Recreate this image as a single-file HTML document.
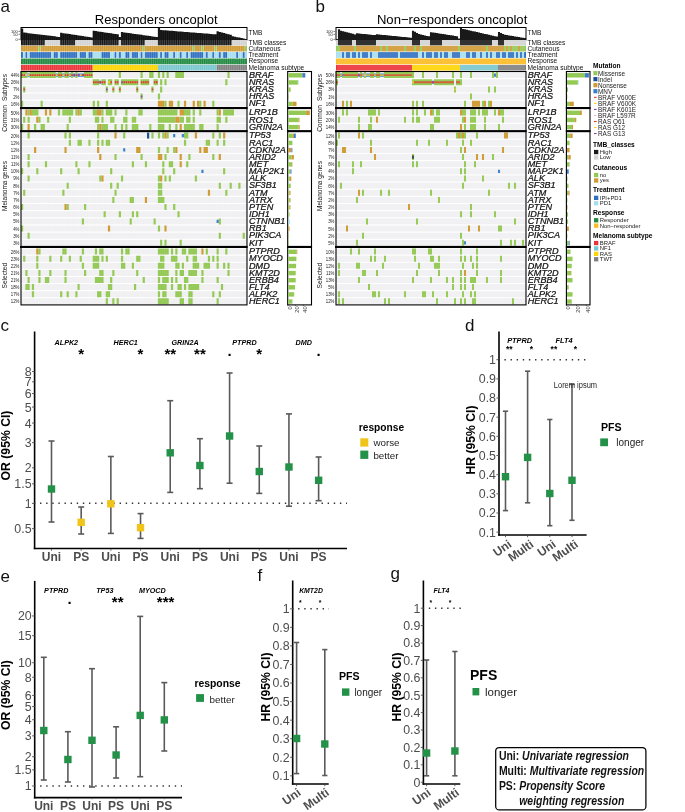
<!DOCTYPE html>
<html><head><meta charset="utf-8"><style>
html,body{margin:0;padding:0;background:#fff;width:685px;height:812px;overflow:hidden}
svg{display:block;will-change:transform}
text{font-family:"Liberation Sans",sans-serif}
</style></head><body>
<svg width="685" height="812" viewBox="0 0 685 812">
<rect width="685" height="812" fill="#fff"/>
<rect x="21.00" y="27.5" width="225.99" height="12.4" fill="none" stroke="#000" stroke-width="1"/>
<path d="M20.95 28.60H23.22V39.9H20.95ZM23.12 32.60H25.40V39.9H23.12ZM25.30 32.87H27.57V39.9H25.30ZM27.47 33.14H29.74V39.9H27.47ZM29.64 33.41H31.92V39.9H29.64ZM31.82 33.67H34.09V39.9H31.82ZM33.99 33.94H36.26V39.9H33.99ZM36.16 34.21H38.43V39.9H36.16ZM38.33 34.48H40.61V39.9H38.33ZM40.51 34.75H42.78V39.9H40.51ZM42.68 35.02H44.95V39.9H42.68ZM44.85 35.29H47.13V39.9H44.85ZM47.03 35.56H49.30V39.9H47.03ZM49.20 35.82H51.47V39.9H49.20ZM51.37 36.09H53.64V39.9H51.37ZM53.55 36.36H55.82V39.9H53.55ZM55.72 36.63H57.99V39.9H55.72ZM57.89 36.90H60.16V39.9H57.89ZM60.06 32.80H62.34V39.9H60.06ZM62.24 33.13H64.51V39.9H62.24ZM64.41 33.46H66.68V39.9H64.41ZM66.58 33.79H68.86V39.9H66.58ZM68.76 34.11H71.03V39.9H68.76ZM70.93 34.44H73.20V39.9H70.93ZM73.10 34.77H75.38V39.9H73.10ZM75.28 35.10H77.55V39.9H75.28ZM77.45 35.43H79.72V39.9H77.45ZM79.62 35.76H81.89V39.9H79.62ZM81.79 36.09H84.07V39.9H81.79ZM83.97 36.41H86.24V39.9H83.97ZM86.14 36.74H88.41V39.9H86.14ZM88.31 37.07H90.59V39.9H88.31ZM90.49 37.40H92.76V39.9H90.49ZM92.66 30.80H94.93V39.9H92.66ZM94.83 31.12H97.11V39.9H94.83ZM97.01 31.44H99.28V39.9H97.01ZM99.18 31.75H101.45V39.9H99.18ZM101.35 32.07H103.62V39.9H101.35ZM103.52 32.39H105.80V39.9H103.52ZM105.70 32.71H107.97V39.9H105.70ZM107.87 33.03H110.14V39.9H107.87ZM110.04 33.35H112.32V39.9H110.04ZM112.22 33.66H114.49V39.9H112.22ZM114.39 33.98H116.66V39.9H114.39ZM116.56 34.30H118.83V39.9H116.56ZM118.73 37.00H121.01V39.9H118.73ZM120.91 32.10H123.18V39.9H120.91ZM123.08 32.41H125.35V39.9H123.08ZM125.25 32.71H127.53V39.9H125.25ZM127.43 33.02H129.70V39.9H127.43ZM129.60 33.33H131.87V39.9H129.60ZM131.77 33.63H134.05V39.9H131.77ZM133.95 33.94H136.22V39.9H133.95ZM136.12 34.24H138.39V39.9H136.12ZM138.29 34.55H140.56V39.9H138.29ZM140.46 34.86H142.74V39.9H140.46ZM142.64 35.16H144.91V39.9H142.64ZM144.81 35.47H147.08V39.9H144.81ZM146.98 35.77H149.26V39.9H146.98ZM149.16 36.08H151.43V39.9H149.16ZM151.33 36.39H153.60V39.9H151.33ZM153.50 36.69H155.78V39.9H153.50ZM155.68 37.00H157.95V39.9H155.68ZM157.85 27.60H160.12V39.9H157.85ZM160.02 30.00H162.30V39.9H160.02ZM162.19 30.17H164.47V39.9H162.19ZM164.37 30.34H166.64V39.9H164.37ZM166.54 30.52H168.81V39.9H166.54ZM168.71 30.69H170.99V39.9H168.71ZM170.89 30.86H173.16V39.9H170.89ZM173.06 31.03H175.33V39.9H173.06ZM175.23 31.20H177.51V39.9H175.23ZM177.41 31.38H179.68V39.9H177.41ZM179.58 31.55H181.85V39.9H179.58ZM181.75 31.72H184.03V39.9H181.75ZM183.92 31.89H186.20V39.9H183.92ZM186.10 32.06H188.37V39.9H186.10ZM188.27 32.24H190.54V39.9H188.27ZM190.44 32.41H192.72V39.9H190.44ZM192.62 32.58H194.89V39.9H192.62ZM194.79 32.75H197.06V39.9H194.79ZM196.96 32.92H199.24V39.9H196.96ZM199.14 33.10H201.41V39.9H199.14ZM201.31 33.27H203.58V39.9H201.31ZM203.48 33.44H205.76V39.9H203.48ZM205.66 33.61H207.93V39.9H205.66ZM207.83 33.78H210.10V39.9H207.83ZM210.00 33.96H212.27V39.9H210.00ZM212.17 34.13H214.45V39.9H212.17ZM214.35 34.30H216.62V39.9H214.35ZM216.52 31.30H218.79V39.9H216.52ZM218.69 31.88H220.97V39.9H218.69ZM220.87 32.47H223.14V39.9H220.87ZM223.04 33.05H225.31V39.9H223.04ZM225.21 33.63H227.49V39.9H225.21ZM227.38 34.22H229.66V39.9H227.38ZM229.56 34.80H231.83V39.9H229.56ZM231.73 36.30H234.00V39.9H231.73ZM233.90 36.73H236.18V39.9H233.90ZM236.08 37.17H238.35V39.9H236.08ZM238.25 37.60H240.52V39.9H238.25ZM240.42 38.03H242.70V39.9H240.42ZM242.60 38.47H244.87V39.9H242.60ZM244.77 38.90H247.04V39.9H244.77Z" fill="#111"/>
<path d="M23.17 28V40M25.35 28V40M27.52 28V40M29.69 28V40M31.87 28V40M34.04 28V40M36.21 28V40M38.38 28V40M40.56 28V40M42.73 28V40M44.90 28V40M47.08 28V40M49.25 28V40M51.42 28V40M53.59 28V40M55.77 28V40M57.94 28V40M60.11 28V40M62.29 28V40M64.46 28V40M66.63 28V40M68.81 28V40M70.98 28V40M73.15 28V40M75.33 28V40M77.50 28V40M79.67 28V40M81.84 28V40M84.02 28V40M86.19 28V40M88.36 28V40M90.54 28V40M92.71 28V40M94.88 28V40M97.06 28V40M99.23 28V40M101.40 28V40M103.57 28V40M105.75 28V40M107.92 28V40M110.09 28V40M112.27 28V40M114.44 28V40M116.61 28V40M118.78 28V40M120.96 28V40M123.13 28V40M125.30 28V40M127.48 28V40M129.65 28V40M131.82 28V40M134.00 28V40M136.17 28V40M138.34 28V40M140.51 28V40M142.69 28V40M144.86 28V40M147.03 28V40M149.21 28V40M151.38 28V40M153.55 28V40M155.73 28V40M157.90 28V40M160.07 28V40M162.25 28V40M164.42 28V40M166.59 28V40M168.76 28V40M170.94 28V40M173.11 28V40M175.28 28V40M177.46 28V40M179.63 28V40M181.80 28V40M183.97 28V40M186.15 28V40M188.32 28V40M190.49 28V40M192.67 28V40M194.84 28V40M197.01 28V40M199.19 28V40M201.36 28V40M203.53 28V40M205.71 28V40M207.88 28V40M210.05 28V40M212.22 28V40M214.40 28V40M216.57 28V40M218.74 28V40M220.92 28V40M223.09 28V40M225.26 28V40M227.44 28V40M229.61 28V40M231.78 28V40M233.95 28V40M236.13 28V40M238.30 28V40M240.47 28V40M242.65 28V40M244.82 28V40" stroke="#fff" stroke-width="0.3" stroke-opacity="0.25"/>
<rect x="21.00" y="40.00" width="23.90" height="5.40" fill="#1A1A1A" />
<rect x="44.90" y="40.00" width="15.21" height="5.40" fill="#D3D3D3" />
<rect x="60.11" y="40.00" width="15.21" height="5.40" fill="#1A1A1A" />
<rect x="75.33" y="40.00" width="17.38" height="5.40" fill="#D3D3D3" />
<rect x="92.71" y="40.00" width="26.08" height="5.40" fill="#1A1A1A" />
<rect x="118.78" y="40.00" width="2.17" height="5.40" fill="#D3D3D3" />
<rect x="120.96" y="40.00" width="23.90" height="5.40" fill="#1A1A1A" />
<rect x="144.86" y="40.00" width="13.04" height="5.40" fill="#D3D3D3" />
<rect x="157.90" y="40.00" width="73.88" height="5.40" fill="#1A1A1A" />
<rect x="231.78" y="40.00" width="15.21" height="5.40" fill="#D3D3D3" />
<rect x="21.00" y="45.80" width="17.38" height="5.70" fill="#D09A33" />
<rect x="38.38" y="45.80" width="2.17" height="5.70" fill="#93C954" />
<rect x="40.56" y="45.80" width="102.13" height="5.70" fill="#D09A33" />
<rect x="142.69" y="45.80" width="2.17" height="5.70" fill="#93C954" />
<rect x="144.86" y="45.80" width="47.81" height="5.70" fill="#D09A33" />
<rect x="192.67" y="45.80" width="2.17" height="5.70" fill="#93C954" />
<rect x="194.84" y="45.80" width="6.52" height="5.70" fill="#D09A33" />
<rect x="201.36" y="45.80" width="2.17" height="5.70" fill="#93C954" />
<rect x="203.53" y="45.80" width="10.87" height="5.70" fill="#D09A33" />
<rect x="214.40" y="45.80" width="2.17" height="5.70" fill="#93C954" />
<rect x="216.57" y="45.80" width="28.25" height="5.70" fill="#D09A33" />
<rect x="244.82" y="45.80" width="2.17" height="5.70" fill="#93C954" />
<rect x="21.00" y="52.10" width="2.17" height="5.80" fill="#2E6FC0" />
<rect x="23.17" y="52.10" width="2.17" height="5.80" fill="#A6DEF0" />
<rect x="25.35" y="52.10" width="2.17" height="5.80" fill="#2E6FC0" />
<rect x="27.52" y="52.10" width="2.17" height="5.80" fill="#A6DEF0" />
<rect x="29.69" y="52.10" width="21.73" height="5.80" fill="#2E6FC0" />
<rect x="51.42" y="52.10" width="2.17" height="5.80" fill="#A6DEF0" />
<rect x="53.59" y="52.10" width="4.35" height="5.80" fill="#2E6FC0" />
<rect x="57.94" y="52.10" width="2.17" height="5.80" fill="#A6DEF0" />
<rect x="60.11" y="52.10" width="17.38" height="5.80" fill="#2E6FC0" />
<rect x="77.50" y="52.10" width="2.17" height="5.80" fill="#A6DEF0" />
<rect x="79.67" y="52.10" width="6.52" height="5.80" fill="#2E6FC0" />
<rect x="86.19" y="52.10" width="2.17" height="5.80" fill="#A6DEF0" />
<rect x="88.36" y="52.10" width="4.35" height="5.80" fill="#2E6FC0" />
<rect x="92.71" y="52.10" width="8.69" height="5.80" fill="#A6DEF0" />
<rect x="101.40" y="52.10" width="8.69" height="5.80" fill="#2E6FC0" />
<rect x="110.09" y="52.10" width="4.35" height="5.80" fill="#A6DEF0" />
<rect x="114.44" y="52.10" width="2.17" height="5.80" fill="#2E6FC0" />
<rect x="116.61" y="52.10" width="2.17" height="5.80" fill="#A6DEF0" />
<rect x="118.78" y="52.10" width="2.17" height="5.80" fill="#2E6FC0" />
<rect x="120.96" y="52.10" width="4.35" height="5.80" fill="#A6DEF0" />
<rect x="125.30" y="52.10" width="4.35" height="5.80" fill="#2E6FC0" />
<rect x="129.65" y="52.10" width="2.17" height="5.80" fill="#A6DEF0" />
<rect x="131.82" y="52.10" width="6.52" height="5.80" fill="#2E6FC0" />
<rect x="138.34" y="52.10" width="2.17" height="5.80" fill="#A6DEF0" />
<rect x="140.51" y="52.10" width="2.17" height="5.80" fill="#2E6FC0" />
<rect x="142.69" y="52.10" width="2.17" height="5.80" fill="#A6DEF0" />
<rect x="144.86" y="52.10" width="13.04" height="5.80" fill="#2E6FC0" />
<rect x="157.90" y="52.10" width="2.17" height="5.80" fill="#A6DEF0" />
<rect x="160.07" y="52.10" width="2.17" height="5.80" fill="#2E6FC0" />
<rect x="162.25" y="52.10" width="2.17" height="5.80" fill="#A6DEF0" />
<rect x="164.42" y="52.10" width="4.35" height="5.80" fill="#2E6FC0" />
<rect x="168.76" y="52.10" width="4.35" height="5.80" fill="#A6DEF0" />
<rect x="173.11" y="52.10" width="2.17" height="5.80" fill="#2E6FC0" />
<rect x="175.28" y="52.10" width="4.35" height="5.80" fill="#A6DEF0" />
<rect x="179.63" y="52.10" width="2.17" height="5.80" fill="#2E6FC0" />
<rect x="181.80" y="52.10" width="4.35" height="5.80" fill="#A6DEF0" />
<rect x="186.15" y="52.10" width="2.17" height="5.80" fill="#2E6FC0" />
<rect x="188.32" y="52.10" width="2.17" height="5.80" fill="#A6DEF0" />
<rect x="190.49" y="52.10" width="13.04" height="5.80" fill="#2E6FC0" />
<rect x="203.53" y="52.10" width="2.17" height="5.80" fill="#A6DEF0" />
<rect x="205.71" y="52.10" width="2.17" height="5.80" fill="#2E6FC0" />
<rect x="207.88" y="52.10" width="4.35" height="5.80" fill="#A6DEF0" />
<rect x="212.22" y="52.10" width="2.17" height="5.80" fill="#2E6FC0" />
<rect x="214.40" y="52.10" width="4.35" height="5.80" fill="#A6DEF0" />
<rect x="218.74" y="52.10" width="2.17" height="5.80" fill="#2E6FC0" />
<rect x="220.92" y="52.10" width="2.17" height="5.80" fill="#A6DEF0" />
<rect x="223.09" y="52.10" width="4.35" height="5.80" fill="#2E6FC0" />
<rect x="227.44" y="52.10" width="8.69" height="5.80" fill="#A6DEF0" />
<rect x="236.13" y="52.10" width="2.17" height="5.80" fill="#2E6FC0" />
<rect x="238.30" y="52.10" width="4.35" height="5.80" fill="#A6DEF0" />
<rect x="242.65" y="52.10" width="2.17" height="5.80" fill="#2E6FC0" />
<rect x="244.82" y="52.10" width="2.17" height="5.80" fill="#A6DEF0" />
<rect x="21.00" y="58.50" width="225.99" height="5.80" fill="#208A40" />
<rect x="21.00" y="64.90" width="71.71" height="5.60" fill="#EC3237" />
<rect x="92.71" y="64.90" width="65.19" height="5.60" fill="#FDD400" />
<rect x="157.90" y="64.90" width="58.67" height="5.60" fill="#78C6D0" />
<rect x="216.57" y="64.90" width="30.42" height="5.60" fill="#808080" />
<rect x="21.00" y="72.10" width="225.99" height="6.00" fill="#F0F0F2" />
<rect x="21.00" y="79.25" width="225.99" height="6.00" fill="#F0F0F2" />
<rect x="21.00" y="86.40" width="225.99" height="6.00" fill="#F0F0F2" />
<rect x="21.00" y="93.55" width="225.99" height="6.00" fill="#F0F0F2" />
<rect x="21.00" y="100.70" width="225.99" height="6.00" fill="#F0F0F2" />
<rect x="21.00" y="109.60" width="225.99" height="6.00" fill="#F0F0F2" />
<rect x="21.00" y="116.75" width="225.99" height="6.00" fill="#F0F0F2" />
<rect x="21.00" y="123.90" width="225.99" height="6.00" fill="#F0F0F2" />
<rect x="21.00" y="132.60" width="225.99" height="6.00" fill="#F0F0F2" />
<rect x="21.00" y="139.75" width="225.99" height="6.00" fill="#F0F0F2" />
<rect x="21.00" y="146.90" width="225.99" height="6.00" fill="#F0F0F2" />
<rect x="21.00" y="154.05" width="225.99" height="6.00" fill="#F0F0F2" />
<rect x="21.00" y="161.20" width="225.99" height="6.00" fill="#F0F0F2" />
<rect x="21.00" y="168.35" width="225.99" height="6.00" fill="#F0F0F2" />
<rect x="21.00" y="175.50" width="225.99" height="6.00" fill="#F0F0F2" />
<rect x="21.00" y="182.65" width="225.99" height="6.00" fill="#F0F0F2" />
<rect x="21.00" y="189.80" width="225.99" height="6.00" fill="#F0F0F2" />
<rect x="21.00" y="196.95" width="225.99" height="6.00" fill="#F0F0F2" />
<rect x="21.00" y="204.10" width="225.99" height="6.00" fill="#F0F0F2" />
<rect x="21.00" y="211.25" width="225.99" height="6.00" fill="#F0F0F2" />
<rect x="21.00" y="218.40" width="225.99" height="6.00" fill="#F0F0F2" />
<rect x="21.00" y="225.55" width="225.99" height="6.00" fill="#F0F0F2" />
<rect x="21.00" y="232.70" width="225.99" height="6.00" fill="#F0F0F2" />
<rect x="21.00" y="239.85" width="225.99" height="6.00" fill="#F0F0F2" />
<rect x="21.00" y="248.60" width="225.99" height="6.00" fill="#F0F0F2" />
<rect x="21.00" y="255.70" width="225.99" height="6.00" fill="#F0F0F2" />
<rect x="21.00" y="262.80" width="225.99" height="6.00" fill="#F0F0F2" />
<rect x="21.00" y="269.90" width="225.99" height="6.00" fill="#F0F0F2" />
<rect x="21.00" y="277.00" width="225.99" height="6.00" fill="#F0F0F2" />
<rect x="21.00" y="284.10" width="225.99" height="6.00" fill="#F0F0F2" />
<rect x="21.00" y="291.20" width="225.99" height="6.00" fill="#F0F0F2" />
<rect x="21.00" y="298.30" width="225.99" height="6.00" fill="#F0F0F2" />
<path d="M23.17 40V304.30M25.35 40V304.30M27.52 40V304.30M29.69 40V304.30M31.87 40V304.30M34.04 40V304.30M36.21 40V304.30M38.38 40V304.30M40.56 40V304.30M42.73 40V304.30M44.90 40V304.30M47.08 40V304.30M49.25 40V304.30M51.42 40V304.30M53.59 40V304.30M55.77 40V304.30M57.94 40V304.30M60.11 40V304.30M62.29 40V304.30M64.46 40V304.30M66.63 40V304.30M68.81 40V304.30M70.98 40V304.30M73.15 40V304.30M75.33 40V304.30M77.50 40V304.30M79.67 40V304.30M81.84 40V304.30M84.02 40V304.30M86.19 40V304.30M88.36 40V304.30M90.54 40V304.30M92.71 40V304.30M94.88 40V304.30M97.06 40V304.30M99.23 40V304.30M101.40 40V304.30M103.57 40V304.30M105.75 40V304.30M107.92 40V304.30M110.09 40V304.30M112.27 40V304.30M114.44 40V304.30M116.61 40V304.30M118.78 40V304.30M120.96 40V304.30M123.13 40V304.30M125.30 40V304.30M127.48 40V304.30M129.65 40V304.30M131.82 40V304.30M134.00 40V304.30M136.17 40V304.30M138.34 40V304.30M140.51 40V304.30M142.69 40V304.30M144.86 40V304.30M147.03 40V304.30M149.21 40V304.30M151.38 40V304.30M153.55 40V304.30M155.73 40V304.30M157.90 40V304.30M160.07 40V304.30M162.25 40V304.30M164.42 40V304.30M166.59 40V304.30M168.76 40V304.30M170.94 40V304.30M173.11 40V304.30M175.28 40V304.30M177.46 40V304.30M179.63 40V304.30M181.80 40V304.30M183.97 40V304.30M186.15 40V304.30M188.32 40V304.30M190.49 40V304.30M192.67 40V304.30M194.84 40V304.30M197.01 40V304.30M199.19 40V304.30M201.36 40V304.30M203.53 40V304.30M205.71 40V304.30M207.88 40V304.30M210.05 40V304.30M212.22 40V304.30M214.40 40V304.30M216.57 40V304.30M218.74 40V304.30M220.92 40V304.30M223.09 40V304.30M225.26 40V304.30M227.44 40V304.30M229.61 40V304.30M231.78 40V304.30M233.95 40V304.30M236.13 40V304.30M238.30 40V304.30M240.47 40V304.30M242.65 40V304.30M244.82 40V304.30" stroke="#fff" stroke-width="0.3" stroke-opacity="0.55"/>
<path d="M20.98 72.10h2.21v6.00h-2.21ZM23.15 72.10h2.21v6.00h-2.21ZM25.33 72.10h2.21v6.00h-2.21ZM29.67 72.10h2.21v6.00h-2.21ZM31.85 72.10h2.21v6.00h-2.21ZM34.02 72.10h2.21v6.00h-2.21ZM36.19 72.10h2.21v6.00h-2.21ZM38.36 72.10h2.21v6.00h-2.21ZM40.54 72.10h2.21v6.00h-2.21ZM42.71 72.10h2.21v6.00h-2.21ZM44.88 72.10h2.21v6.00h-2.21ZM47.06 72.10h2.21v6.00h-2.21ZM49.23 72.10h2.21v6.00h-2.21ZM51.40 72.10h2.21v6.00h-2.21ZM53.57 72.10h2.21v6.00h-2.21ZM57.92 72.10h2.21v6.00h-2.21ZM60.09 72.10h2.21v6.00h-2.21ZM64.44 72.10h2.21v6.00h-2.21ZM66.61 72.10h2.21v6.00h-2.21ZM70.96 72.10h2.21v6.00h-2.21ZM75.31 72.10h2.21v6.00h-2.21ZM84.00 72.10h2.21v6.00h-2.21ZM86.17 72.10h2.21v6.00h-2.21ZM88.34 72.10h2.21v6.00h-2.21ZM90.52 72.10h2.21v6.00h-2.21ZM118.77 72.10h2.21v6.00h-2.21ZM140.49 72.10h2.21v6.00h-2.21ZM149.19 72.10h2.21v6.00h-2.21ZM151.36 72.10h2.21v6.00h-2.21ZM157.88 72.10h2.21v6.00h-2.21ZM162.22 72.10h2.21v6.00h-2.21ZM166.57 72.10h2.21v6.00h-2.21ZM175.26 72.10h2.21v6.00h-2.21ZM177.44 72.10h2.21v6.00h-2.21ZM179.61 72.10h2.21v6.00h-2.21ZM181.78 72.10h2.21v6.00h-2.21ZM227.41 72.10h2.21v6.00h-2.21ZM92.69 79.25h2.21v6.00h-2.21ZM94.86 79.25h2.21v6.00h-2.21ZM97.04 79.25h2.21v6.00h-2.21ZM101.38 79.25h2.21v6.00h-2.21ZM103.55 79.25h2.21v6.00h-2.21ZM107.90 79.25h2.21v6.00h-2.21ZM110.07 79.25h2.21v6.00h-2.21ZM114.42 79.25h2.21v6.00h-2.21ZM116.59 79.25h2.21v6.00h-2.21ZM120.94 79.25h2.21v6.00h-2.21ZM123.11 79.25h2.21v6.00h-2.21ZM125.28 79.25h2.21v6.00h-2.21ZM127.46 79.25h2.21v6.00h-2.21ZM129.63 79.25h2.21v6.00h-2.21ZM131.80 79.25h2.21v6.00h-2.21ZM133.98 79.25h2.21v6.00h-2.21ZM136.15 79.25h2.21v6.00h-2.21ZM140.49 79.25h2.21v6.00h-2.21ZM142.67 79.25h2.21v6.00h-2.21ZM144.84 79.25h2.21v6.00h-2.21ZM147.01 79.25h2.21v6.00h-2.21ZM153.53 79.25h2.21v6.00h-2.21ZM155.71 79.25h2.21v6.00h-2.21ZM160.05 79.25h2.21v6.00h-2.21ZM164.40 79.25h2.21v6.00h-2.21ZM225.24 79.25h2.21v6.00h-2.21ZM23.15 86.40h2.21v6.00h-2.21ZM105.73 86.40h2.21v6.00h-2.21ZM112.25 86.40h2.21v6.00h-2.21ZM118.77 86.40h2.21v6.00h-2.21ZM136.15 86.40h2.21v6.00h-2.21ZM151.36 86.40h2.21v6.00h-2.21ZM160.05 86.40h2.21v6.00h-2.21ZM140.49 93.55h2.21v6.00h-2.21ZM157.88 93.55h2.21v6.00h-2.21ZM20.98 100.70h2.21v6.00h-2.21ZM40.54 100.70h2.21v6.00h-2.21ZM92.69 100.70h2.21v6.00h-2.21ZM97.04 100.70h2.21v6.00h-2.21ZM105.73 100.70h2.21v6.00h-2.21ZM164.40 100.70h2.21v6.00h-2.21ZM177.44 100.70h2.21v6.00h-2.21ZM199.17 100.70h2.21v6.00h-2.21ZM212.20 100.70h2.21v6.00h-2.21ZM27.50 109.60h2.21v6.00h-2.21ZM31.85 109.60h2.21v6.00h-2.21ZM34.02 109.60h2.21v6.00h-2.21ZM36.19 109.60h2.21v6.00h-2.21ZM57.92 109.60h2.21v6.00h-2.21ZM62.27 109.60h2.21v6.00h-2.21ZM64.44 109.60h2.21v6.00h-2.21ZM66.61 109.60h2.21v6.00h-2.21ZM68.79 109.60h2.21v6.00h-2.21ZM70.96 109.60h2.21v6.00h-2.21ZM75.31 109.60h2.21v6.00h-2.21ZM79.65 109.60h2.21v6.00h-2.21ZM92.69 109.60h2.21v6.00h-2.21ZM94.86 109.60h2.21v6.00h-2.21ZM101.38 109.60h2.21v6.00h-2.21ZM105.73 109.60h2.21v6.00h-2.21ZM107.90 109.60h2.21v6.00h-2.21ZM110.07 109.60h2.21v6.00h-2.21ZM114.42 109.60h2.21v6.00h-2.21ZM125.28 109.60h2.21v6.00h-2.21ZM138.32 109.60h2.21v6.00h-2.21ZM140.49 109.60h2.21v6.00h-2.21ZM157.88 109.60h2.21v6.00h-2.21ZM160.05 109.60h2.21v6.00h-2.21ZM162.22 109.60h2.21v6.00h-2.21ZM164.40 109.60h2.21v6.00h-2.21ZM166.57 109.60h2.21v6.00h-2.21ZM168.74 109.60h2.21v6.00h-2.21ZM170.92 109.60h2.21v6.00h-2.21ZM173.09 109.60h2.21v6.00h-2.21ZM175.26 109.60h2.21v6.00h-2.21ZM183.95 109.60h2.21v6.00h-2.21ZM186.13 109.60h2.21v6.00h-2.21ZM188.30 109.60h2.21v6.00h-2.21ZM192.65 109.60h2.21v6.00h-2.21ZM199.17 109.60h2.21v6.00h-2.21ZM216.55 109.60h2.21v6.00h-2.21ZM223.07 109.60h2.21v6.00h-2.21ZM225.24 109.60h2.21v6.00h-2.21ZM227.41 109.60h2.21v6.00h-2.21ZM229.59 109.60h2.21v6.00h-2.21ZM231.76 109.60h2.21v6.00h-2.21ZM23.15 116.75h2.21v6.00h-2.21ZM27.50 116.75h2.21v6.00h-2.21ZM38.36 116.75h2.21v6.00h-2.21ZM47.06 116.75h2.21v6.00h-2.21ZM68.79 116.75h2.21v6.00h-2.21ZM94.86 116.75h2.21v6.00h-2.21ZM97.04 116.75h2.21v6.00h-2.21ZM101.38 116.75h2.21v6.00h-2.21ZM110.07 116.75h2.21v6.00h-2.21ZM112.25 116.75h2.21v6.00h-2.21ZM123.11 116.75h2.21v6.00h-2.21ZM125.28 116.75h2.21v6.00h-2.21ZM131.80 116.75h2.21v6.00h-2.21ZM133.98 116.75h2.21v6.00h-2.21ZM157.88 116.75h2.21v6.00h-2.21ZM160.05 116.75h2.21v6.00h-2.21ZM162.22 116.75h2.21v6.00h-2.21ZM164.40 116.75h2.21v6.00h-2.21ZM166.57 116.75h2.21v6.00h-2.21ZM168.74 116.75h2.21v6.00h-2.21ZM170.92 116.75h2.21v6.00h-2.21ZM173.09 116.75h2.21v6.00h-2.21ZM179.61 116.75h2.21v6.00h-2.21ZM181.78 116.75h2.21v6.00h-2.21ZM186.13 116.75h2.21v6.00h-2.21ZM188.30 116.75h2.21v6.00h-2.21ZM192.65 116.75h2.21v6.00h-2.21ZM216.55 116.75h2.21v6.00h-2.21ZM218.72 116.75h2.21v6.00h-2.21ZM225.24 116.75h2.21v6.00h-2.21ZM20.98 123.90h2.21v6.00h-2.21ZM34.02 123.90h2.21v6.00h-2.21ZM40.54 123.90h2.21v6.00h-2.21ZM42.71 123.90h2.21v6.00h-2.21ZM66.61 123.90h2.21v6.00h-2.21ZM97.04 123.90h2.21v6.00h-2.21ZM101.38 123.90h2.21v6.00h-2.21ZM103.55 123.90h2.21v6.00h-2.21ZM105.73 123.90h2.21v6.00h-2.21ZM114.42 123.90h2.21v6.00h-2.21ZM120.94 123.90h2.21v6.00h-2.21ZM125.28 123.90h2.21v6.00h-2.21ZM131.80 123.90h2.21v6.00h-2.21ZM133.98 123.90h2.21v6.00h-2.21ZM136.15 123.90h2.21v6.00h-2.21ZM149.19 123.90h2.21v6.00h-2.21ZM157.88 123.90h2.21v6.00h-2.21ZM160.05 123.90h2.21v6.00h-2.21ZM162.22 123.90h2.21v6.00h-2.21ZM168.74 123.90h2.21v6.00h-2.21ZM175.26 123.90h2.21v6.00h-2.21ZM183.95 123.90h2.21v6.00h-2.21ZM186.13 123.90h2.21v6.00h-2.21ZM188.30 123.90h2.21v6.00h-2.21ZM190.47 123.90h2.21v6.00h-2.21ZM192.65 123.90h2.21v6.00h-2.21ZM199.17 123.90h2.21v6.00h-2.21ZM201.34 123.90h2.21v6.00h-2.21ZM216.55 123.90h2.21v6.00h-2.21ZM27.50 132.60h2.21v6.00h-2.21ZM64.44 132.60h2.21v6.00h-2.21ZM68.79 132.60h2.21v6.00h-2.21ZM97.04 132.60h2.21v6.00h-2.21ZM123.11 132.60h2.21v6.00h-2.21ZM151.36 132.60h2.21v6.00h-2.21ZM157.88 132.60h2.21v6.00h-2.21ZM162.22 132.60h2.21v6.00h-2.21ZM166.57 132.60h2.21v6.00h-2.21ZM183.95 132.60h2.21v6.00h-2.21ZM186.13 132.60h2.21v6.00h-2.21ZM212.20 132.60h2.21v6.00h-2.21ZM218.72 132.60h2.21v6.00h-2.21ZM68.79 139.75h2.21v6.00h-2.21ZM77.48 139.75h2.21v6.00h-2.21ZM79.65 139.75h2.21v6.00h-2.21ZM88.34 139.75h2.21v6.00h-2.21ZM97.04 139.75h2.21v6.00h-2.21ZM101.38 139.75h2.21v6.00h-2.21ZM105.73 139.75h2.21v6.00h-2.21ZM107.90 139.75h2.21v6.00h-2.21ZM183.95 139.75h2.21v6.00h-2.21ZM205.69 139.75h2.21v6.00h-2.21ZM207.86 139.75h2.21v6.00h-2.21ZM216.55 139.75h2.21v6.00h-2.21ZM223.07 139.75h2.21v6.00h-2.21ZM157.88 146.90h2.21v6.00h-2.21ZM166.57 146.90h2.21v6.00h-2.21ZM173.09 146.90h2.21v6.00h-2.21ZM27.50 154.05h2.21v6.00h-2.21ZM114.42 154.05h2.21v6.00h-2.21ZM140.49 154.05h2.21v6.00h-2.21ZM164.40 154.05h2.21v6.00h-2.21ZM188.30 154.05h2.21v6.00h-2.21ZM212.20 154.05h2.21v6.00h-2.21ZM27.50 161.20h2.21v6.00h-2.21ZM44.88 161.20h2.21v6.00h-2.21ZM75.31 161.20h2.21v6.00h-2.21ZM88.34 161.20h2.21v6.00h-2.21ZM131.80 161.20h2.21v6.00h-2.21ZM144.84 161.20h2.21v6.00h-2.21ZM162.22 161.20h2.21v6.00h-2.21ZM168.74 161.20h2.21v6.00h-2.21ZM170.92 161.20h2.21v6.00h-2.21ZM186.13 161.20h2.21v6.00h-2.21ZM20.98 168.35h2.21v6.00h-2.21ZM36.19 168.35h2.21v6.00h-2.21ZM60.09 168.35h2.21v6.00h-2.21ZM77.48 168.35h2.21v6.00h-2.21ZM110.07 168.35h2.21v6.00h-2.21ZM162.22 168.35h2.21v6.00h-2.21ZM173.09 168.35h2.21v6.00h-2.21ZM223.07 168.35h2.21v6.00h-2.21ZM27.50 175.50h2.21v6.00h-2.21ZM99.21 175.50h2.21v6.00h-2.21ZM120.94 175.50h2.21v6.00h-2.21ZM157.88 175.50h2.21v6.00h-2.21ZM164.40 175.50h2.21v6.00h-2.21ZM168.74 175.50h2.21v6.00h-2.21ZM194.82 175.50h2.21v6.00h-2.21ZM66.61 182.65h2.21v6.00h-2.21ZM110.07 182.65h2.21v6.00h-2.21ZM116.59 182.65h2.21v6.00h-2.21ZM157.88 182.65h2.21v6.00h-2.21ZM160.05 182.65h2.21v6.00h-2.21ZM218.72 182.65h2.21v6.00h-2.21ZM229.59 182.65h2.21v6.00h-2.21ZM238.28 182.65h2.21v6.00h-2.21ZM23.15 189.80h2.21v6.00h-2.21ZM62.27 189.80h2.21v6.00h-2.21ZM114.42 189.80h2.21v6.00h-2.21ZM157.88 189.80h2.21v6.00h-2.21ZM160.05 189.80h2.21v6.00h-2.21ZM225.24 189.80h2.21v6.00h-2.21ZM112.25 196.95h2.21v6.00h-2.21ZM129.63 196.95h2.21v6.00h-2.21ZM131.80 196.95h2.21v6.00h-2.21ZM157.88 196.95h2.21v6.00h-2.21ZM160.05 196.95h2.21v6.00h-2.21ZM162.22 196.95h2.21v6.00h-2.21ZM20.98 204.10h2.21v6.00h-2.21ZM66.61 204.10h2.21v6.00h-2.21ZM84.00 204.10h2.21v6.00h-2.21ZM164.40 204.10h2.21v6.00h-2.21ZM173.09 204.10h2.21v6.00h-2.21ZM103.55 211.25h2.21v6.00h-2.21ZM118.77 211.25h2.21v6.00h-2.21ZM131.80 211.25h2.21v6.00h-2.21ZM136.15 211.25h2.21v6.00h-2.21ZM177.44 211.25h2.21v6.00h-2.21ZM81.82 218.40h2.21v6.00h-2.21ZM129.63 218.40h2.21v6.00h-2.21ZM153.53 218.40h2.21v6.00h-2.21ZM218.72 218.40h2.21v6.00h-2.21ZM20.98 225.55h2.21v6.00h-2.21ZM157.88 225.55h2.21v6.00h-2.21ZM27.50 232.70h2.21v6.00h-2.21ZM218.72 232.70h2.21v6.00h-2.21ZM242.63 232.70h2.21v6.00h-2.21ZM160.05 239.85h2.21v6.00h-2.21ZM164.40 239.85h2.21v6.00h-2.21ZM179.61 239.85h2.21v6.00h-2.21ZM38.36 248.60h2.21v6.00h-2.21ZM62.27 248.60h2.21v6.00h-2.21ZM64.44 248.60h2.21v6.00h-2.21ZM81.82 248.60h2.21v6.00h-2.21ZM94.86 248.60h2.21v6.00h-2.21ZM99.21 248.60h2.21v6.00h-2.21ZM101.38 248.60h2.21v6.00h-2.21ZM120.94 248.60h2.21v6.00h-2.21ZM125.28 248.60h2.21v6.00h-2.21ZM127.46 248.60h2.21v6.00h-2.21ZM157.88 248.60h2.21v6.00h-2.21ZM160.05 248.60h2.21v6.00h-2.21ZM162.22 248.60h2.21v6.00h-2.21ZM164.40 248.60h2.21v6.00h-2.21ZM166.57 248.60h2.21v6.00h-2.21ZM170.92 248.60h2.21v6.00h-2.21ZM175.26 248.60h2.21v6.00h-2.21ZM181.78 248.60h2.21v6.00h-2.21ZM183.95 248.60h2.21v6.00h-2.21ZM188.30 248.60h2.21v6.00h-2.21ZM192.65 248.60h2.21v6.00h-2.21ZM190.47 248.60h2.21v6.00h-2.21ZM194.82 248.60h2.21v6.00h-2.21ZM205.69 248.60h2.21v6.00h-2.21ZM216.55 248.60h2.21v6.00h-2.21ZM225.24 248.60h2.21v6.00h-2.21ZM23.15 255.70h2.21v6.00h-2.21ZM36.19 255.70h2.21v6.00h-2.21ZM49.23 255.70h2.21v6.00h-2.21ZM60.09 255.70h2.21v6.00h-2.21ZM68.79 255.70h2.21v6.00h-2.21ZM79.65 255.70h2.21v6.00h-2.21ZM92.69 255.70h2.21v6.00h-2.21ZM94.86 255.70h2.21v6.00h-2.21ZM97.04 255.70h2.21v6.00h-2.21ZM101.38 255.70h2.21v6.00h-2.21ZM105.73 255.70h2.21v6.00h-2.21ZM120.94 255.70h2.21v6.00h-2.21ZM136.15 255.70h2.21v6.00h-2.21ZM138.32 255.70h2.21v6.00h-2.21ZM160.05 255.70h2.21v6.00h-2.21ZM162.22 255.70h2.21v6.00h-2.21ZM170.92 255.70h2.21v6.00h-2.21ZM173.09 255.70h2.21v6.00h-2.21ZM175.26 255.70h2.21v6.00h-2.21ZM186.13 255.70h2.21v6.00h-2.21ZM192.65 255.70h2.21v6.00h-2.21ZM194.82 255.70h2.21v6.00h-2.21ZM207.86 255.70h2.21v6.00h-2.21ZM212.20 255.70h2.21v6.00h-2.21ZM216.55 255.70h2.21v6.00h-2.21ZM36.19 262.80h2.21v6.00h-2.21ZM81.82 262.80h2.21v6.00h-2.21ZM92.69 262.80h2.21v6.00h-2.21ZM94.86 262.80h2.21v6.00h-2.21ZM97.04 262.80h2.21v6.00h-2.21ZM120.94 262.80h2.21v6.00h-2.21ZM123.11 262.80h2.21v6.00h-2.21ZM131.80 262.80h2.21v6.00h-2.21ZM157.88 262.80h2.21v6.00h-2.21ZM160.05 262.80h2.21v6.00h-2.21ZM162.22 262.80h2.21v6.00h-2.21ZM175.26 262.80h2.21v6.00h-2.21ZM177.44 262.80h2.21v6.00h-2.21ZM181.78 262.80h2.21v6.00h-2.21ZM192.65 262.80h2.21v6.00h-2.21ZM194.82 262.80h2.21v6.00h-2.21ZM196.99 262.80h2.21v6.00h-2.21ZM203.51 262.80h2.21v6.00h-2.21ZM205.69 262.80h2.21v6.00h-2.21ZM207.86 262.80h2.21v6.00h-2.21ZM216.55 262.80h2.21v6.00h-2.21ZM223.07 262.80h2.21v6.00h-2.21ZM227.41 262.80h2.21v6.00h-2.21ZM25.33 269.90h2.21v6.00h-2.21ZM38.36 269.90h2.21v6.00h-2.21ZM49.23 269.90h2.21v6.00h-2.21ZM64.44 269.90h2.21v6.00h-2.21ZM84.00 269.90h2.21v6.00h-2.21ZM99.21 269.90h2.21v6.00h-2.21ZM101.38 269.90h2.21v6.00h-2.21ZM112.25 269.90h2.21v6.00h-2.21ZM136.15 269.90h2.21v6.00h-2.21ZM157.88 269.90h2.21v6.00h-2.21ZM160.05 269.90h2.21v6.00h-2.21ZM162.22 269.90h2.21v6.00h-2.21ZM164.40 269.90h2.21v6.00h-2.21ZM166.57 269.90h2.21v6.00h-2.21ZM175.26 269.90h2.21v6.00h-2.21ZM179.61 269.90h2.21v6.00h-2.21ZM181.78 269.90h2.21v6.00h-2.21ZM188.30 269.90h2.21v6.00h-2.21ZM192.65 269.90h2.21v6.00h-2.21ZM190.47 269.90h2.21v6.00h-2.21ZM194.82 269.90h2.21v6.00h-2.21ZM201.34 269.90h2.21v6.00h-2.21ZM227.41 269.90h2.21v6.00h-2.21ZM27.50 277.00h2.21v6.00h-2.21ZM38.36 277.00h2.21v6.00h-2.21ZM44.88 277.00h2.21v6.00h-2.21ZM47.06 277.00h2.21v6.00h-2.21ZM64.44 277.00h2.21v6.00h-2.21ZM94.86 277.00h2.21v6.00h-2.21ZM97.04 277.00h2.21v6.00h-2.21ZM99.21 277.00h2.21v6.00h-2.21ZM101.38 277.00h2.21v6.00h-2.21ZM110.07 277.00h2.21v6.00h-2.21ZM142.67 277.00h2.21v6.00h-2.21ZM157.88 277.00h2.21v6.00h-2.21ZM162.22 277.00h2.21v6.00h-2.21ZM164.40 277.00h2.21v6.00h-2.21ZM166.57 277.00h2.21v6.00h-2.21ZM170.92 277.00h2.21v6.00h-2.21ZM175.26 277.00h2.21v6.00h-2.21ZM183.95 277.00h2.21v6.00h-2.21ZM186.13 277.00h2.21v6.00h-2.21ZM201.34 277.00h2.21v6.00h-2.21ZM216.55 277.00h2.21v6.00h-2.21ZM25.33 284.10h2.21v6.00h-2.21ZM27.50 284.10h2.21v6.00h-2.21ZM31.85 284.10h2.21v6.00h-2.21ZM77.48 284.10h2.21v6.00h-2.21ZM107.90 284.10h2.21v6.00h-2.21ZM110.07 284.10h2.21v6.00h-2.21ZM133.98 284.10h2.21v6.00h-2.21ZM157.88 284.10h2.21v6.00h-2.21ZM160.05 284.10h2.21v6.00h-2.21ZM162.22 284.10h2.21v6.00h-2.21ZM164.40 284.10h2.21v6.00h-2.21ZM170.92 284.10h2.21v6.00h-2.21ZM177.44 284.10h2.21v6.00h-2.21ZM179.61 284.10h2.21v6.00h-2.21ZM183.95 284.10h2.21v6.00h-2.21ZM188.30 284.10h2.21v6.00h-2.21ZM192.65 284.10h2.21v6.00h-2.21ZM190.47 284.10h2.21v6.00h-2.21ZM194.82 284.10h2.21v6.00h-2.21ZM196.99 284.10h2.21v6.00h-2.21ZM220.90 284.10h2.21v6.00h-2.21ZM31.85 291.20h2.21v6.00h-2.21ZM60.09 291.20h2.21v6.00h-2.21ZM66.61 291.20h2.21v6.00h-2.21ZM75.31 291.20h2.21v6.00h-2.21ZM97.04 291.20h2.21v6.00h-2.21ZM99.21 291.20h2.21v6.00h-2.21ZM105.73 291.20h2.21v6.00h-2.21ZM107.90 291.20h2.21v6.00h-2.21ZM157.88 291.20h2.21v6.00h-2.21ZM162.22 291.20h2.21v6.00h-2.21ZM164.40 291.20h2.21v6.00h-2.21ZM175.26 291.20h2.21v6.00h-2.21ZM177.44 291.20h2.21v6.00h-2.21ZM179.61 291.20h2.21v6.00h-2.21ZM188.30 291.20h2.21v6.00h-2.21ZM190.47 291.20h2.21v6.00h-2.21ZM212.20 291.20h2.21v6.00h-2.21ZM218.72 291.20h2.21v6.00h-2.21ZM105.73 298.30h2.21v6.00h-2.21ZM112.25 298.30h2.21v6.00h-2.21ZM116.59 298.30h2.21v6.00h-2.21ZM157.88 298.30h2.21v6.00h-2.21ZM160.05 298.30h2.21v6.00h-2.21ZM162.22 298.30h2.21v6.00h-2.21ZM164.40 298.30h2.21v6.00h-2.21ZM166.57 298.30h2.21v6.00h-2.21ZM179.61 298.30h2.21v6.00h-2.21ZM181.78 298.30h2.21v6.00h-2.21ZM188.30 298.30h2.21v6.00h-2.21ZM190.47 298.30h2.21v6.00h-2.21ZM216.55 298.30h2.21v6.00h-2.21Z" fill="#93C954"/>
<path d="M27.50 73.55h2.21v3.10h-2.21ZM55.75 73.55h2.21v3.10h-2.21ZM62.27 73.55h2.21v3.10h-2.21ZM68.79 73.55h2.21v3.10h-2.21ZM73.13 73.55h2.21v3.10h-2.21ZM77.48 73.55h2.21v3.10h-2.21ZM79.65 73.55h2.21v3.10h-2.21ZM81.82 73.55h2.21v3.10h-2.21ZM99.21 80.70h2.21v3.10h-2.21ZM173.09 134.05h2.21v3.10h-2.21ZM181.78 134.05h2.21v3.10h-2.21ZM123.11 148.35h2.21v3.10h-2.21ZM201.34 169.80h2.21v3.10h-2.21ZM216.55 219.85h2.21v3.10h-2.21Z" fill="#3B7FCC"/>
<path d="M157.88 100.70h2.21v6.00h-2.21ZM160.05 100.70h2.21v6.00h-2.21ZM162.22 100.70h2.21v6.00h-2.21ZM168.74 100.70h2.21v6.00h-2.21ZM170.92 100.70h2.21v6.00h-2.21ZM183.95 100.70h2.21v6.00h-2.21ZM192.65 100.70h2.21v6.00h-2.21ZM196.99 100.70h2.21v6.00h-2.21ZM203.51 100.70h2.21v6.00h-2.21ZM25.33 109.60h2.21v6.00h-2.21ZM29.67 109.60h2.21v6.00h-2.21ZM44.88 109.60h2.21v6.00h-2.21ZM49.23 109.60h2.21v6.00h-2.21ZM77.48 109.60h2.21v6.00h-2.21ZM97.04 109.60h2.21v6.00h-2.21ZM99.21 109.60h2.21v6.00h-2.21ZM179.61 109.60h2.21v6.00h-2.21ZM181.78 109.60h2.21v6.00h-2.21ZM218.72 109.60h2.21v6.00h-2.21ZM36.19 116.75h2.21v6.00h-2.21ZM175.26 116.75h2.21v6.00h-2.21ZM177.44 116.75h2.21v6.00h-2.21ZM27.50 123.90h2.21v6.00h-2.21ZM99.21 123.90h2.21v6.00h-2.21ZM179.61 123.90h2.21v6.00h-2.21ZM114.42 132.60h2.21v6.00h-2.21ZM164.40 132.60h2.21v6.00h-2.21ZM194.82 132.60h2.21v6.00h-2.21ZM223.07 132.60h2.21v6.00h-2.21ZM34.02 146.90h2.21v6.00h-2.21ZM64.44 146.90h2.21v6.00h-2.21ZM97.04 146.90h2.21v6.00h-2.21ZM136.15 146.90h2.21v6.00h-2.21ZM138.32 146.90h2.21v6.00h-2.21ZM175.26 146.90h2.21v6.00h-2.21ZM199.17 146.90h2.21v6.00h-2.21ZM203.51 146.90h2.21v6.00h-2.21ZM205.69 146.90h2.21v6.00h-2.21ZM99.21 154.05h2.21v6.00h-2.21ZM157.88 154.05h2.21v6.00h-2.21ZM160.05 154.05h2.21v6.00h-2.21ZM179.61 154.05h2.21v6.00h-2.21ZM218.72 154.05h2.21v6.00h-2.21ZM179.61 161.20h2.21v6.00h-2.21ZM101.38 175.50h2.21v6.00h-2.21ZM160.05 175.50h2.21v6.00h-2.21ZM207.86 189.80h2.21v6.00h-2.21ZM144.84 196.95h2.21v6.00h-2.21ZM64.44 204.10h2.21v6.00h-2.21ZM107.90 225.55h2.21v6.00h-2.21ZM164.40 225.55h2.21v6.00h-2.21ZM36.19 248.60h2.21v6.00h-2.21ZM201.34 248.60h2.21v6.00h-2.21Z" fill="#D09A33"/>
<path d="M147.01 132.60h2.21v6.00h-2.21Z" fill="#1A4F96"/>
<path d="M21.28 74.15h1.61v1.90h-1.61ZM23.45 74.15h1.61v1.90h-1.61ZM29.97 74.15h1.61v1.90h-1.61ZM32.15 74.15h1.61v1.90h-1.61ZM34.32 74.15h1.61v1.90h-1.61ZM36.49 74.15h1.61v1.90h-1.61ZM38.66 74.15h1.61v1.90h-1.61ZM40.84 74.15h1.61v1.90h-1.61ZM43.01 74.15h1.61v1.90h-1.61ZM45.18 74.15h1.61v1.90h-1.61ZM47.36 74.15h1.61v1.90h-1.61ZM49.53 74.15h1.61v1.90h-1.61ZM51.70 74.15h1.61v1.90h-1.61ZM53.87 74.15h1.61v1.90h-1.61ZM58.22 74.15h1.61v1.90h-1.61ZM60.39 74.15h1.61v1.90h-1.61ZM64.74 74.15h1.61v1.90h-1.61ZM66.91 74.15h1.61v1.90h-1.61ZM71.26 74.15h1.61v1.90h-1.61ZM75.61 74.15h1.61v1.90h-1.61ZM82.12 74.15h1.61v1.90h-1.61ZM84.30 74.15h1.61v1.90h-1.61ZM86.47 74.15h1.61v1.90h-1.61ZM88.64 74.15h1.61v1.90h-1.61ZM90.82 74.15h1.61v1.90h-1.61ZM92.99 81.30h1.61v1.90h-1.61ZM95.16 81.30h1.61v1.90h-1.61ZM97.34 81.30h1.61v1.90h-1.61ZM99.51 81.30h1.61v1.90h-1.61ZM101.68 81.30h1.61v1.90h-1.61ZM103.85 81.30h1.61v1.90h-1.61ZM110.37 81.30h1.61v1.90h-1.61ZM114.72 81.30h1.61v1.90h-1.61ZM116.89 81.30h1.61v1.90h-1.61ZM123.41 81.30h1.61v1.90h-1.61ZM125.58 81.30h1.61v1.90h-1.61ZM127.76 81.30h1.61v1.90h-1.61ZM129.93 81.30h1.61v1.90h-1.61ZM132.10 81.30h1.61v1.90h-1.61ZM134.28 81.30h1.61v1.90h-1.61ZM136.45 81.30h1.61v1.90h-1.61ZM140.79 81.30h1.61v1.90h-1.61ZM142.97 81.30h1.61v1.90h-1.61ZM145.14 81.30h1.61v1.90h-1.61ZM147.31 81.30h1.61v1.90h-1.61ZM153.83 81.30h1.61v1.90h-1.61ZM156.01 81.30h1.61v1.90h-1.61ZM23.45 88.45h1.61v1.90h-1.61ZM112.55 88.45h1.61v1.90h-1.61ZM119.06 88.45h1.61v1.90h-1.61ZM136.45 88.45h1.61v1.90h-1.61ZM151.66 88.45h1.61v1.90h-1.61Z" fill="#E8332F"/>
<path d="M25.63 74.15h1.61v1.90h-1.61Z" fill="#F4B8C8"/>
<path d="M27.80 74.15h1.61v1.90h-1.61ZM56.05 74.15h1.61v1.90h-1.61ZM62.57 74.15h1.61v1.90h-1.61ZM69.09 74.15h1.61v1.90h-1.61ZM79.95 74.15h1.61v1.90h-1.61ZM108.20 81.30h1.61v1.90h-1.61Z" fill="#F5D31A"/>
<path d="M73.43 74.15h1.61v1.90h-1.61ZM77.78 74.15h1.61v1.90h-1.61ZM121.24 81.30h1.61v1.90h-1.61ZM106.03 88.45h1.61v1.90h-1.61ZM140.79 95.60h1.61v1.90h-1.61Z" fill="#8A3FB5"/>
<path d="M23.17 40V304.30M25.35 40V304.30M27.52 40V304.30M29.69 40V304.30M31.87 40V304.30M34.04 40V304.30M36.21 40V304.30M38.38 40V304.30M40.56 40V304.30M42.73 40V304.30M44.90 40V304.30M47.08 40V304.30M49.25 40V304.30M51.42 40V304.30M53.59 40V304.30M55.77 40V304.30M57.94 40V304.30M60.11 40V304.30M62.29 40V304.30M64.46 40V304.30M66.63 40V304.30M68.81 40V304.30M70.98 40V304.30M73.15 40V304.30M75.33 40V304.30M77.50 40V304.30M79.67 40V304.30M81.84 40V304.30M84.02 40V304.30M86.19 40V304.30M88.36 40V304.30M90.54 40V304.30M92.71 40V304.30M94.88 40V304.30M97.06 40V304.30M99.23 40V304.30M101.40 40V304.30M103.57 40V304.30M105.75 40V304.30M107.92 40V304.30M110.09 40V304.30M112.27 40V304.30M114.44 40V304.30M116.61 40V304.30M118.78 40V304.30M120.96 40V304.30M123.13 40V304.30M125.30 40V304.30M127.48 40V304.30M129.65 40V304.30M131.82 40V304.30M134.00 40V304.30M136.17 40V304.30M138.34 40V304.30M140.51 40V304.30M142.69 40V304.30M144.86 40V304.30M147.03 40V304.30M149.21 40V304.30M151.38 40V304.30M153.55 40V304.30M155.73 40V304.30M157.90 40V304.30M160.07 40V304.30M162.25 40V304.30M164.42 40V304.30M166.59 40V304.30M168.76 40V304.30M170.94 40V304.30M173.11 40V304.30M175.28 40V304.30M177.46 40V304.30M179.63 40V304.30M181.80 40V304.30M183.97 40V304.30M186.15 40V304.30M188.32 40V304.30M190.49 40V304.30M192.67 40V304.30M194.84 40V304.30M197.01 40V304.30M199.19 40V304.30M201.36 40V304.30M203.53 40V304.30M205.71 40V304.30M207.88 40V304.30M210.05 40V304.30M212.22 40V304.30M214.40 40V304.30M216.57 40V304.30M218.74 40V304.30M220.92 40V304.30M223.09 40V304.30M225.26 40V304.30M227.44 40V304.30M229.61 40V304.30M231.78 40V304.30M233.95 40V304.30M236.13 40V304.30M238.30 40V304.30M240.47 40V304.30M242.65 40V304.30M244.82 40V304.30" stroke="#fff" stroke-width="0.3" stroke-opacity="0.22"/>
<rect x="21.00" y="71.5" width="225.99" height="233.40" fill="none" stroke="#000" stroke-width="1.1"/>
<rect x="287.70" y="71.5" width="23.80" height="233.40" fill="none" stroke="#000" stroke-width="1.1"/>
<rect x="20.00" y="107.00" width="227.59" height="2.10" fill="#000" />
<rect x="287.15" y="107.00" width="24.90" height="2.10" fill="#000" />
<rect x="20.00" y="130.10" width="227.59" height="2.10" fill="#000" />
<rect x="287.15" y="130.10" width="24.90" height="2.10" fill="#000" />
<rect x="20.00" y="245.90" width="227.59" height="2.10" fill="#000" />
<rect x="287.15" y="245.90" width="24.90" height="2.10" fill="#000" />
<rect x="288.30" y="73.10" width="14.10" height="4.40" fill="#93C954" />
<rect x="302.40" y="73.10" width="2.90" height="4.40" fill="#3B7FCC" />
<rect x="288.30" y="80.25" width="9.60" height="4.40" fill="#93C954" />
<rect x="297.90" y="80.25" width="0.70" height="4.40" fill="#A6DEF0" />
<rect x="288.30" y="87.40" width="2.30" height="4.40" fill="#93C954" />
<rect x="288.30" y="94.55" width="0.50" height="4.40" fill="#93C954" />
<rect x="288.30" y="101.70" width="4.50" height="4.40" fill="#93C954" />
<rect x="292.80" y="101.70" width="3.70" height="4.40" fill="#D09A33" />
<rect x="288.30" y="110.60" width="17.80" height="4.40" fill="#93C954" />
<rect x="306.10" y="110.60" width="3.70" height="4.40" fill="#D09A33" />
<rect x="288.30" y="117.75" width="10.40" height="4.40" fill="#93C954" />
<rect x="298.70" y="117.75" width="0.80" height="4.40" fill="#D09A33" />
<rect x="288.30" y="124.90" width="10.40" height="4.40" fill="#93C954" />
<rect x="298.70" y="124.90" width="1.00" height="4.40" fill="#D09A33" />
<rect x="288.30" y="133.60" width="4.50" height="4.40" fill="#93C954" />
<rect x="292.80" y="133.60" width="1.20" height="4.40" fill="#D09A33" />
<rect x="294.00" y="133.60" width="1.80" height="4.40" fill="#3B7FCC" />
<rect x="288.30" y="140.75" width="4.10" height="4.40" fill="#93C954" />
<rect x="288.30" y="147.90" width="3.20" height="4.40" fill="#D09A33" />
<rect x="291.50" y="147.90" width="0.90" height="4.40" fill="#3B7FCC" />
<rect x="288.30" y="155.05" width="3.20" height="4.40" fill="#93C954" />
<rect x="291.50" y="155.05" width="2.40" height="4.40" fill="#D09A33" />
<rect x="288.30" y="162.20" width="3.70" height="4.40" fill="#93C954" />
<rect x="292.00" y="162.20" width="0.40" height="4.40" fill="#D09A33" />
<rect x="288.30" y="169.35" width="2.20" height="4.40" fill="#93C954" />
<rect x="290.50" y="169.35" width="1.00" height="4.40" fill="#3B7FCC" />
<rect x="288.30" y="176.50" width="1.50" height="4.40" fill="#93C954" />
<rect x="289.80" y="176.50" width="1.50" height="4.40" fill="#D09A33" />
<rect x="288.30" y="183.65" width="2.40" height="4.40" fill="#93C954" />
<rect x="288.30" y="190.80" width="1.00" height="4.40" fill="#93C954" />
<rect x="289.30" y="190.80" width="1.20" height="4.40" fill="#D09A33" />
<rect x="288.30" y="197.95" width="1.50" height="4.40" fill="#93C954" />
<rect x="289.80" y="197.95" width="0.70" height="4.40" fill="#D09A33" />
<rect x="288.30" y="205.10" width="1.20" height="4.40" fill="#93C954" />
<rect x="289.50" y="205.10" width="0.90" height="4.40" fill="#D09A33" />
<rect x="288.30" y="212.25" width="1.20" height="4.40" fill="#93C954" />
<rect x="288.30" y="219.40" width="1.50" height="4.40" fill="#A6DEF0" />
<rect x="288.30" y="226.55" width="1.20" height="4.40" fill="#D09A33" />
<rect x="288.30" y="233.70" width="0.50" height="4.40" fill="#93C954" />
<rect x="288.30" y="240.85" width="0.50" height="4.40" fill="#93C954" />
<rect x="288.30" y="249.60" width="8.10" height="4.40" fill="#93C954" />
<rect x="296.40" y="249.60" width="0.90" height="4.40" fill="#D09A33" />
<rect x="288.30" y="256.70" width="8.10" height="4.40" fill="#93C954" />
<rect x="288.30" y="263.80" width="7.80" height="4.40" fill="#93C954" />
<rect x="288.30" y="270.90" width="7.40" height="4.40" fill="#93C954" />
<rect x="288.30" y="278.00" width="7.40" height="4.40" fill="#93C954" />
<rect x="288.30" y="285.10" width="6.70" height="4.40" fill="#93C954" />
<rect x="288.30" y="292.20" width="5.90" height="4.40" fill="#93C954" />
<rect x="288.30" y="299.30" width="4.10" height="4.40" fill="#93C954" />
<line x1="287.90" y1="304.90" x2="287.90" y2="306.10" stroke="#000" stroke-width="0.5" />
<text transform="translate(291.70,306.40) rotate(-90)" text-anchor="end" font-size="5.6" font-family="Liberation Sans" fill="#333">0</text>
<line x1="295.30" y1="304.90" x2="295.30" y2="306.10" stroke="#000" stroke-width="0.5" />
<text transform="translate(299.10,306.40) rotate(-90)" text-anchor="end" font-size="5.6" font-family="Liberation Sans" fill="#333">20</text>
<line x1="303.30" y1="304.90" x2="303.30" y2="306.10" stroke="#000" stroke-width="0.5" />
<text transform="translate(307.10,306.40) rotate(-90)" text-anchor="end" font-size="5.6" font-family="Liberation Sans" fill="#333">40</text>
<text x="249.00" y="77.90" font-size="8.2" font-style="italic" font-family="Liberation Sans" fill="#111" stroke="#111" stroke-width="0.22" transform="translate(249.00,0) scale(1.11,1) translate(-249.00,0)">BRAF</text>
<text x="249.00" y="85.05" font-size="8.2" font-style="italic" font-family="Liberation Sans" fill="#111" stroke="#111" stroke-width="0.22" transform="translate(249.00,0) scale(1.11,1) translate(-249.00,0)">NRAS</text>
<text x="249.00" y="92.20" font-size="8.2" font-style="italic" font-family="Liberation Sans" fill="#111" stroke="#111" stroke-width="0.22" transform="translate(249.00,0) scale(1.11,1) translate(-249.00,0)">KRAS</text>
<text x="249.00" y="99.35" font-size="8.2" font-style="italic" font-family="Liberation Sans" fill="#111" stroke="#111" stroke-width="0.22" transform="translate(249.00,0) scale(1.11,1) translate(-249.00,0)">HRAS</text>
<text x="249.00" y="106.50" font-size="8.2" font-style="italic" font-family="Liberation Sans" fill="#111" stroke="#111" stroke-width="0.22" transform="translate(249.00,0) scale(1.11,1) translate(-249.00,0)">NF1</text>
<text x="249.00" y="115.40" font-size="8.2" font-style="italic" font-family="Liberation Sans" fill="#111" stroke="#111" stroke-width="0.22" transform="translate(249.00,0) scale(1.11,1) translate(-249.00,0)">LRP1B</text>
<text x="249.00" y="122.55" font-size="8.2" font-style="italic" font-family="Liberation Sans" fill="#111" stroke="#111" stroke-width="0.22" transform="translate(249.00,0) scale(1.11,1) translate(-249.00,0)">ROS1</text>
<text x="249.00" y="129.70" font-size="8.2" font-style="italic" font-family="Liberation Sans" fill="#111" stroke="#111" stroke-width="0.22" transform="translate(249.00,0) scale(1.11,1) translate(-249.00,0)">GRIN2A</text>
<text x="249.00" y="138.40" font-size="8.2" font-style="italic" font-family="Liberation Sans" fill="#111" stroke="#111" stroke-width="0.22" transform="translate(249.00,0) scale(1.11,1) translate(-249.00,0)">TP53</text>
<text x="249.00" y="145.55" font-size="8.2" font-style="italic" font-family="Liberation Sans" fill="#111" stroke="#111" stroke-width="0.22" transform="translate(249.00,0) scale(1.11,1) translate(-249.00,0)">RAC1</text>
<text x="249.00" y="152.70" font-size="8.2" font-style="italic" font-family="Liberation Sans" fill="#111" stroke="#111" stroke-width="0.22" transform="translate(249.00,0) scale(1.11,1) translate(-249.00,0)">CDKN2A</text>
<text x="249.00" y="159.85" font-size="8.2" font-style="italic" font-family="Liberation Sans" fill="#111" stroke="#111" stroke-width="0.22" transform="translate(249.00,0) scale(1.11,1) translate(-249.00,0)">ARID2</text>
<text x="249.00" y="167.00" font-size="8.2" font-style="italic" font-family="Liberation Sans" fill="#111" stroke="#111" stroke-width="0.22" transform="translate(249.00,0) scale(1.11,1) translate(-249.00,0)">MET</text>
<text x="249.00" y="174.15" font-size="8.2" font-style="italic" font-family="Liberation Sans" fill="#111" stroke="#111" stroke-width="0.22" transform="translate(249.00,0) scale(1.11,1) translate(-249.00,0)">MAP2K1</text>
<text x="249.00" y="181.30" font-size="8.2" font-style="italic" font-family="Liberation Sans" fill="#111" stroke="#111" stroke-width="0.22" transform="translate(249.00,0) scale(1.11,1) translate(-249.00,0)">ALK</text>
<text x="249.00" y="188.45" font-size="8.2" font-style="italic" font-family="Liberation Sans" fill="#111" stroke="#111" stroke-width="0.22" transform="translate(249.00,0) scale(1.11,1) translate(-249.00,0)">SF3B1</text>
<text x="249.00" y="195.60" font-size="8.2" font-style="italic" font-family="Liberation Sans" fill="#111" stroke="#111" stroke-width="0.22" transform="translate(249.00,0) scale(1.11,1) translate(-249.00,0)">ATM</text>
<text x="249.00" y="202.75" font-size="8.2" font-style="italic" font-family="Liberation Sans" fill="#111" stroke="#111" stroke-width="0.22" transform="translate(249.00,0) scale(1.11,1) translate(-249.00,0)">ATRX</text>
<text x="249.00" y="209.90" font-size="8.2" font-style="italic" font-family="Liberation Sans" fill="#111" stroke="#111" stroke-width="0.22" transform="translate(249.00,0) scale(1.11,1) translate(-249.00,0)">PTEN</text>
<text x="249.00" y="217.05" font-size="8.2" font-style="italic" font-family="Liberation Sans" fill="#111" stroke="#111" stroke-width="0.22" transform="translate(249.00,0) scale(1.11,1) translate(-249.00,0)">IDH1</text>
<text x="249.00" y="224.20" font-size="8.2" font-style="italic" font-family="Liberation Sans" fill="#111" stroke="#111" stroke-width="0.22" transform="translate(249.00,0) scale(1.11,1) translate(-249.00,0)">CTNNB1</text>
<text x="249.00" y="231.35" font-size="8.2" font-style="italic" font-family="Liberation Sans" fill="#111" stroke="#111" stroke-width="0.22" transform="translate(249.00,0) scale(1.11,1) translate(-249.00,0)">RB1</text>
<text x="249.00" y="238.50" font-size="8.2" font-style="italic" font-family="Liberation Sans" fill="#111" stroke="#111" stroke-width="0.22" transform="translate(249.00,0) scale(1.11,1) translate(-249.00,0)">PIK3CA</text>
<text x="249.00" y="245.65" font-size="8.2" font-style="italic" font-family="Liberation Sans" fill="#111" stroke="#111" stroke-width="0.22" transform="translate(249.00,0) scale(1.11,1) translate(-249.00,0)">KIT</text>
<text x="249.00" y="254.40" font-size="8.2" font-style="italic" font-family="Liberation Sans" fill="#111" stroke="#111" stroke-width="0.22" transform="translate(249.00,0) scale(1.11,1) translate(-249.00,0)">PTPRD</text>
<text x="249.00" y="261.50" font-size="8.2" font-style="italic" font-family="Liberation Sans" fill="#111" stroke="#111" stroke-width="0.22" transform="translate(249.00,0) scale(1.11,1) translate(-249.00,0)">MYOCD</text>
<text x="249.00" y="268.60" font-size="8.2" font-style="italic" font-family="Liberation Sans" fill="#111" stroke="#111" stroke-width="0.22" transform="translate(249.00,0) scale(1.11,1) translate(-249.00,0)">DMD</text>
<text x="249.00" y="275.70" font-size="8.2" font-style="italic" font-family="Liberation Sans" fill="#111" stroke="#111" stroke-width="0.22" transform="translate(249.00,0) scale(1.11,1) translate(-249.00,0)">KMT2D</text>
<text x="249.00" y="282.80" font-size="8.2" font-style="italic" font-family="Liberation Sans" fill="#111" stroke="#111" stroke-width="0.22" transform="translate(249.00,0) scale(1.11,1) translate(-249.00,0)">ERBB4</text>
<text x="249.00" y="289.90" font-size="8.2" font-style="italic" font-family="Liberation Sans" fill="#111" stroke="#111" stroke-width="0.22" transform="translate(249.00,0) scale(1.11,1) translate(-249.00,0)">FLT4</text>
<text x="249.00" y="297.00" font-size="8.2" font-style="italic" font-family="Liberation Sans" fill="#111" stroke="#111" stroke-width="0.22" transform="translate(249.00,0) scale(1.11,1) translate(-249.00,0)">ALPK2</text>
<text x="249.00" y="304.10" font-size="8.2" font-style="italic" font-family="Liberation Sans" fill="#111" stroke="#111" stroke-width="0.22" transform="translate(249.00,0) scale(1.11,1) translate(-249.00,0)">HERC1</text>
<text x="19.40" y="77.10" font-size="4.9" fill="#222" text-anchor="end" font-family="Liberation Sans" transform="translate(19.40,0) scale(0.88,1) translate(-19.40,0)">44%</text>
<text x="19.40" y="84.25" font-size="4.9" fill="#222" text-anchor="end" font-family="Liberation Sans" transform="translate(19.40,0) scale(0.88,1) translate(-19.40,0)">26%</text>
<text x="19.40" y="91.40" font-size="4.9" fill="#222" text-anchor="end" font-family="Liberation Sans" transform="translate(19.40,0) scale(0.88,1) translate(-19.40,0)">7%</text>
<text x="19.40" y="98.55" font-size="4.9" fill="#222" text-anchor="end" font-family="Liberation Sans" transform="translate(19.40,0) scale(0.88,1) translate(-19.40,0)">2%</text>
<text x="19.40" y="105.70" font-size="4.9" fill="#222" text-anchor="end" font-family="Liberation Sans" transform="translate(19.40,0) scale(0.88,1) translate(-19.40,0)">16%</text>
<text x="19.40" y="114.60" font-size="4.9" fill="#222" text-anchor="end" font-family="Liberation Sans" transform="translate(19.40,0) scale(0.88,1) translate(-19.40,0)">50%</text>
<text x="19.40" y="121.75" font-size="4.9" fill="#222" text-anchor="end" font-family="Liberation Sans" transform="translate(19.40,0) scale(0.88,1) translate(-19.40,0)">31%</text>
<text x="19.40" y="128.90" font-size="4.9" fill="#222" text-anchor="end" font-family="Liberation Sans" transform="translate(19.40,0) scale(0.88,1) translate(-19.40,0)">30%</text>
<text x="19.40" y="137.60" font-size="4.9" fill="#222" text-anchor="end" font-family="Liberation Sans" transform="translate(19.40,0) scale(0.88,1) translate(-19.40,0)">20%</text>
<text x="19.40" y="144.75" font-size="4.9" fill="#222" text-anchor="end" font-family="Liberation Sans" transform="translate(19.40,0) scale(0.88,1) translate(-19.40,0)">12%</text>
<text x="19.40" y="151.90" font-size="4.9" fill="#222" text-anchor="end" font-family="Liberation Sans" transform="translate(19.40,0) scale(0.88,1) translate(-19.40,0)">12%</text>
<text x="19.40" y="159.05" font-size="4.9" fill="#222" text-anchor="end" font-family="Liberation Sans" transform="translate(19.40,0) scale(0.88,1) translate(-19.40,0)">11%</text>
<text x="19.40" y="166.20" font-size="4.9" fill="#222" text-anchor="end" font-family="Liberation Sans" transform="translate(19.40,0) scale(0.88,1) translate(-19.40,0)">11%</text>
<text x="19.40" y="173.35" font-size="4.9" fill="#222" text-anchor="end" font-family="Liberation Sans" transform="translate(19.40,0) scale(0.88,1) translate(-19.40,0)">10%</text>
<text x="19.40" y="180.50" font-size="4.9" fill="#222" text-anchor="end" font-family="Liberation Sans" transform="translate(19.40,0) scale(0.88,1) translate(-19.40,0)">9%</text>
<text x="19.40" y="187.65" font-size="4.9" fill="#222" text-anchor="end" font-family="Liberation Sans" transform="translate(19.40,0) scale(0.88,1) translate(-19.40,0)">8%</text>
<text x="19.40" y="194.80" font-size="4.9" fill="#222" text-anchor="end" font-family="Liberation Sans" transform="translate(19.40,0) scale(0.88,1) translate(-19.40,0)">7%</text>
<text x="19.40" y="201.95" font-size="4.9" fill="#222" text-anchor="end" font-family="Liberation Sans" transform="translate(19.40,0) scale(0.88,1) translate(-19.40,0)">7%</text>
<text x="19.40" y="209.10" font-size="4.9" fill="#222" text-anchor="end" font-family="Liberation Sans" transform="translate(19.40,0) scale(0.88,1) translate(-19.40,0)">6%</text>
<text x="19.40" y="216.25" font-size="4.9" fill="#222" text-anchor="end" font-family="Liberation Sans" transform="translate(19.40,0) scale(0.88,1) translate(-19.40,0)">5%</text>
<text x="19.40" y="223.40" font-size="4.9" fill="#222" text-anchor="end" font-family="Liberation Sans" transform="translate(19.40,0) scale(0.88,1) translate(-19.40,0)">5%</text>
<text x="19.40" y="230.55" font-size="4.9" fill="#222" text-anchor="end" font-family="Liberation Sans" transform="translate(19.40,0) scale(0.88,1) translate(-19.40,0)">4%</text>
<text x="19.40" y="237.70" font-size="4.9" fill="#222" text-anchor="end" font-family="Liberation Sans" transform="translate(19.40,0) scale(0.88,1) translate(-19.40,0)">3%</text>
<text x="19.40" y="244.85" font-size="4.9" fill="#222" text-anchor="end" font-family="Liberation Sans" transform="translate(19.40,0) scale(0.88,1) translate(-19.40,0)">3%</text>
<text x="19.40" y="253.60" font-size="4.9" fill="#222" text-anchor="end" font-family="Liberation Sans" transform="translate(19.40,0) scale(0.88,1) translate(-19.40,0)">26%</text>
<text x="19.40" y="260.70" font-size="4.9" fill="#222" text-anchor="end" font-family="Liberation Sans" transform="translate(19.40,0) scale(0.88,1) translate(-19.40,0)">23%</text>
<text x="19.40" y="267.80" font-size="4.9" fill="#222" text-anchor="end" font-family="Liberation Sans" transform="translate(19.40,0) scale(0.88,1) translate(-19.40,0)">22%</text>
<text x="19.40" y="274.90" font-size="4.9" fill="#222" text-anchor="end" font-family="Liberation Sans" transform="translate(19.40,0) scale(0.88,1) translate(-19.40,0)">21%</text>
<text x="19.40" y="282.00" font-size="4.9" fill="#222" text-anchor="end" font-family="Liberation Sans" transform="translate(19.40,0) scale(0.88,1) translate(-19.40,0)">21%</text>
<text x="19.40" y="289.10" font-size="4.9" fill="#222" text-anchor="end" font-family="Liberation Sans" transform="translate(19.40,0) scale(0.88,1) translate(-19.40,0)">18%</text>
<text x="19.40" y="296.20" font-size="4.9" fill="#222" text-anchor="end" font-family="Liberation Sans" transform="translate(19.40,0) scale(0.88,1) translate(-19.40,0)">17%</text>
<text x="19.40" y="303.30" font-size="4.9" fill="#222" text-anchor="end" font-family="Liberation Sans" transform="translate(19.40,0) scale(0.88,1) translate(-19.40,0)">12%</text>
<text transform="translate(7.00,87.60) rotate(-90)" text-anchor="middle" font-size="7.0" font-family="Liberation Sans" fill="#111" textLength="26.9" lengthAdjust="spacingAndGlyphs">Subtypes</text>
<text transform="translate(7.00,118.40) rotate(-90)" text-anchor="middle" font-size="7.0" font-family="Liberation Sans" fill="#111" textLength="26.6" lengthAdjust="spacingAndGlyphs">Common</text>
<text transform="translate(7.00,186.00) rotate(-90)" text-anchor="middle" font-size="7.0" font-family="Liberation Sans" fill="#111" textLength="50.0" lengthAdjust="spacingAndGlyphs">Melanoma genes</text>
<text transform="translate(7.00,275.70) rotate(-90)" text-anchor="middle" font-size="7.0" font-family="Liberation Sans" fill="#111" textLength="25.6" lengthAdjust="spacingAndGlyphs">Selected</text>
<line x1="18.40" y1="31.40" x2="20.00" y2="31.40" stroke="#000" stroke-width="0.5" />
<text x="17.80" y="32.80" font-size="4.0" font-family="Liberation Sans" fill="#222" text-anchor="end">100</text>
<line x1="18.40" y1="34.30" x2="20.00" y2="34.30" stroke="#000" stroke-width="0.5" />
<text x="17.80" y="35.70" font-size="4.0" font-family="Liberation Sans" fill="#222" text-anchor="end">50</text>
<line x1="18.40" y1="39.30" x2="20.00" y2="39.30" stroke="#000" stroke-width="0.5" />
<text x="17.80" y="40.70" font-size="4.0" font-family="Liberation Sans" fill="#222" text-anchor="end">0</text>
<text x="248.59" y="35.00" font-size="6.6" fill="#111" text-anchor="start" font-weight="normal" font-style="normal" font-family="Liberation Sans" >TMB</text>
<text x="248.59" y="44.80" font-size="6.6" fill="#111" text-anchor="start" font-weight="normal" font-style="normal" font-family="Liberation Sans" >TMB classes</text>
<text x="248.59" y="50.90" font-size="6.6" fill="#111" text-anchor="start" font-weight="normal" font-style="normal" font-family="Liberation Sans" >Cutaneous</text>
<text x="248.59" y="57.20" font-size="6.6" fill="#111" text-anchor="start" font-weight="normal" font-style="normal" font-family="Liberation Sans" >Treatment</text>
<text x="248.59" y="63.40" font-size="6.6" fill="#111" text-anchor="start" font-weight="normal" font-style="normal" font-family="Liberation Sans" >Response</text>
<text x="248.59" y="69.60" font-size="6.6" fill="#111" text-anchor="start" font-weight="normal" font-style="normal" font-family="Liberation Sans" >Melanoma subtype</text>
<text x="94.80" y="23.70" font-size="13" fill="#000" text-anchor="start" font-weight="normal" font-style="normal" font-family="Liberation Sans" >Responders oncoplot</text>
<rect x="336.00" y="27.5" width="190.00" height="12.4" fill="none" stroke="#000" stroke-width="1"/>
<path d="M335.95 39.30H338.05V39.9H335.95ZM337.95 29.30H340.05V39.9H337.95ZM339.95 30.70H342.05V39.9H339.95ZM341.95 31.23H344.05V39.9H341.95ZM343.95 31.76H346.05V39.9H343.95ZM345.95 32.29H348.05V39.9H345.95ZM347.95 32.81H350.05V39.9H347.95ZM349.95 33.34H352.05V39.9H349.95ZM351.95 33.87H354.05V39.9H351.95ZM353.95 34.40H356.05V39.9H353.95ZM355.95 33.30H358.05V39.9H355.95ZM357.95 33.50H360.05V39.9H357.95ZM359.95 33.70H362.05V39.9H359.95ZM361.95 33.90H364.05V39.9H361.95ZM363.95 34.10H366.05V39.9H363.95ZM365.95 34.30H368.05V39.9H365.95ZM367.95 34.50H370.05V39.9H367.95ZM369.95 34.70H372.05V39.9H369.95ZM371.95 34.90H374.05V39.9H371.95ZM373.95 35.10H376.05V39.9H373.95ZM375.95 34.30H378.05V39.9H375.95ZM377.95 34.50H380.05V39.9H377.95ZM379.95 34.70H382.05V39.9H379.95ZM381.95 34.90H384.05V39.9H381.95ZM383.95 35.10H386.05V39.9H383.95ZM385.95 35.30H388.05V39.9H385.95ZM387.95 35.50H390.05V39.9H387.95ZM389.95 35.70H392.05V39.9H389.95ZM391.95 35.90H394.05V39.9H391.95ZM393.95 36.10H396.05V39.9H393.95ZM395.95 36.30H398.05V39.9H395.95ZM397.95 36.50H400.05V39.9H397.95ZM399.95 36.70H402.05V39.9H399.95ZM401.95 36.90H404.05V39.9H401.95ZM403.95 37.10H406.05V39.9H403.95ZM405.95 37.30H408.05V39.9H405.95ZM407.95 37.50H410.05V39.9H407.95ZM409.95 37.70H412.05V39.9H409.95ZM411.95 30.70H414.05V39.9H411.95ZM413.95 31.80H416.05V39.9H413.95ZM415.95 32.90H418.05V39.9H415.95ZM417.95 34.00H420.05V39.9H417.95ZM419.95 34.40H422.05V39.9H419.95ZM421.95 34.90H424.05V39.9H421.95ZM423.95 35.40H426.05V39.9H423.95ZM425.95 35.90H428.05V39.9H425.95ZM427.95 36.20H430.05V39.9H427.95ZM429.95 32.20H432.05V39.9H429.95ZM431.95 32.51H434.05V39.9H431.95ZM433.95 32.82H436.05V39.9H433.95ZM435.95 33.12H438.05V39.9H435.95ZM437.95 33.43H440.05V39.9H437.95ZM439.95 33.74H442.05V39.9H439.95ZM441.95 34.05H444.05V39.9H441.95ZM443.95 34.35H446.05V39.9H443.95ZM445.95 34.66H448.05V39.9H445.95ZM447.95 34.97H450.05V39.9H447.95ZM449.95 35.28H452.05V39.9H449.95ZM451.95 35.58H454.05V39.9H451.95ZM453.95 35.89H456.05V39.9H453.95ZM455.95 36.20H458.05V39.9H455.95ZM457.95 38.40H460.05V39.9H457.95ZM459.95 27.60H462.05V39.9H459.95ZM461.95 28.90H464.05V39.9H461.95ZM463.95 29.35H466.05V39.9H463.95ZM465.95 29.81H468.05V39.9H465.95ZM467.95 30.26H470.05V39.9H467.95ZM469.95 30.71H472.05V39.9H469.95ZM471.95 31.16H474.05V39.9H471.95ZM473.95 31.62H476.05V39.9H473.95ZM475.95 32.07H478.05V39.9H475.95ZM477.95 32.52H480.05V39.9H477.95ZM479.95 32.98H482.05V39.9H479.95ZM481.95 33.43H484.05V39.9H481.95ZM483.95 33.88H486.05V39.9H483.95ZM485.95 34.34H488.05V39.9H485.95ZM487.95 34.79H490.05V39.9H487.95ZM489.95 35.24H492.05V39.9H489.95ZM491.95 35.69H494.05V39.9H491.95ZM493.95 36.15H496.05V39.9H493.95ZM495.95 36.60H498.05V39.9H495.95ZM497.95 32.10H500.05V39.9H497.95ZM499.95 33.00H502.05V39.9H499.95ZM501.95 33.90H504.05V39.9H501.95ZM503.95 34.70H506.05V39.9H503.95ZM505.95 35.04H508.05V39.9H505.95ZM507.95 35.38H510.05V39.9H507.95ZM509.95 35.72H512.05V39.9H509.95ZM511.95 36.06H514.05V39.9H511.95ZM513.95 36.40H516.05V39.9H513.95ZM515.95 36.74H518.05V39.9H515.95ZM517.95 37.08H520.05V39.9H517.95ZM519.95 37.42H522.05V39.9H519.95ZM521.95 37.76H524.05V39.9H521.95ZM523.95 38.10H526.05V39.9H523.95Z" fill="#111"/>
<path d="M338.00 28V40M340.00 28V40M342.00 28V40M344.00 28V40M346.00 28V40M348.00 28V40M350.00 28V40M352.00 28V40M354.00 28V40M356.00 28V40M358.00 28V40M360.00 28V40M362.00 28V40M364.00 28V40M366.00 28V40M368.00 28V40M370.00 28V40M372.00 28V40M374.00 28V40M376.00 28V40M378.00 28V40M380.00 28V40M382.00 28V40M384.00 28V40M386.00 28V40M388.00 28V40M390.00 28V40M392.00 28V40M394.00 28V40M396.00 28V40M398.00 28V40M400.00 28V40M402.00 28V40M404.00 28V40M406.00 28V40M408.00 28V40M410.00 28V40M412.00 28V40M414.00 28V40M416.00 28V40M418.00 28V40M420.00 28V40M422.00 28V40M424.00 28V40M426.00 28V40M428.00 28V40M430.00 28V40M432.00 28V40M434.00 28V40M436.00 28V40M438.00 28V40M440.00 28V40M442.00 28V40M444.00 28V40M446.00 28V40M448.00 28V40M450.00 28V40M452.00 28V40M454.00 28V40M456.00 28V40M458.00 28V40M460.00 28V40M462.00 28V40M464.00 28V40M466.00 28V40M468.00 28V40M470.00 28V40M472.00 28V40M474.00 28V40M476.00 28V40M478.00 28V40M480.00 28V40M482.00 28V40M484.00 28V40M486.00 28V40M488.00 28V40M490.00 28V40M492.00 28V40M494.00 28V40M496.00 28V40M498.00 28V40M500.00 28V40M502.00 28V40M504.00 28V40M506.00 28V40M508.00 28V40M510.00 28V40M512.00 28V40M514.00 28V40M516.00 28V40M518.00 28V40M520.00 28V40M522.00 28V40M524.00 28V40" stroke="#fff" stroke-width="0.3" stroke-opacity="0.25"/>
<rect x="336.00" y="40.00" width="2.00" height="5.40" fill="#D3D3D3" />
<rect x="338.00" y="40.00" width="14.00" height="5.40" fill="#1A1A1A" />
<rect x="352.00" y="40.00" width="4.00" height="5.40" fill="#D3D3D3" />
<rect x="356.00" y="40.00" width="20.00" height="5.40" fill="#1A1A1A" />
<rect x="376.00" y="40.00" width="36.00" height="5.40" fill="#D3D3D3" />
<rect x="412.00" y="40.00" width="8.00" height="5.40" fill="#1A1A1A" />
<rect x="420.00" y="40.00" width="10.00" height="5.40" fill="#D3D3D3" />
<rect x="430.00" y="40.00" width="12.00" height="5.40" fill="#1A1A1A" />
<rect x="442.00" y="40.00" width="18.00" height="5.40" fill="#D3D3D3" />
<rect x="460.00" y="40.00" width="32.00" height="5.40" fill="#1A1A1A" />
<rect x="492.00" y="40.00" width="6.00" height="5.40" fill="#D3D3D3" />
<rect x="498.00" y="40.00" width="6.00" height="5.40" fill="#1A1A1A" />
<rect x="504.00" y="40.00" width="22.00" height="5.40" fill="#D3D3D3" />
<rect x="336.00" y="45.80" width="4.00" height="5.70" fill="#93C954" />
<rect x="340.00" y="45.80" width="14.00" height="5.70" fill="#D09A33" />
<rect x="354.00" y="45.80" width="2.00" height="5.70" fill="#93C954" />
<rect x="356.00" y="45.80" width="24.00" height="5.70" fill="#D09A33" />
<rect x="380.00" y="45.80" width="2.00" height="5.70" fill="#93C954" />
<rect x="382.00" y="45.80" width="4.00" height="5.70" fill="#D09A33" />
<rect x="386.00" y="45.80" width="2.00" height="5.70" fill="#93C954" />
<rect x="388.00" y="45.80" width="16.00" height="5.70" fill="#D09A33" />
<rect x="404.00" y="45.80" width="2.00" height="5.70" fill="#93C954" />
<rect x="406.00" y="45.80" width="8.00" height="5.70" fill="#D09A33" />
<rect x="414.00" y="45.80" width="2.00" height="5.70" fill="#93C954" />
<rect x="416.00" y="45.80" width="4.00" height="5.70" fill="#D09A33" />
<rect x="420.00" y="45.80" width="2.00" height="5.70" fill="#93C954" />
<rect x="422.00" y="45.80" width="36.00" height="5.70" fill="#D09A33" />
<rect x="458.00" y="45.80" width="2.00" height="5.70" fill="#93C954" />
<rect x="460.00" y="45.80" width="26.00" height="5.70" fill="#D09A33" />
<rect x="486.00" y="45.80" width="2.00" height="5.70" fill="#93C954" />
<rect x="488.00" y="45.80" width="16.00" height="5.70" fill="#D09A33" />
<rect x="504.00" y="45.80" width="2.00" height="5.70" fill="#93C954" />
<rect x="506.00" y="45.80" width="2.00" height="5.70" fill="#D09A33" />
<rect x="508.00" y="45.80" width="2.00" height="5.70" fill="#93C954" />
<rect x="510.00" y="45.80" width="2.00" height="5.70" fill="#D09A33" />
<rect x="512.00" y="45.80" width="6.00" height="5.70" fill="#93C954" />
<rect x="518.00" y="45.80" width="2.00" height="5.70" fill="#D09A33" />
<rect x="520.00" y="45.80" width="6.00" height="5.70" fill="#93C954" />
<rect x="336.00" y="52.10" width="6.00" height="5.80" fill="#A6DEF0" />
<rect x="342.00" y="52.10" width="2.00" height="5.80" fill="#2E6FC0" />
<rect x="344.00" y="52.10" width="2.00" height="5.80" fill="#A6DEF0" />
<rect x="346.00" y="52.10" width="4.00" height="5.80" fill="#2E6FC0" />
<rect x="350.00" y="52.10" width="2.00" height="5.80" fill="#A6DEF0" />
<rect x="352.00" y="52.10" width="4.00" height="5.80" fill="#2E6FC0" />
<rect x="356.00" y="52.10" width="2.00" height="5.80" fill="#A6DEF0" />
<rect x="358.00" y="52.10" width="2.00" height="5.80" fill="#2E6FC0" />
<rect x="360.00" y="52.10" width="2.00" height="5.80" fill="#A6DEF0" />
<rect x="362.00" y="52.10" width="6.00" height="5.80" fill="#2E6FC0" />
<rect x="368.00" y="52.10" width="2.00" height="5.80" fill="#A6DEF0" />
<rect x="370.00" y="52.10" width="2.00" height="5.80" fill="#2E6FC0" />
<rect x="372.00" y="52.10" width="6.00" height="5.80" fill="#A6DEF0" />
<rect x="378.00" y="52.10" width="20.00" height="5.80" fill="#2E6FC0" />
<rect x="398.00" y="52.10" width="2.00" height="5.80" fill="#A6DEF0" />
<rect x="400.00" y="52.10" width="18.00" height="5.80" fill="#2E6FC0" />
<rect x="418.00" y="52.10" width="4.00" height="5.80" fill="#A6DEF0" />
<rect x="422.00" y="52.10" width="2.00" height="5.80" fill="#2E6FC0" />
<rect x="424.00" y="52.10" width="2.00" height="5.80" fill="#A6DEF0" />
<rect x="426.00" y="52.10" width="6.00" height="5.80" fill="#2E6FC0" />
<rect x="432.00" y="52.10" width="2.00" height="5.80" fill="#A6DEF0" />
<rect x="434.00" y="52.10" width="4.00" height="5.80" fill="#2E6FC0" />
<rect x="438.00" y="52.10" width="2.00" height="5.80" fill="#A6DEF0" />
<rect x="440.00" y="52.10" width="2.00" height="5.80" fill="#2E6FC0" />
<rect x="442.00" y="52.10" width="2.00" height="5.80" fill="#A6DEF0" />
<rect x="444.00" y="52.10" width="4.00" height="5.80" fill="#2E6FC0" />
<rect x="448.00" y="52.10" width="4.00" height="5.80" fill="#A6DEF0" />
<rect x="452.00" y="52.10" width="8.00" height="5.80" fill="#2E6FC0" />
<rect x="460.00" y="52.10" width="6.00" height="5.80" fill="#A6DEF0" />
<rect x="466.00" y="52.10" width="4.00" height="5.80" fill="#2E6FC0" />
<rect x="470.00" y="52.10" width="2.00" height="5.80" fill="#A6DEF0" />
<rect x="472.00" y="52.10" width="4.00" height="5.80" fill="#2E6FC0" />
<rect x="476.00" y="52.10" width="4.00" height="5.80" fill="#A6DEF0" />
<rect x="480.00" y="52.10" width="2.00" height="5.80" fill="#2E6FC0" />
<rect x="482.00" y="52.10" width="4.00" height="5.80" fill="#A6DEF0" />
<rect x="486.00" y="52.10" width="2.00" height="5.80" fill="#2E6FC0" />
<rect x="488.00" y="52.10" width="2.00" height="5.80" fill="#A6DEF0" />
<rect x="490.00" y="52.10" width="2.00" height="5.80" fill="#2E6FC0" />
<rect x="492.00" y="52.10" width="4.00" height="5.80" fill="#A6DEF0" />
<rect x="496.00" y="52.10" width="4.00" height="5.80" fill="#2E6FC0" />
<rect x="500.00" y="52.10" width="2.00" height="5.80" fill="#A6DEF0" />
<rect x="502.00" y="52.10" width="4.00" height="5.80" fill="#2E6FC0" />
<rect x="506.00" y="52.10" width="2.00" height="5.80" fill="#A6DEF0" />
<rect x="508.00" y="52.10" width="6.00" height="5.80" fill="#2E6FC0" />
<rect x="514.00" y="52.10" width="2.00" height="5.80" fill="#A6DEF0" />
<rect x="516.00" y="52.10" width="2.00" height="5.80" fill="#2E6FC0" />
<rect x="518.00" y="52.10" width="2.00" height="5.80" fill="#A6DEF0" />
<rect x="520.00" y="52.10" width="2.00" height="5.80" fill="#2E6FC0" />
<rect x="522.00" y="52.10" width="2.00" height="5.80" fill="#A6DEF0" />
<rect x="524.00" y="52.10" width="2.00" height="5.80" fill="#2E6FC0" />
<rect x="336.00" y="58.50" width="190.00" height="5.80" fill="#FDBA21" />
<rect x="336.00" y="64.90" width="76.00" height="5.60" fill="#EC3237" />
<rect x="412.00" y="64.90" width="48.00" height="5.60" fill="#FDD400" />
<rect x="460.00" y="64.90" width="38.00" height="5.60" fill="#78C6D0" />
<rect x="498.00" y="64.90" width="28.00" height="5.60" fill="#808080" />
<rect x="336.00" y="72.10" width="190.00" height="6.00" fill="#F0F0F2" />
<rect x="336.00" y="79.25" width="190.00" height="6.00" fill="#F0F0F2" />
<rect x="336.00" y="86.40" width="190.00" height="6.00" fill="#F0F0F2" />
<rect x="336.00" y="93.55" width="190.00" height="6.00" fill="#F0F0F2" />
<rect x="336.00" y="100.70" width="190.00" height="6.00" fill="#F0F0F2" />
<rect x="336.00" y="109.60" width="190.00" height="6.00" fill="#F0F0F2" />
<rect x="336.00" y="116.75" width="190.00" height="6.00" fill="#F0F0F2" />
<rect x="336.00" y="123.90" width="190.00" height="6.00" fill="#F0F0F2" />
<rect x="336.00" y="132.60" width="190.00" height="6.00" fill="#F0F0F2" />
<rect x="336.00" y="139.75" width="190.00" height="6.00" fill="#F0F0F2" />
<rect x="336.00" y="146.90" width="190.00" height="6.00" fill="#F0F0F2" />
<rect x="336.00" y="154.05" width="190.00" height="6.00" fill="#F0F0F2" />
<rect x="336.00" y="161.20" width="190.00" height="6.00" fill="#F0F0F2" />
<rect x="336.00" y="168.35" width="190.00" height="6.00" fill="#F0F0F2" />
<rect x="336.00" y="175.50" width="190.00" height="6.00" fill="#F0F0F2" />
<rect x="336.00" y="182.65" width="190.00" height="6.00" fill="#F0F0F2" />
<rect x="336.00" y="189.80" width="190.00" height="6.00" fill="#F0F0F2" />
<rect x="336.00" y="196.95" width="190.00" height="6.00" fill="#F0F0F2" />
<rect x="336.00" y="204.10" width="190.00" height="6.00" fill="#F0F0F2" />
<rect x="336.00" y="211.25" width="190.00" height="6.00" fill="#F0F0F2" />
<rect x="336.00" y="218.40" width="190.00" height="6.00" fill="#F0F0F2" />
<rect x="336.00" y="225.55" width="190.00" height="6.00" fill="#F0F0F2" />
<rect x="336.00" y="232.70" width="190.00" height="6.00" fill="#F0F0F2" />
<rect x="336.00" y="239.85" width="190.00" height="6.00" fill="#F0F0F2" />
<rect x="336.00" y="248.60" width="190.00" height="6.00" fill="#F0F0F2" />
<rect x="336.00" y="255.70" width="190.00" height="6.00" fill="#F0F0F2" />
<rect x="336.00" y="262.80" width="190.00" height="6.00" fill="#F0F0F2" />
<rect x="336.00" y="269.90" width="190.00" height="6.00" fill="#F0F0F2" />
<rect x="336.00" y="277.00" width="190.00" height="6.00" fill="#F0F0F2" />
<rect x="336.00" y="284.10" width="190.00" height="6.00" fill="#F0F0F2" />
<rect x="336.00" y="291.20" width="190.00" height="6.00" fill="#F0F0F2" />
<rect x="336.00" y="298.30" width="190.00" height="6.00" fill="#F0F0F2" />
<path d="M338.00 40V304.30M340.00 40V304.30M342.00 40V304.30M344.00 40V304.30M346.00 40V304.30M348.00 40V304.30M350.00 40V304.30M352.00 40V304.30M354.00 40V304.30M356.00 40V304.30M358.00 40V304.30M360.00 40V304.30M362.00 40V304.30M364.00 40V304.30M366.00 40V304.30M368.00 40V304.30M370.00 40V304.30M372.00 40V304.30M374.00 40V304.30M376.00 40V304.30M378.00 40V304.30M380.00 40V304.30M382.00 40V304.30M384.00 40V304.30M386.00 40V304.30M388.00 40V304.30M390.00 40V304.30M392.00 40V304.30M394.00 40V304.30M396.00 40V304.30M398.00 40V304.30M400.00 40V304.30M402.00 40V304.30M404.00 40V304.30M406.00 40V304.30M408.00 40V304.30M410.00 40V304.30M412.00 40V304.30M414.00 40V304.30M416.00 40V304.30M418.00 40V304.30M420.00 40V304.30M422.00 40V304.30M424.00 40V304.30M426.00 40V304.30M428.00 40V304.30M430.00 40V304.30M432.00 40V304.30M434.00 40V304.30M436.00 40V304.30M438.00 40V304.30M440.00 40V304.30M442.00 40V304.30M444.00 40V304.30M446.00 40V304.30M448.00 40V304.30M450.00 40V304.30M452.00 40V304.30M454.00 40V304.30M456.00 40V304.30M458.00 40V304.30M460.00 40V304.30M462.00 40V304.30M464.00 40V304.30M466.00 40V304.30M468.00 40V304.30M470.00 40V304.30M472.00 40V304.30M474.00 40V304.30M476.00 40V304.30M478.00 40V304.30M480.00 40V304.30M482.00 40V304.30M484.00 40V304.30M486.00 40V304.30M488.00 40V304.30M490.00 40V304.30M492.00 40V304.30M494.00 40V304.30M496.00 40V304.30M498.00 40V304.30M500.00 40V304.30M502.00 40V304.30M504.00 40V304.30M506.00 40V304.30M508.00 40V304.30M510.00 40V304.30M512.00 40V304.30M514.00 40V304.30M516.00 40V304.30M518.00 40V304.30M520.00 40V304.30M522.00 40V304.30M524.00 40V304.30" stroke="#fff" stroke-width="0.3" stroke-opacity="0.55"/>
<path d="M335.98 72.10h2.04v6.00h-2.04ZM337.98 72.10h2.04v6.00h-2.04ZM341.98 72.10h2.04v6.00h-2.04ZM343.98 72.10h2.04v6.00h-2.04ZM345.98 72.10h2.04v6.00h-2.04ZM347.98 72.10h2.04v6.00h-2.04ZM349.98 72.10h2.04v6.00h-2.04ZM351.98 72.10h2.04v6.00h-2.04ZM353.98 72.10h2.04v6.00h-2.04ZM355.98 72.10h2.04v6.00h-2.04ZM359.98 72.10h2.04v6.00h-2.04ZM363.98 72.10h2.04v6.00h-2.04ZM369.98 72.10h2.04v6.00h-2.04ZM371.98 72.10h2.04v6.00h-2.04ZM375.98 72.10h2.04v6.00h-2.04ZM377.98 72.10h2.04v6.00h-2.04ZM383.98 72.10h2.04v6.00h-2.04ZM385.98 72.10h2.04v6.00h-2.04ZM387.98 72.10h2.04v6.00h-2.04ZM389.98 72.10h2.04v6.00h-2.04ZM391.98 72.10h2.04v6.00h-2.04ZM393.98 72.10h2.04v6.00h-2.04ZM395.98 72.10h2.04v6.00h-2.04ZM397.98 72.10h2.04v6.00h-2.04ZM399.98 72.10h2.04v6.00h-2.04ZM401.98 72.10h2.04v6.00h-2.04ZM403.98 72.10h2.04v6.00h-2.04ZM405.98 72.10h2.04v6.00h-2.04ZM407.98 72.10h2.04v6.00h-2.04ZM409.98 72.10h2.04v6.00h-2.04ZM411.98 72.10h2.04v6.00h-2.04ZM421.98 72.10h2.04v6.00h-2.04ZM435.98 72.10h2.04v6.00h-2.04ZM451.98 72.10h2.04v6.00h-2.04ZM459.98 72.10h2.04v6.00h-2.04ZM469.98 72.10h2.04v6.00h-2.04ZM491.98 72.10h2.04v6.00h-2.04ZM495.98 72.10h2.04v6.00h-2.04ZM335.98 79.25h2.04v6.00h-2.04ZM411.98 79.25h2.04v6.00h-2.04ZM413.98 79.25h2.04v6.00h-2.04ZM415.98 79.25h2.04v6.00h-2.04ZM417.98 79.25h2.04v6.00h-2.04ZM419.98 79.25h2.04v6.00h-2.04ZM421.98 79.25h2.04v6.00h-2.04ZM423.98 79.25h2.04v6.00h-2.04ZM425.98 79.25h2.04v6.00h-2.04ZM427.98 79.25h2.04v6.00h-2.04ZM429.98 79.25h2.04v6.00h-2.04ZM433.98 79.25h2.04v6.00h-2.04ZM435.98 79.25h2.04v6.00h-2.04ZM437.98 79.25h2.04v6.00h-2.04ZM439.98 79.25h2.04v6.00h-2.04ZM441.98 79.25h2.04v6.00h-2.04ZM443.98 79.25h2.04v6.00h-2.04ZM445.98 79.25h2.04v6.00h-2.04ZM447.98 79.25h2.04v6.00h-2.04ZM449.98 79.25h2.04v6.00h-2.04ZM451.98 79.25h2.04v6.00h-2.04ZM455.98 79.25h2.04v6.00h-2.04ZM457.98 79.25h2.04v6.00h-2.04ZM459.98 79.25h2.04v6.00h-2.04ZM453.98 86.40h2.04v6.00h-2.04ZM487.98 86.40h2.04v6.00h-2.04ZM493.98 86.40h2.04v6.00h-2.04ZM469.98 93.55h2.04v6.00h-2.04ZM345.98 100.70h2.04v6.00h-2.04ZM411.98 100.70h2.04v6.00h-2.04ZM415.98 100.70h2.04v6.00h-2.04ZM421.98 100.70h2.04v6.00h-2.04ZM463.98 100.70h2.04v6.00h-2.04ZM481.98 100.70h2.04v6.00h-2.04ZM487.98 100.70h2.04v6.00h-2.04ZM341.98 109.60h2.04v6.00h-2.04ZM345.98 109.60h2.04v6.00h-2.04ZM367.98 109.60h2.04v6.00h-2.04ZM369.98 109.60h2.04v6.00h-2.04ZM371.98 109.60h2.04v6.00h-2.04ZM373.98 109.60h2.04v6.00h-2.04ZM377.98 109.60h2.04v6.00h-2.04ZM411.98 109.60h2.04v6.00h-2.04ZM415.98 109.60h2.04v6.00h-2.04ZM423.98 109.60h2.04v6.00h-2.04ZM431.98 109.60h2.04v6.00h-2.04ZM435.98 109.60h2.04v6.00h-2.04ZM437.98 109.60h2.04v6.00h-2.04ZM461.98 109.60h2.04v6.00h-2.04ZM463.98 109.60h2.04v6.00h-2.04ZM469.98 109.60h2.04v6.00h-2.04ZM471.98 109.60h2.04v6.00h-2.04ZM473.98 109.60h2.04v6.00h-2.04ZM477.98 109.60h2.04v6.00h-2.04ZM481.98 109.60h2.04v6.00h-2.04ZM483.98 109.60h2.04v6.00h-2.04ZM485.98 109.60h2.04v6.00h-2.04ZM493.98 109.60h2.04v6.00h-2.04ZM499.98 109.60h2.04v6.00h-2.04ZM501.98 109.60h2.04v6.00h-2.04ZM337.98 116.75h2.04v6.00h-2.04ZM357.98 116.75h2.04v6.00h-2.04ZM369.98 116.75h2.04v6.00h-2.04ZM403.98 116.75h2.04v6.00h-2.04ZM411.98 116.75h2.04v6.00h-2.04ZM415.98 116.75h2.04v6.00h-2.04ZM417.98 116.75h2.04v6.00h-2.04ZM433.98 116.75h2.04v6.00h-2.04ZM435.98 116.75h2.04v6.00h-2.04ZM437.98 116.75h2.04v6.00h-2.04ZM461.98 116.75h2.04v6.00h-2.04ZM469.98 116.75h2.04v6.00h-2.04ZM471.98 116.75h2.04v6.00h-2.04ZM473.98 116.75h2.04v6.00h-2.04ZM483.98 116.75h2.04v6.00h-2.04ZM501.98 116.75h2.04v6.00h-2.04ZM357.98 123.90h2.04v6.00h-2.04ZM367.98 123.90h2.04v6.00h-2.04ZM369.98 123.90h2.04v6.00h-2.04ZM429.98 123.90h2.04v6.00h-2.04ZM431.98 123.90h2.04v6.00h-2.04ZM463.98 123.90h2.04v6.00h-2.04ZM469.98 123.90h2.04v6.00h-2.04ZM471.98 123.90h2.04v6.00h-2.04ZM473.98 123.90h2.04v6.00h-2.04ZM483.98 123.90h2.04v6.00h-2.04ZM497.98 123.90h2.04v6.00h-2.04ZM337.98 132.60h2.04v6.00h-2.04ZM361.98 132.60h2.04v6.00h-2.04ZM455.98 132.60h2.04v6.00h-2.04ZM459.98 132.60h2.04v6.00h-2.04ZM463.98 132.60h2.04v6.00h-2.04ZM475.98 132.60h2.04v6.00h-2.04ZM335.98 139.75h2.04v6.00h-2.04ZM369.98 139.75h2.04v6.00h-2.04ZM415.98 139.75h2.04v6.00h-2.04ZM427.98 139.75h2.04v6.00h-2.04ZM445.98 139.75h2.04v6.00h-2.04ZM461.98 139.75h2.04v6.00h-2.04ZM469.98 139.75h2.04v6.00h-2.04ZM459.98 146.90h2.04v6.00h-2.04ZM411.98 154.05h2.04v6.00h-2.04ZM461.98 154.05h2.04v6.00h-2.04ZM491.98 154.05h2.04v6.00h-2.04ZM337.98 161.20h2.04v6.00h-2.04ZM351.98 161.20h2.04v6.00h-2.04ZM359.98 161.20h2.04v6.00h-2.04ZM411.98 161.20h2.04v6.00h-2.04ZM415.98 161.20h2.04v6.00h-2.04ZM463.98 161.20h2.04v6.00h-2.04ZM473.98 161.20h2.04v6.00h-2.04ZM351.98 168.35h2.04v6.00h-2.04ZM459.98 168.35h2.04v6.00h-2.04ZM463.98 168.35h2.04v6.00h-2.04ZM463.98 175.50h2.04v6.00h-2.04ZM481.98 175.50h2.04v6.00h-2.04ZM339.98 182.65h2.04v6.00h-2.04ZM461.98 182.65h2.04v6.00h-2.04ZM507.98 182.65h2.04v6.00h-2.04ZM513.98 182.65h2.04v6.00h-2.04ZM361.98 189.80h2.04v6.00h-2.04ZM379.98 189.80h2.04v6.00h-2.04ZM387.98 189.80h2.04v6.00h-2.04ZM429.98 189.80h2.04v6.00h-2.04ZM487.98 189.80h2.04v6.00h-2.04ZM355.98 196.95h2.04v6.00h-2.04ZM437.98 196.95h2.04v6.00h-2.04ZM469.98 204.10h2.04v6.00h-2.04ZM459.98 211.25h2.04v6.00h-2.04ZM469.98 211.25h2.04v6.00h-2.04ZM493.98 211.25h2.04v6.00h-2.04ZM365.98 218.40h2.04v6.00h-2.04ZM415.98 218.40h2.04v6.00h-2.04ZM513.98 218.40h2.04v6.00h-2.04ZM497.98 225.55h2.04v6.00h-2.04ZM499.98 225.55h2.04v6.00h-2.04ZM361.98 232.70h2.04v6.00h-2.04ZM459.98 232.70h2.04v6.00h-2.04ZM355.98 239.85h2.04v6.00h-2.04ZM461.98 239.85h2.04v6.00h-2.04ZM499.98 239.85h2.04v6.00h-2.04ZM509.98 239.85h2.04v6.00h-2.04ZM513.98 239.85h2.04v6.00h-2.04ZM521.98 239.85h2.04v6.00h-2.04ZM349.98 248.60h2.04v6.00h-2.04ZM357.98 248.60h2.04v6.00h-2.04ZM373.98 248.60h2.04v6.00h-2.04ZM411.98 248.60h2.04v6.00h-2.04ZM413.98 248.60h2.04v6.00h-2.04ZM427.98 248.60h2.04v6.00h-2.04ZM429.98 248.60h2.04v6.00h-2.04ZM459.98 248.60h2.04v6.00h-2.04ZM475.98 248.60h2.04v6.00h-2.04ZM369.98 255.70h2.04v6.00h-2.04ZM373.98 255.70h2.04v6.00h-2.04ZM383.98 255.70h2.04v6.00h-2.04ZM413.98 255.70h2.04v6.00h-2.04ZM429.98 255.70h2.04v6.00h-2.04ZM431.98 255.70h2.04v6.00h-2.04ZM437.98 255.70h2.04v6.00h-2.04ZM459.98 255.70h2.04v6.00h-2.04ZM463.98 255.70h2.04v6.00h-2.04ZM469.98 255.70h2.04v6.00h-2.04ZM475.98 255.70h2.04v6.00h-2.04ZM499.98 255.70h2.04v6.00h-2.04ZM337.98 262.80h2.04v6.00h-2.04ZM355.98 262.80h2.04v6.00h-2.04ZM357.98 262.80h2.04v6.00h-2.04ZM381.98 262.80h2.04v6.00h-2.04ZM417.98 262.80h2.04v6.00h-2.04ZM433.98 262.80h2.04v6.00h-2.04ZM435.98 262.80h2.04v6.00h-2.04ZM437.98 262.80h2.04v6.00h-2.04ZM461.98 262.80h2.04v6.00h-2.04ZM471.98 262.80h2.04v6.00h-2.04ZM475.98 262.80h2.04v6.00h-2.04ZM337.98 269.90h2.04v6.00h-2.04ZM361.98 269.90h2.04v6.00h-2.04ZM363.98 269.90h2.04v6.00h-2.04ZM375.98 269.90h2.04v6.00h-2.04ZM415.98 269.90h2.04v6.00h-2.04ZM437.98 269.90h2.04v6.00h-2.04ZM459.98 269.90h2.04v6.00h-2.04ZM475.98 269.90h2.04v6.00h-2.04ZM499.98 269.90h2.04v6.00h-2.04ZM357.98 277.00h2.04v6.00h-2.04ZM411.98 277.00h2.04v6.00h-2.04ZM429.98 277.00h2.04v6.00h-2.04ZM445.98 277.00h2.04v6.00h-2.04ZM451.98 277.00h2.04v6.00h-2.04ZM459.98 277.00h2.04v6.00h-2.04ZM463.98 277.00h2.04v6.00h-2.04ZM469.98 277.00h2.04v6.00h-2.04ZM471.98 277.00h2.04v6.00h-2.04ZM473.98 277.00h2.04v6.00h-2.04ZM485.98 277.00h2.04v6.00h-2.04ZM499.98 277.00h2.04v6.00h-2.04ZM367.98 284.10h2.04v6.00h-2.04ZM451.98 284.10h2.04v6.00h-2.04ZM459.98 284.10h2.04v6.00h-2.04ZM463.98 284.10h2.04v6.00h-2.04ZM471.98 284.10h2.04v6.00h-2.04ZM337.98 291.20h2.04v6.00h-2.04ZM371.98 291.20h2.04v6.00h-2.04ZM373.98 291.20h2.04v6.00h-2.04ZM377.98 291.20h2.04v6.00h-2.04ZM403.98 291.20h2.04v6.00h-2.04ZM421.98 291.20h2.04v6.00h-2.04ZM423.98 291.20h2.04v6.00h-2.04ZM431.98 291.20h2.04v6.00h-2.04ZM445.98 291.20h2.04v6.00h-2.04ZM461.98 291.20h2.04v6.00h-2.04ZM469.98 291.20h2.04v6.00h-2.04ZM473.98 291.20h2.04v6.00h-2.04ZM337.98 298.30h2.04v6.00h-2.04ZM341.98 298.30h2.04v6.00h-2.04ZM383.98 298.30h2.04v6.00h-2.04ZM387.98 298.30h2.04v6.00h-2.04ZM435.98 298.30h2.04v6.00h-2.04ZM453.98 298.30h2.04v6.00h-2.04ZM459.98 298.30h2.04v6.00h-2.04ZM463.98 298.30h2.04v6.00h-2.04ZM471.98 298.30h2.04v6.00h-2.04ZM473.98 298.30h2.04v6.00h-2.04ZM511.98 298.30h2.04v6.00h-2.04Z" fill="#93C954"/>
<path d="M339.98 73.55h2.04v3.10h-2.04ZM357.98 73.55h2.04v3.10h-2.04ZM361.98 73.55h2.04v3.10h-2.04ZM365.98 73.55h2.04v3.10h-2.04ZM367.98 73.55h2.04v3.10h-2.04ZM373.98 73.55h2.04v3.10h-2.04ZM379.98 73.55h2.04v3.10h-2.04ZM381.98 73.55h2.04v3.10h-2.04ZM493.98 73.55h2.04v3.10h-2.04ZM431.98 80.70h2.04v3.10h-2.04ZM497.98 169.80h2.04v3.10h-2.04ZM463.98 241.30h2.04v3.10h-2.04Z" fill="#3B7FCC"/>
<path d="M341.98 100.70h2.04v6.00h-2.04ZM349.98 100.70h2.04v6.00h-2.04ZM471.98 100.70h2.04v6.00h-2.04ZM473.98 100.70h2.04v6.00h-2.04ZM475.98 100.70h2.04v6.00h-2.04ZM477.98 100.70h2.04v6.00h-2.04ZM483.98 100.70h2.04v6.00h-2.04ZM489.98 100.70h2.04v6.00h-2.04ZM429.98 109.60h2.04v6.00h-2.04ZM459.98 109.60h2.04v6.00h-2.04ZM497.98 109.60h2.04v6.00h-2.04ZM375.98 116.75h2.04v6.00h-2.04ZM463.98 116.75h2.04v6.00h-2.04ZM459.98 123.90h2.04v6.00h-2.04ZM357.98 132.60h2.04v6.00h-2.04ZM457.98 132.60h2.04v6.00h-2.04ZM461.98 132.60h2.04v6.00h-2.04ZM503.98 132.60h2.04v6.00h-2.04ZM505.98 132.60h2.04v6.00h-2.04ZM341.98 146.90h2.04v6.00h-2.04ZM343.98 146.90h2.04v6.00h-2.04ZM369.98 146.90h2.04v6.00h-2.04ZM463.98 146.90h2.04v6.00h-2.04ZM501.98 146.90h2.04v6.00h-2.04ZM373.98 154.05h2.04v6.00h-2.04ZM475.98 154.05h2.04v6.00h-2.04ZM481.98 154.05h2.04v6.00h-2.04ZM357.98 189.80h2.04v6.00h-2.04ZM407.98 204.10h2.04v6.00h-2.04ZM345.98 225.55h2.04v6.00h-2.04ZM467.98 225.55h2.04v6.00h-2.04ZM477.98 225.55h2.04v6.00h-2.04ZM463.98 269.90h2.04v6.00h-2.04Z" fill="#D09A33"/>
<path d="M336.28 74.15h1.44v1.90h-1.44ZM338.28 74.15h1.44v1.90h-1.44ZM344.28 74.15h1.44v1.90h-1.44ZM346.28 74.15h1.44v1.90h-1.44ZM348.28 74.15h1.44v1.90h-1.44ZM350.28 74.15h1.44v1.90h-1.44ZM352.28 74.15h1.44v1.90h-1.44ZM354.28 74.15h1.44v1.90h-1.44ZM356.28 74.15h1.44v1.90h-1.44ZM358.28 74.15h1.44v1.90h-1.44ZM360.28 74.15h1.44v1.90h-1.44ZM370.28 74.15h1.44v1.90h-1.44ZM372.28 74.15h1.44v1.90h-1.44ZM376.28 74.15h1.44v1.90h-1.44ZM378.28 74.15h1.44v1.90h-1.44ZM384.28 74.15h1.44v1.90h-1.44ZM386.28 74.15h1.44v1.90h-1.44ZM388.28 74.15h1.44v1.90h-1.44ZM390.28 74.15h1.44v1.90h-1.44ZM392.28 74.15h1.44v1.90h-1.44ZM394.28 74.15h1.44v1.90h-1.44ZM396.28 74.15h1.44v1.90h-1.44ZM398.28 74.15h1.44v1.90h-1.44ZM400.28 74.15h1.44v1.90h-1.44ZM402.28 74.15h1.44v1.90h-1.44ZM404.28 74.15h1.44v1.90h-1.44ZM406.28 74.15h1.44v1.90h-1.44ZM408.28 74.15h1.44v1.90h-1.44ZM410.28 74.15h1.44v1.90h-1.44ZM336.28 81.30h1.44v1.90h-1.44ZM414.28 81.30h1.44v1.90h-1.44ZM416.28 81.30h1.44v1.90h-1.44ZM418.28 81.30h1.44v1.90h-1.44ZM420.28 81.30h1.44v1.90h-1.44ZM422.28 81.30h1.44v1.90h-1.44ZM424.28 81.30h1.44v1.90h-1.44ZM426.28 81.30h1.44v1.90h-1.44ZM428.28 81.30h1.44v1.90h-1.44ZM430.28 81.30h1.44v1.90h-1.44ZM432.28 81.30h1.44v1.90h-1.44ZM434.28 81.30h1.44v1.90h-1.44ZM436.28 81.30h1.44v1.90h-1.44ZM438.28 81.30h1.44v1.90h-1.44ZM440.28 81.30h1.44v1.90h-1.44ZM442.28 81.30h1.44v1.90h-1.44ZM444.28 81.30h1.44v1.90h-1.44ZM446.28 81.30h1.44v1.90h-1.44ZM448.28 81.30h1.44v1.90h-1.44ZM450.28 81.30h1.44v1.90h-1.44ZM452.28 81.30h1.44v1.90h-1.44ZM456.28 81.30h1.44v1.90h-1.44ZM458.28 81.30h1.44v1.90h-1.44Z" fill="#E8332F"/>
<path d="M340.28 74.15h1.44v1.90h-1.44ZM362.28 74.15h1.44v1.90h-1.44ZM366.28 74.15h1.44v1.90h-1.44ZM368.28 74.15h1.44v1.90h-1.44ZM374.28 74.15h1.44v1.90h-1.44ZM380.28 74.15h1.44v1.90h-1.44ZM382.28 74.15h1.44v1.90h-1.44ZM412.28 81.30h1.44v1.90h-1.44ZM454.28 88.45h1.44v1.90h-1.44Z" fill="#F5D31A"/>
<path d="M342.28 74.15h1.44v1.90h-1.44Z" fill="#8A3FB5"/>
<path d="M364.28 74.15h1.44v1.90h-1.44Z" fill="#F4B8C8"/>
<path d="M412.23 155.45h1.54v3.20h-1.54Z" fill="#1E2235"/>
<path d="M338.00 40V304.30M340.00 40V304.30M342.00 40V304.30M344.00 40V304.30M346.00 40V304.30M348.00 40V304.30M350.00 40V304.30M352.00 40V304.30M354.00 40V304.30M356.00 40V304.30M358.00 40V304.30M360.00 40V304.30M362.00 40V304.30M364.00 40V304.30M366.00 40V304.30M368.00 40V304.30M370.00 40V304.30M372.00 40V304.30M374.00 40V304.30M376.00 40V304.30M378.00 40V304.30M380.00 40V304.30M382.00 40V304.30M384.00 40V304.30M386.00 40V304.30M388.00 40V304.30M390.00 40V304.30M392.00 40V304.30M394.00 40V304.30M396.00 40V304.30M398.00 40V304.30M400.00 40V304.30M402.00 40V304.30M404.00 40V304.30M406.00 40V304.30M408.00 40V304.30M410.00 40V304.30M412.00 40V304.30M414.00 40V304.30M416.00 40V304.30M418.00 40V304.30M420.00 40V304.30M422.00 40V304.30M424.00 40V304.30M426.00 40V304.30M428.00 40V304.30M430.00 40V304.30M432.00 40V304.30M434.00 40V304.30M436.00 40V304.30M438.00 40V304.30M440.00 40V304.30M442.00 40V304.30M444.00 40V304.30M446.00 40V304.30M448.00 40V304.30M450.00 40V304.30M452.00 40V304.30M454.00 40V304.30M456.00 40V304.30M458.00 40V304.30M460.00 40V304.30M462.00 40V304.30M464.00 40V304.30M466.00 40V304.30M468.00 40V304.30M470.00 40V304.30M472.00 40V304.30M474.00 40V304.30M476.00 40V304.30M478.00 40V304.30M480.00 40V304.30M482.00 40V304.30M484.00 40V304.30M486.00 40V304.30M488.00 40V304.30M490.00 40V304.30M492.00 40V304.30M494.00 40V304.30M496.00 40V304.30M498.00 40V304.30M500.00 40V304.30M502.00 40V304.30M504.00 40V304.30M506.00 40V304.30M508.00 40V304.30M510.00 40V304.30M512.00 40V304.30M514.00 40V304.30M516.00 40V304.30M518.00 40V304.30M520.00 40V304.30M522.00 40V304.30M524.00 40V304.30" stroke="#fff" stroke-width="0.3" stroke-opacity="0.22"/>
<rect x="336.00" y="71.5" width="190.00" height="233.40" fill="none" stroke="#000" stroke-width="1.1"/>
<rect x="566.40" y="71.5" width="23.60" height="233.40" fill="none" stroke="#000" stroke-width="1.1"/>
<rect x="335.00" y="107.00" width="191.60" height="2.10" fill="#000" />
<rect x="565.85" y="107.00" width="24.70" height="2.10" fill="#000" />
<rect x="335.00" y="130.10" width="191.60" height="2.10" fill="#000" />
<rect x="565.85" y="130.10" width="24.70" height="2.10" fill="#000" />
<rect x="335.00" y="245.90" width="191.60" height="2.10" fill="#000" />
<rect x="565.85" y="245.90" width="24.70" height="2.10" fill="#000" />
<rect x="567.00" y="73.10" width="17.90" height="4.40" fill="#93C954" />
<rect x="584.90" y="73.10" width="4.00" height="4.40" fill="#3B7FCC" />
<rect x="567.00" y="80.25" width="10.90" height="4.40" fill="#93C954" />
<rect x="577.90" y="80.25" width="0.70" height="4.40" fill="#A6DEF0" />
<rect x="567.00" y="87.40" width="1.00" height="4.40" fill="#93C954" />
<rect x="567.00" y="94.55" width="0.30" height="4.40" fill="#93C954" />
<rect x="567.00" y="101.70" width="2.90" height="4.40" fill="#93C954" />
<rect x="569.90" y="101.70" width="3.90" height="4.40" fill="#D09A33" />
<rect x="567.00" y="110.60" width="13.00" height="4.40" fill="#93C954" />
<rect x="580.00" y="110.60" width="1.80" height="4.40" fill="#D09A33" />
<rect x="567.00" y="117.75" width="7.80" height="4.40" fill="#93C954" />
<rect x="574.80" y="117.75" width="1.50" height="4.40" fill="#D09A33" />
<rect x="567.00" y="124.90" width="5.00" height="4.40" fill="#93C954" />
<rect x="572.00" y="124.90" width="1.00" height="4.40" fill="#D09A33" />
<rect x="567.00" y="133.60" width="3.20" height="4.40" fill="#93C954" />
<rect x="570.20" y="133.60" width="2.40" height="4.40" fill="#D09A33" />
<rect x="567.00" y="140.75" width="2.60" height="4.40" fill="#93C954" />
<rect x="567.00" y="147.90" width="2.60" height="4.40" fill="#D09A33" />
<rect x="567.00" y="155.05" width="1.30" height="4.40" fill="#93C954" />
<rect x="568.30" y="155.05" width="2.40" height="4.40" fill="#D09A33" />
<rect x="567.00" y="162.20" width="2.60" height="4.40" fill="#93C954" />
<rect x="567.00" y="169.35" width="1.70" height="4.40" fill="#3B7FCC" />
<rect x="567.00" y="176.50" width="0.50" height="4.40" fill="#93C954" />
<rect x="567.00" y="183.65" width="1.50" height="4.40" fill="#93C954" />
<rect x="567.00" y="190.80" width="1.30" height="4.40" fill="#93C954" />
<rect x="568.30" y="190.80" width="1.30" height="4.40" fill="#D09A33" />
<rect x="567.00" y="197.95" width="0.40" height="4.40" fill="#93C954" />
<rect x="567.00" y="205.10" width="0.50" height="4.40" fill="#D09A33" />
<rect x="567.00" y="212.25" width="1.10" height="4.40" fill="#93C954" />
<rect x="567.00" y="219.40" width="1.10" height="4.40" fill="#93C954" />
<rect x="567.00" y="226.55" width="1.80" height="4.40" fill="#D09A33" />
<rect x="567.00" y="233.70" width="0.40" height="4.40" fill="#93C954" />
<rect x="567.00" y="240.85" width="1.80" height="4.40" fill="#93C954" />
<rect x="568.80" y="240.85" width="0.90" height="4.40" fill="#3B7FCC" />
<rect x="567.00" y="249.60" width="3.50" height="4.40" fill="#93C954" />
<rect x="567.00" y="256.70" width="5.50" height="4.40" fill="#93C954" />
<rect x="567.00" y="263.80" width="4.70" height="4.40" fill="#93C954" />
<rect x="567.00" y="270.90" width="3.90" height="4.40" fill="#93C954" />
<rect x="570.90" y="270.90" width="0.50" height="4.40" fill="#D09A33" />
<rect x="567.00" y="278.00" width="5.50" height="4.40" fill="#93C954" />
<rect x="567.00" y="285.10" width="1.70" height="4.40" fill="#93C954" />
<rect x="567.00" y="292.20" width="5.50" height="4.40" fill="#93C954" />
<rect x="567.00" y="299.30" width="4.70" height="4.40" fill="#93C954" />
<line x1="566.40" y1="304.90" x2="566.40" y2="306.10" stroke="#000" stroke-width="0.5" />
<text transform="translate(570.20,306.40) rotate(-90)" text-anchor="end" font-size="5.6" font-family="Liberation Sans" fill="#333">0</text>
<line x1="576.50" y1="304.90" x2="576.50" y2="306.10" stroke="#000" stroke-width="0.5" />
<text transform="translate(580.30,306.40) rotate(-90)" text-anchor="end" font-size="5.6" font-family="Liberation Sans" fill="#333">20</text>
<line x1="586.30" y1="304.90" x2="586.30" y2="306.10" stroke="#000" stroke-width="0.5" />
<text transform="translate(590.10,306.40) rotate(-90)" text-anchor="end" font-size="5.6" font-family="Liberation Sans" fill="#333">40</text>
<text x="527.80" y="77.90" font-size="8.2" font-style="italic" font-family="Liberation Sans" fill="#111" stroke="#111" stroke-width="0.22" transform="translate(527.80,0) scale(1.11,1) translate(-527.80,0)">BRAF</text>
<text x="527.80" y="85.05" font-size="8.2" font-style="italic" font-family="Liberation Sans" fill="#111" stroke="#111" stroke-width="0.22" transform="translate(527.80,0) scale(1.11,1) translate(-527.80,0)">NRAS</text>
<text x="527.80" y="92.20" font-size="8.2" font-style="italic" font-family="Liberation Sans" fill="#111" stroke="#111" stroke-width="0.22" transform="translate(527.80,0) scale(1.11,1) translate(-527.80,0)">KRAS</text>
<text x="527.80" y="99.35" font-size="8.2" font-style="italic" font-family="Liberation Sans" fill="#111" stroke="#111" stroke-width="0.22" transform="translate(527.80,0) scale(1.11,1) translate(-527.80,0)">HRAS</text>
<text x="527.80" y="106.50" font-size="8.2" font-style="italic" font-family="Liberation Sans" fill="#111" stroke="#111" stroke-width="0.22" transform="translate(527.80,0) scale(1.11,1) translate(-527.80,0)">NF1</text>
<text x="527.80" y="115.40" font-size="8.2" font-style="italic" font-family="Liberation Sans" fill="#111" stroke="#111" stroke-width="0.22" transform="translate(527.80,0) scale(1.11,1) translate(-527.80,0)">LRP1B</text>
<text x="527.80" y="122.55" font-size="8.2" font-style="italic" font-family="Liberation Sans" fill="#111" stroke="#111" stroke-width="0.22" transform="translate(527.80,0) scale(1.11,1) translate(-527.80,0)">ROS1</text>
<text x="527.80" y="129.70" font-size="8.2" font-style="italic" font-family="Liberation Sans" fill="#111" stroke="#111" stroke-width="0.22" transform="translate(527.80,0) scale(1.11,1) translate(-527.80,0)">GRIN2A</text>
<text x="527.80" y="138.40" font-size="8.2" font-style="italic" font-family="Liberation Sans" fill="#111" stroke="#111" stroke-width="0.22" transform="translate(527.80,0) scale(1.11,1) translate(-527.80,0)">TP53</text>
<text x="527.80" y="145.55" font-size="8.2" font-style="italic" font-family="Liberation Sans" fill="#111" stroke="#111" stroke-width="0.22" transform="translate(527.80,0) scale(1.11,1) translate(-527.80,0)">RAC1</text>
<text x="527.80" y="152.70" font-size="8.2" font-style="italic" font-family="Liberation Sans" fill="#111" stroke="#111" stroke-width="0.22" transform="translate(527.80,0) scale(1.11,1) translate(-527.80,0)">CDKN2A</text>
<text x="527.80" y="159.85" font-size="8.2" font-style="italic" font-family="Liberation Sans" fill="#111" stroke="#111" stroke-width="0.22" transform="translate(527.80,0) scale(1.11,1) translate(-527.80,0)">ARID2</text>
<text x="527.80" y="167.00" font-size="8.2" font-style="italic" font-family="Liberation Sans" fill="#111" stroke="#111" stroke-width="0.22" transform="translate(527.80,0) scale(1.11,1) translate(-527.80,0)">MET</text>
<text x="527.80" y="174.15" font-size="8.2" font-style="italic" font-family="Liberation Sans" fill="#111" stroke="#111" stroke-width="0.22" transform="translate(527.80,0) scale(1.11,1) translate(-527.80,0)">MAP2K1</text>
<text x="527.80" y="181.30" font-size="8.2" font-style="italic" font-family="Liberation Sans" fill="#111" stroke="#111" stroke-width="0.22" transform="translate(527.80,0) scale(1.11,1) translate(-527.80,0)">ALK</text>
<text x="527.80" y="188.45" font-size="8.2" font-style="italic" font-family="Liberation Sans" fill="#111" stroke="#111" stroke-width="0.22" transform="translate(527.80,0) scale(1.11,1) translate(-527.80,0)">SF3B1</text>
<text x="527.80" y="195.60" font-size="8.2" font-style="italic" font-family="Liberation Sans" fill="#111" stroke="#111" stroke-width="0.22" transform="translate(527.80,0) scale(1.11,1) translate(-527.80,0)">ATM</text>
<text x="527.80" y="202.75" font-size="8.2" font-style="italic" font-family="Liberation Sans" fill="#111" stroke="#111" stroke-width="0.22" transform="translate(527.80,0) scale(1.11,1) translate(-527.80,0)">ATRX</text>
<text x="527.80" y="209.90" font-size="8.2" font-style="italic" font-family="Liberation Sans" fill="#111" stroke="#111" stroke-width="0.22" transform="translate(527.80,0) scale(1.11,1) translate(-527.80,0)">PTEN</text>
<text x="527.80" y="217.05" font-size="8.2" font-style="italic" font-family="Liberation Sans" fill="#111" stroke="#111" stroke-width="0.22" transform="translate(527.80,0) scale(1.11,1) translate(-527.80,0)">IDH1</text>
<text x="527.80" y="224.20" font-size="8.2" font-style="italic" font-family="Liberation Sans" fill="#111" stroke="#111" stroke-width="0.22" transform="translate(527.80,0) scale(1.11,1) translate(-527.80,0)">CTNNB1</text>
<text x="527.80" y="231.35" font-size="8.2" font-style="italic" font-family="Liberation Sans" fill="#111" stroke="#111" stroke-width="0.22" transform="translate(527.80,0) scale(1.11,1) translate(-527.80,0)">RB1</text>
<text x="527.80" y="238.50" font-size="8.2" font-style="italic" font-family="Liberation Sans" fill="#111" stroke="#111" stroke-width="0.22" transform="translate(527.80,0) scale(1.11,1) translate(-527.80,0)">PIK3CA</text>
<text x="527.80" y="245.65" font-size="8.2" font-style="italic" font-family="Liberation Sans" fill="#111" stroke="#111" stroke-width="0.22" transform="translate(527.80,0) scale(1.11,1) translate(-527.80,0)">KIT</text>
<text x="527.80" y="254.40" font-size="8.2" font-style="italic" font-family="Liberation Sans" fill="#111" stroke="#111" stroke-width="0.22" transform="translate(527.80,0) scale(1.11,1) translate(-527.80,0)">PTPRD</text>
<text x="527.80" y="261.50" font-size="8.2" font-style="italic" font-family="Liberation Sans" fill="#111" stroke="#111" stroke-width="0.22" transform="translate(527.80,0) scale(1.11,1) translate(-527.80,0)">MYOCD</text>
<text x="527.80" y="268.60" font-size="8.2" font-style="italic" font-family="Liberation Sans" fill="#111" stroke="#111" stroke-width="0.22" transform="translate(527.80,0) scale(1.11,1) translate(-527.80,0)">DMD</text>
<text x="527.80" y="275.70" font-size="8.2" font-style="italic" font-family="Liberation Sans" fill="#111" stroke="#111" stroke-width="0.22" transform="translate(527.80,0) scale(1.11,1) translate(-527.80,0)">KMT2D</text>
<text x="527.80" y="282.80" font-size="8.2" font-style="italic" font-family="Liberation Sans" fill="#111" stroke="#111" stroke-width="0.22" transform="translate(527.80,0) scale(1.11,1) translate(-527.80,0)">ERBB4</text>
<text x="527.80" y="289.90" font-size="8.2" font-style="italic" font-family="Liberation Sans" fill="#111" stroke="#111" stroke-width="0.22" transform="translate(527.80,0) scale(1.11,1) translate(-527.80,0)">FLT4</text>
<text x="527.80" y="297.00" font-size="8.2" font-style="italic" font-family="Liberation Sans" fill="#111" stroke="#111" stroke-width="0.22" transform="translate(527.80,0) scale(1.11,1) translate(-527.80,0)">ALPK2</text>
<text x="527.80" y="304.10" font-size="8.2" font-style="italic" font-family="Liberation Sans" fill="#111" stroke="#111" stroke-width="0.22" transform="translate(527.80,0) scale(1.11,1) translate(-527.80,0)">HERC1</text>
<text x="334.40" y="77.10" font-size="4.9" fill="#222" text-anchor="end" font-family="Liberation Sans" transform="translate(334.40,0) scale(0.88,1) translate(-334.40,0)">50%</text>
<text x="334.40" y="84.25" font-size="4.9" fill="#222" text-anchor="end" font-family="Liberation Sans" transform="translate(334.40,0) scale(0.88,1) translate(-334.40,0)">26%</text>
<text x="334.40" y="91.40" font-size="4.9" fill="#222" text-anchor="end" font-family="Liberation Sans" transform="translate(334.40,0) scale(0.88,1) translate(-334.40,0)">3%</text>
<text x="334.40" y="98.55" font-size="4.9" fill="#222" text-anchor="end" font-family="Liberation Sans" transform="translate(334.40,0) scale(0.88,1) translate(-334.40,0)">1%</text>
<text x="334.40" y="105.70" font-size="4.9" fill="#222" text-anchor="end" font-family="Liberation Sans" transform="translate(334.40,0) scale(0.88,1) translate(-334.40,0)">16%</text>
<text x="334.40" y="114.60" font-size="4.9" fill="#222" text-anchor="end" font-family="Liberation Sans" transform="translate(334.40,0) scale(0.88,1) translate(-334.40,0)">30%</text>
<text x="334.40" y="121.75" font-size="4.9" fill="#222" text-anchor="end" font-family="Liberation Sans" transform="translate(334.40,0) scale(0.88,1) translate(-334.40,0)">20%</text>
<text x="334.40" y="128.90" font-size="4.9" fill="#222" text-anchor="end" font-family="Liberation Sans" transform="translate(334.40,0) scale(0.88,1) translate(-334.40,0)">14%</text>
<text x="334.40" y="137.60" font-size="4.9" fill="#222" text-anchor="end" font-family="Liberation Sans" transform="translate(334.40,0) scale(0.88,1) translate(-334.40,0)">12%</text>
<text x="334.40" y="144.75" font-size="4.9" fill="#222" text-anchor="end" font-family="Liberation Sans" transform="translate(334.40,0) scale(0.88,1) translate(-334.40,0)">8%</text>
<text x="334.40" y="151.90" font-size="4.9" fill="#222" text-anchor="end" font-family="Liberation Sans" transform="translate(334.40,0) scale(0.88,1) translate(-334.40,0)">7%</text>
<text x="334.40" y="159.05" font-size="4.9" fill="#222" text-anchor="end" font-family="Liberation Sans" transform="translate(334.40,0) scale(0.88,1) translate(-334.40,0)">7%</text>
<text x="334.40" y="166.20" font-size="4.9" fill="#222" text-anchor="end" font-family="Liberation Sans" transform="translate(334.40,0) scale(0.88,1) translate(-334.40,0)">6%</text>
<text x="334.40" y="173.35" font-size="4.9" fill="#222" text-anchor="end" font-family="Liberation Sans" transform="translate(334.40,0) scale(0.88,1) translate(-334.40,0)">4%</text>
<text x="334.40" y="180.50" font-size="4.9" fill="#222" text-anchor="end" font-family="Liberation Sans" transform="translate(334.40,0) scale(0.88,1) translate(-334.40,0)">2%</text>
<text x="334.40" y="187.65" font-size="4.9" fill="#222" text-anchor="end" font-family="Liberation Sans" transform="translate(334.40,0) scale(0.88,1) translate(-334.40,0)">6%</text>
<text x="334.40" y="194.80" font-size="4.9" fill="#222" text-anchor="end" font-family="Liberation Sans" transform="translate(334.40,0) scale(0.88,1) translate(-334.40,0)">7%</text>
<text x="334.40" y="201.95" font-size="4.9" fill="#222" text-anchor="end" font-family="Liberation Sans" transform="translate(334.40,0) scale(0.88,1) translate(-334.40,0)">2%</text>
<text x="334.40" y="209.10" font-size="4.9" fill="#222" text-anchor="end" font-family="Liberation Sans" transform="translate(334.40,0) scale(0.88,1) translate(-334.40,0)">2%</text>
<text x="334.40" y="216.25" font-size="4.9" fill="#222" text-anchor="end" font-family="Liberation Sans" transform="translate(334.40,0) scale(0.88,1) translate(-334.40,0)">3%</text>
<text x="334.40" y="223.40" font-size="4.9" fill="#222" text-anchor="end" font-family="Liberation Sans" transform="translate(334.40,0) scale(0.88,1) translate(-334.40,0)">3%</text>
<text x="334.40" y="230.55" font-size="4.9" fill="#222" text-anchor="end" font-family="Liberation Sans" transform="translate(334.40,0) scale(0.88,1) translate(-334.40,0)">5%</text>
<text x="334.40" y="237.70" font-size="4.9" fill="#222" text-anchor="end" font-family="Liberation Sans" transform="translate(334.40,0) scale(0.88,1) translate(-334.40,0)">2%</text>
<text x="334.40" y="244.85" font-size="4.9" fill="#222" text-anchor="end" font-family="Liberation Sans" transform="translate(334.40,0) scale(0.88,1) translate(-334.40,0)">5%</text>
<text x="334.40" y="253.60" font-size="4.9" fill="#222" text-anchor="end" font-family="Liberation Sans" transform="translate(334.40,0) scale(0.88,1) translate(-334.40,0)">10%</text>
<text x="334.40" y="260.70" font-size="4.9" fill="#222" text-anchor="end" font-family="Liberation Sans" transform="translate(334.40,0) scale(0.88,1) translate(-334.40,0)">13%</text>
<text x="334.40" y="267.80" font-size="4.9" fill="#222" text-anchor="end" font-family="Liberation Sans" transform="translate(334.40,0) scale(0.88,1) translate(-334.40,0)">12%</text>
<text x="334.40" y="274.90" font-size="4.9" fill="#222" text-anchor="end" font-family="Liberation Sans" transform="translate(334.40,0) scale(0.88,1) translate(-334.40,0)">11%</text>
<text x="334.40" y="282.00" font-size="4.9" fill="#222" text-anchor="end" font-family="Liberation Sans" transform="translate(334.40,0) scale(0.88,1) translate(-334.40,0)">13%</text>
<text x="334.40" y="289.10" font-size="4.9" fill="#222" text-anchor="end" font-family="Liberation Sans" transform="translate(334.40,0) scale(0.88,1) translate(-334.40,0)">5%</text>
<text x="334.40" y="296.20" font-size="4.9" fill="#222" text-anchor="end" font-family="Liberation Sans" transform="translate(334.40,0) scale(0.88,1) translate(-334.40,0)">13%</text>
<text x="334.40" y="303.30" font-size="4.9" fill="#222" text-anchor="end" font-family="Liberation Sans" transform="translate(334.40,0) scale(0.88,1) translate(-334.40,0)">12%</text>
<text transform="translate(321.50,87.60) rotate(-90)" text-anchor="middle" font-size="7.0" font-family="Liberation Sans" fill="#111" textLength="26.9" lengthAdjust="spacingAndGlyphs">Subtypes</text>
<text transform="translate(321.50,118.40) rotate(-90)" text-anchor="middle" font-size="7.0" font-family="Liberation Sans" fill="#111" textLength="26.6" lengthAdjust="spacingAndGlyphs">Common</text>
<text transform="translate(321.50,186.00) rotate(-90)" text-anchor="middle" font-size="7.0" font-family="Liberation Sans" fill="#111" textLength="50.0" lengthAdjust="spacingAndGlyphs">Melanoma genes</text>
<text transform="translate(321.50,275.70) rotate(-90)" text-anchor="middle" font-size="7.0" font-family="Liberation Sans" fill="#111" textLength="25.6" lengthAdjust="spacingAndGlyphs">Selected</text>
<line x1="333.40" y1="31.40" x2="335.00" y2="31.40" stroke="#000" stroke-width="0.5" />
<text x="332.80" y="32.80" font-size="4.0" font-family="Liberation Sans" fill="#222" text-anchor="end">100</text>
<line x1="333.40" y1="34.30" x2="335.00" y2="34.30" stroke="#000" stroke-width="0.5" />
<text x="332.80" y="35.70" font-size="4.0" font-family="Liberation Sans" fill="#222" text-anchor="end">50</text>
<line x1="333.40" y1="39.30" x2="335.00" y2="39.30" stroke="#000" stroke-width="0.5" />
<text x="332.80" y="40.70" font-size="4.0" font-family="Liberation Sans" fill="#222" text-anchor="end">0</text>
<text x="527.60" y="35.00" font-size="6.6" fill="#111" text-anchor="start" font-weight="normal" font-style="normal" font-family="Liberation Sans" >TMB</text>
<text x="527.60" y="44.80" font-size="6.6" fill="#111" text-anchor="start" font-weight="normal" font-style="normal" font-family="Liberation Sans" >TMB classes</text>
<text x="527.60" y="50.90" font-size="6.6" fill="#111" text-anchor="start" font-weight="normal" font-style="normal" font-family="Liberation Sans" >Cutaneous</text>
<text x="527.60" y="57.20" font-size="6.6" fill="#111" text-anchor="start" font-weight="normal" font-style="normal" font-family="Liberation Sans" >Treatment</text>
<text x="527.60" y="63.40" font-size="6.6" fill="#111" text-anchor="start" font-weight="normal" font-style="normal" font-family="Liberation Sans" >Response</text>
<text x="527.60" y="69.60" font-size="6.6" fill="#111" text-anchor="start" font-weight="normal" font-style="normal" font-family="Liberation Sans" >Melanoma subtype</text>
<text x="376.90" y="23.70" font-size="13" fill="#000" text-anchor="start" font-weight="normal" font-style="normal" font-family="Liberation Sans" textLength="150.4" lengthAdjust="spacingAndGlyphs">Non−responders oncoplot</text>
<text x="593.00" y="68.30" font-size="6.6" fill="#000" text-anchor="start" font-weight="bold" font-style="normal" font-family="Liberation Sans" >Mutation</text>
<rect x="593.40" y="71.00" width="4.00" height="4.20" fill="#93C954" />
<text x="598.00" y="75.60" font-size="6.4" fill="#222" text-anchor="start" font-weight="normal" font-style="normal" font-family="Liberation Sans" >Missense</text>
<rect x="593.40" y="77.03" width="4.00" height="4.20" fill="#1A4F96" />
<text x="598.00" y="81.63" font-size="6.4" fill="#222" text-anchor="start" font-weight="normal" font-style="normal" font-family="Liberation Sans" >Indel</text>
<rect x="593.40" y="83.06" width="4.00" height="4.20" fill="#D09A33" />
<text x="598.00" y="87.66" font-size="6.4" fill="#222" text-anchor="start" font-weight="normal" font-style="normal" font-family="Liberation Sans" >Nonsense</text>
<rect x="593.40" y="89.09" width="4.00" height="4.20" fill="#3B7FCC" />
<text x="598.00" y="93.69" font-size="6.4" fill="#222" text-anchor="start" font-weight="normal" font-style="normal" font-family="Liberation Sans" >MNV</text>
<rect x="594.00" y="96.82" width="2.60" height="1.10" fill="#E8332F" />
<text x="598.00" y="99.72" font-size="6.4" fill="#222" text-anchor="start" font-weight="normal" font-style="normal" font-family="Liberation Sans" >BRAF V600E</text>
<rect x="594.00" y="102.85" width="2.60" height="1.10" fill="#F5D31A" />
<text x="598.00" y="105.75" font-size="6.4" fill="#222" text-anchor="start" font-weight="normal" font-style="normal" font-family="Liberation Sans" >BRAF V600K</text>
<rect x="594.00" y="108.88" width="2.60" height="1.10" fill="#8A3FB5" />
<text x="598.00" y="111.78" font-size="6.4" fill="#222" text-anchor="start" font-weight="normal" font-style="normal" font-family="Liberation Sans" >BRAF K601E</text>
<rect x="594.00" y="114.91" width="2.60" height="1.10" fill="#F4B8C8" />
<text x="598.00" y="117.81" font-size="6.4" fill="#222" text-anchor="start" font-weight="normal" font-style="normal" font-family="Liberation Sans" >BRAF L597R</text>
<rect x="594.00" y="120.94" width="2.60" height="1.10" fill="#E8332F" />
<text x="598.00" y="123.84" font-size="6.4" fill="#222" text-anchor="start" font-weight="normal" font-style="normal" font-family="Liberation Sans" >RAS Q61</text>
<rect x="594.00" y="126.97" width="2.60" height="1.10" fill="#F5D31A" />
<text x="598.00" y="129.87" font-size="6.4" fill="#222" text-anchor="start" font-weight="normal" font-style="normal" font-family="Liberation Sans" >RAS G12</text>
<rect x="594.00" y="133.00" width="2.60" height="1.10" fill="#8A3FB5" />
<text x="598.00" y="135.90" font-size="6.4" fill="#222" text-anchor="start" font-weight="normal" font-style="normal" font-family="Liberation Sans" >RAS G13</text>
<text x="593.00" y="146.60" font-size="6.6" fill="#000" text-anchor="start" font-weight="bold" font-style="normal" font-family="Liberation Sans" >TMB_classes</text>
<rect x="594.00" y="149.90" width="4.30" height="4.30" fill="#1A1A1A" />
<text x="599.80" y="153.90" font-size="5.9" fill="#222" text-anchor="start" font-weight="normal" font-style="normal" font-family="Liberation Sans" >High</text>
<rect x="594.00" y="155.30" width="4.30" height="4.30" fill="#D3D3D3" />
<text x="599.80" y="159.30" font-size="5.9" fill="#222" text-anchor="start" font-weight="normal" font-style="normal" font-family="Liberation Sans" >Low</text>
<text x="593.00" y="169.60" font-size="6.6" fill="#000" text-anchor="start" font-weight="bold" font-style="normal" font-family="Liberation Sans" >Cutaneous</text>
<rect x="594.00" y="172.90" width="4.30" height="4.30" fill="#93C954" />
<text x="599.80" y="176.90" font-size="5.9" fill="#222" text-anchor="start" font-weight="normal" font-style="normal" font-family="Liberation Sans" >no</text>
<rect x="594.00" y="178.30" width="4.30" height="4.30" fill="#D09A33" />
<text x="599.80" y="182.30" font-size="5.9" fill="#222" text-anchor="start" font-weight="normal" font-style="normal" font-family="Liberation Sans" >yes</text>
<text x="593.00" y="192.40" font-size="6.6" fill="#000" text-anchor="start" font-weight="bold" font-style="normal" font-family="Liberation Sans" >Treatment</text>
<rect x="594.00" y="195.70" width="4.30" height="4.30" fill="#2E6FC0" />
<text x="599.80" y="199.70" font-size="5.9" fill="#222" text-anchor="start" font-weight="normal" font-style="normal" font-family="Liberation Sans" >IPI+PD1</text>
<rect x="594.00" y="201.10" width="4.30" height="4.30" fill="#A6DEF0" />
<text x="599.80" y="205.10" font-size="5.9" fill="#222" text-anchor="start" font-weight="normal" font-style="normal" font-family="Liberation Sans" >PD1</text>
<text x="593.00" y="214.80" font-size="6.6" fill="#000" text-anchor="start" font-weight="bold" font-style="normal" font-family="Liberation Sans" >Response</text>
<rect x="594.00" y="218.10" width="4.30" height="4.30" fill="#208A40" />
<text x="599.80" y="222.10" font-size="5.9" fill="#222" text-anchor="start" font-weight="normal" font-style="normal" font-family="Liberation Sans" >Responder</text>
<rect x="594.00" y="223.50" width="4.30" height="4.30" fill="#FDBA21" />
<text x="599.80" y="227.50" font-size="5.9" fill="#222" text-anchor="start" font-weight="normal" font-style="normal" font-family="Liberation Sans" >Non−responder</text>
<text x="593.00" y="237.60" font-size="6.6" fill="#000" text-anchor="start" font-weight="bold" font-style="normal" font-family="Liberation Sans" >Melanoma subtype</text>
<rect x="594.00" y="240.90" width="4.30" height="4.30" fill="#EC3237" />
<text x="599.80" y="244.90" font-size="5.9" fill="#222" text-anchor="start" font-weight="normal" font-style="normal" font-family="Liberation Sans" >BRAF</text>
<rect x="594.00" y="246.30" width="4.30" height="4.30" fill="#78C6D0" />
<text x="599.80" y="250.30" font-size="5.9" fill="#222" text-anchor="start" font-weight="normal" font-style="normal" font-family="Liberation Sans" >NF1</text>
<rect x="594.00" y="251.70" width="4.30" height="4.30" fill="#FDD400" />
<text x="599.80" y="255.70" font-size="5.9" fill="#222" text-anchor="start" font-weight="normal" font-style="normal" font-family="Liberation Sans" >RAS</text>
<rect x="594.00" y="257.10" width="4.30" height="4.30" fill="#808080" />
<text x="599.80" y="261.10" font-size="5.9" fill="#222" text-anchor="start" font-weight="normal" font-style="normal" font-family="Liberation Sans" >TWT</text>
<text x="0.50" y="12.40" font-size="17" fill="#111" text-anchor="start" font-weight="normal" font-style="normal" font-family="Liberation Sans" >a</text>
<text x="315.50" y="12.40" font-size="17" fill="#111" text-anchor="start" font-weight="normal" font-style="normal" font-family="Liberation Sans" >b</text>
<text x="0.60" y="330.50" font-size="17" fill="#111" text-anchor="start" font-weight="normal" font-style="normal" font-family="Liberation Sans" >c</text>
<text x="465.10" y="330.90" font-size="17" fill="#111" text-anchor="start" font-weight="normal" font-style="normal" font-family="Liberation Sans" >d</text>
<text x="0.50" y="581.60" font-size="17" fill="#111" text-anchor="start" font-weight="normal" font-style="normal" font-family="Liberation Sans" >e</text>
<text x="257.50" y="581.00" font-size="17" fill="#111" text-anchor="start" font-weight="normal" font-style="normal" font-family="Liberation Sans" >f</text>
<text x="390.50" y="578.50" font-size="17" fill="#111" text-anchor="start" font-weight="normal" font-style="normal" font-family="Liberation Sans" >g</text>
<line x1="34.60" y1="331.50" x2="34.60" y2="549.20" stroke="#000" stroke-width="1.6" />
<line x1="33.80" y1="548.50" x2="347.00" y2="548.50" stroke="#000" stroke-width="1.6" />
<line x1="32.00" y1="371.50" x2="34.60" y2="371.50" stroke="#4D4D4D" stroke-width="0.9" />
<text x="31.60" y="375.95" font-size="12.4" fill="#4D4D4D" text-anchor="end" font-weight="normal" font-style="normal" font-family="Liberation Sans" >8</text>
<line x1="32.00" y1="381.83" x2="34.60" y2="381.83" stroke="#4D4D4D" stroke-width="0.9" />
<text x="31.60" y="386.28" font-size="12.4" fill="#4D4D4D" text-anchor="end" font-weight="normal" font-style="normal" font-family="Liberation Sans" >7</text>
<line x1="32.00" y1="393.54" x2="34.60" y2="393.54" stroke="#4D4D4D" stroke-width="0.9" />
<text x="31.60" y="397.99" font-size="12.4" fill="#4D4D4D" text-anchor="end" font-weight="normal" font-style="normal" font-family="Liberation Sans" >6</text>
<line x1="32.00" y1="407.06" x2="34.60" y2="407.06" stroke="#4D4D4D" stroke-width="0.9" />
<text x="31.60" y="411.51" font-size="12.4" fill="#4D4D4D" text-anchor="end" font-weight="normal" font-style="normal" font-family="Liberation Sans" >5</text>
<line x1="32.00" y1="423.05" x2="34.60" y2="423.05" stroke="#4D4D4D" stroke-width="0.9" />
<text x="31.60" y="427.50" font-size="12.4" fill="#4D4D4D" text-anchor="end" font-weight="normal" font-style="normal" font-family="Liberation Sans" >4</text>
<line x1="32.00" y1="442.62" x2="34.60" y2="442.62" stroke="#4D4D4D" stroke-width="0.9" />
<text x="31.60" y="447.07" font-size="12.4" fill="#4D4D4D" text-anchor="end" font-weight="normal" font-style="normal" font-family="Liberation Sans" >3</text>
<line x1="32.00" y1="467.85" x2="34.60" y2="467.85" stroke="#4D4D4D" stroke-width="0.9" />
<text x="31.60" y="472.30" font-size="12.4" fill="#4D4D4D" text-anchor="end" font-weight="normal" font-style="normal" font-family="Liberation Sans" >2</text>
<line x1="32.00" y1="483.84" x2="34.60" y2="483.84" stroke="#4D4D4D" stroke-width="0.9" />
<text x="31.60" y="488.29" font-size="12.4" fill="#4D4D4D" text-anchor="end" font-weight="normal" font-style="normal" font-family="Liberation Sans" >1.5</text>
<line x1="32.00" y1="503.41" x2="34.60" y2="503.41" stroke="#4D4D4D" stroke-width="0.9" />
<text x="31.60" y="507.86" font-size="12.4" fill="#4D4D4D" text-anchor="end" font-weight="normal" font-style="normal" font-family="Liberation Sans" >1</text>
<line x1="32.00" y1="528.64" x2="34.60" y2="528.64" stroke="#4D4D4D" stroke-width="0.9" />
<text x="31.60" y="533.09" font-size="12.4" fill="#4D4D4D" text-anchor="end" font-weight="normal" font-style="normal" font-family="Liberation Sans" >0.5</text>
<line x1="33.90" y1="503.20" x2="347.00" y2="503.20" stroke="#333" stroke-width="1.5" stroke-dasharray="1.4 4.72" />
<text transform="translate(10.40,445.50) rotate(-90)" text-anchor="middle" font-size="12.2" font-weight="bold" font-family="Liberation Sans" fill="#000">OR (95% CI)</text>
<line x1="51.50" y1="441.00" x2="51.50" y2="522.00" stroke="#5A5A5A" stroke-width="1.6" />
<line x1="48.50" y1="441.00" x2="54.50" y2="441.00" stroke="#5A5A5A" stroke-width="1.6" />
<line x1="48.50" y1="522.00" x2="54.50" y2="522.00" stroke="#5A5A5A" stroke-width="1.6" />
<rect x="47.80" y="485.30" width="7.40" height="7.40" fill="#239148" />
<line x1="81.18" y1="507.00" x2="81.18" y2="534.00" stroke="#5A5A5A" stroke-width="1.6" />
<line x1="78.18" y1="507.00" x2="84.18" y2="507.00" stroke="#5A5A5A" stroke-width="1.6" />
<line x1="78.18" y1="534.00" x2="84.18" y2="534.00" stroke="#5A5A5A" stroke-width="1.6" />
<rect x="77.48" y="518.60" width="7.40" height="7.40" fill="#F0C419" />
<line x1="110.86" y1="456.50" x2="110.86" y2="533.40" stroke="#5A5A5A" stroke-width="1.6" />
<line x1="107.86" y1="456.50" x2="113.86" y2="456.50" stroke="#5A5A5A" stroke-width="1.6" />
<line x1="107.86" y1="533.40" x2="113.86" y2="533.40" stroke="#5A5A5A" stroke-width="1.6" />
<rect x="107.16" y="500.10" width="7.40" height="7.40" fill="#F0C419" />
<line x1="140.54" y1="513.60" x2="140.54" y2="538.40" stroke="#5A5A5A" stroke-width="1.6" />
<line x1="137.54" y1="513.60" x2="143.54" y2="513.60" stroke="#5A5A5A" stroke-width="1.6" />
<line x1="137.54" y1="538.40" x2="143.54" y2="538.40" stroke="#5A5A5A" stroke-width="1.6" />
<rect x="136.84" y="524.00" width="7.40" height="7.40" fill="#F0C419" />
<line x1="170.22" y1="400.70" x2="170.22" y2="492.40" stroke="#5A5A5A" stroke-width="1.6" />
<line x1="167.22" y1="400.70" x2="173.22" y2="400.70" stroke="#5A5A5A" stroke-width="1.6" />
<line x1="167.22" y1="492.40" x2="173.22" y2="492.40" stroke="#5A5A5A" stroke-width="1.6" />
<rect x="166.52" y="449.10" width="7.40" height="7.40" fill="#239148" />
<line x1="199.90" y1="438.70" x2="199.90" y2="488.70" stroke="#5A5A5A" stroke-width="1.6" />
<line x1="196.90" y1="438.70" x2="202.90" y2="438.70" stroke="#5A5A5A" stroke-width="1.6" />
<line x1="196.90" y1="488.70" x2="202.90" y2="488.70" stroke="#5A5A5A" stroke-width="1.6" />
<rect x="196.20" y="461.80" width="7.40" height="7.40" fill="#239148" />
<line x1="229.58" y1="373.00" x2="229.58" y2="483.20" stroke="#5A5A5A" stroke-width="1.6" />
<line x1="226.58" y1="373.00" x2="232.58" y2="373.00" stroke="#5A5A5A" stroke-width="1.6" />
<line x1="226.58" y1="483.20" x2="232.58" y2="483.20" stroke="#5A5A5A" stroke-width="1.6" />
<rect x="225.88" y="432.30" width="7.40" height="7.40" fill="#239148" />
<line x1="259.26" y1="446.00" x2="259.26" y2="493.40" stroke="#5A5A5A" stroke-width="1.6" />
<line x1="256.26" y1="446.00" x2="262.26" y2="446.00" stroke="#5A5A5A" stroke-width="1.6" />
<line x1="256.26" y1="493.40" x2="262.26" y2="493.40" stroke="#5A5A5A" stroke-width="1.6" />
<rect x="255.56" y="467.80" width="7.40" height="7.40" fill="#239148" />
<line x1="288.94" y1="413.90" x2="288.94" y2="506.20" stroke="#5A5A5A" stroke-width="1.6" />
<line x1="285.94" y1="413.90" x2="291.94" y2="413.90" stroke="#5A5A5A" stroke-width="1.6" />
<line x1="285.94" y1="506.20" x2="291.94" y2="506.20" stroke="#5A5A5A" stroke-width="1.6" />
<rect x="285.24" y="463.30" width="7.40" height="7.40" fill="#239148" />
<line x1="318.62" y1="457.00" x2="318.62" y2="500.70" stroke="#5A5A5A" stroke-width="1.6" />
<line x1="315.62" y1="457.00" x2="321.62" y2="457.00" stroke="#5A5A5A" stroke-width="1.6" />
<line x1="315.62" y1="500.70" x2="321.62" y2="500.70" stroke="#5A5A5A" stroke-width="1.6" />
<rect x="314.92" y="476.60" width="7.40" height="7.40" fill="#239148" />
<text x="51.50" y="561.20" font-size="12" fill="#4D4D4D" text-anchor="middle" font-weight="bold" font-style="normal" font-family="Liberation Sans" >Uni</text>
<line x1="51.50" y1="549.20" x2="51.50" y2="550.70" stroke="#4D4D4D" stroke-width="0.9" />
<text x="81.18" y="561.20" font-size="12" fill="#4D4D4D" text-anchor="middle" font-weight="bold" font-style="normal" font-family="Liberation Sans" >PS</text>
<line x1="81.18" y1="549.20" x2="81.18" y2="550.70" stroke="#4D4D4D" stroke-width="0.9" />
<text x="110.86" y="561.20" font-size="12" fill="#4D4D4D" text-anchor="middle" font-weight="bold" font-style="normal" font-family="Liberation Sans" >Uni</text>
<line x1="110.86" y1="549.20" x2="110.86" y2="550.70" stroke="#4D4D4D" stroke-width="0.9" />
<text x="140.54" y="561.20" font-size="12" fill="#4D4D4D" text-anchor="middle" font-weight="bold" font-style="normal" font-family="Liberation Sans" >PS</text>
<line x1="140.54" y1="549.20" x2="140.54" y2="550.70" stroke="#4D4D4D" stroke-width="0.9" />
<text x="170.22" y="561.20" font-size="12" fill="#4D4D4D" text-anchor="middle" font-weight="bold" font-style="normal" font-family="Liberation Sans" >Uni</text>
<line x1="170.22" y1="549.20" x2="170.22" y2="550.70" stroke="#4D4D4D" stroke-width="0.9" />
<text x="199.90" y="561.20" font-size="12" fill="#4D4D4D" text-anchor="middle" font-weight="bold" font-style="normal" font-family="Liberation Sans" >PS</text>
<line x1="199.90" y1="549.20" x2="199.90" y2="550.70" stroke="#4D4D4D" stroke-width="0.9" />
<text x="229.58" y="561.20" font-size="12" fill="#4D4D4D" text-anchor="middle" font-weight="bold" font-style="normal" font-family="Liberation Sans" >Uni</text>
<line x1="229.58" y1="549.20" x2="229.58" y2="550.70" stroke="#4D4D4D" stroke-width="0.9" />
<text x="259.26" y="561.20" font-size="12" fill="#4D4D4D" text-anchor="middle" font-weight="bold" font-style="normal" font-family="Liberation Sans" >PS</text>
<line x1="259.26" y1="549.20" x2="259.26" y2="550.70" stroke="#4D4D4D" stroke-width="0.9" />
<text x="288.94" y="561.20" font-size="12" fill="#4D4D4D" text-anchor="middle" font-weight="bold" font-style="normal" font-family="Liberation Sans" >Uni</text>
<line x1="288.94" y1="549.20" x2="288.94" y2="550.70" stroke="#4D4D4D" stroke-width="0.9" />
<text x="318.62" y="561.20" font-size="12" fill="#4D4D4D" text-anchor="middle" font-weight="bold" font-style="normal" font-family="Liberation Sans" >PS</text>
<line x1="318.62" y1="549.20" x2="318.62" y2="550.70" stroke="#4D4D4D" stroke-width="0.9" />
<text x="66.34" y="344.60" font-size="7.2" fill="#000" text-anchor="middle" font-weight="bold" font-style="italic" font-family="Liberation Sans" >ALPK2</text>
<text x="125.70" y="344.60" font-size="7.2" fill="#000" text-anchor="middle" font-weight="bold" font-style="italic" font-family="Liberation Sans" >HERC1</text>
<text x="185.06" y="344.60" font-size="7.2" fill="#000" text-anchor="middle" font-weight="bold" font-style="italic" font-family="Liberation Sans" >GRIN2A</text>
<text x="244.42" y="344.60" font-size="7.2" fill="#000" text-anchor="middle" font-weight="bold" font-style="italic" font-family="Liberation Sans" >PTPRD</text>
<text x="303.78" y="344.60" font-size="7.2" fill="#000" text-anchor="middle" font-weight="bold" font-style="italic" font-family="Liberation Sans" >DMD</text>
<text x="81.18" y="359.00" font-size="15" fill="#000" text-anchor="middle" font-weight="bold" font-style="normal" font-family="Liberation Sans" >*</text>
<text x="140.54" y="359.00" font-size="15" fill="#000" text-anchor="middle" font-weight="bold" font-style="normal" font-family="Liberation Sans" >*</text>
<text x="170.22" y="359.00" font-size="15" fill="#000" text-anchor="middle" font-weight="bold" font-style="normal" font-family="Liberation Sans" >**</text>
<text x="199.90" y="359.00" font-size="15" fill="#000" text-anchor="middle" font-weight="bold" font-style="normal" font-family="Liberation Sans" >**</text>
<text x="229.58" y="356.00" font-size="15" fill="#000" text-anchor="middle" font-weight="bold" font-style="normal" font-family="Liberation Sans" >.</text>
<text x="259.26" y="359.00" font-size="15" fill="#000" text-anchor="middle" font-weight="bold" font-style="normal" font-family="Liberation Sans" >*</text>
<text x="318.62" y="356.00" font-size="15" fill="#000" text-anchor="middle" font-weight="bold" font-style="normal" font-family="Liberation Sans" >.</text>
<text x="358.80" y="430.60" font-size="10.2" fill="#000" text-anchor="start" font-weight="bold" font-style="normal" font-family="Liberation Sans" >response</text>
<rect x="360.30" y="438.30" width="8.00" height="8.30" fill="#F0C419" />
<rect x="360.30" y="450.60" width="8.00" height="8.30" fill="#239148" />
<text x="373.40" y="446.20" font-size="9.8" fill="#222" text-anchor="start" font-weight="normal" font-style="normal" font-family="Liberation Sans" >worse</text>
<text x="373.40" y="459.00" font-size="9.8" fill="#222" text-anchor="start" font-weight="normal" font-style="normal" font-family="Liberation Sans" >better</text>
<line x1="499.00" y1="331.50" x2="499.00" y2="535.70" stroke="#000" stroke-width="1.6" />
<line x1="498.20" y1="535.00" x2="586.60" y2="535.00" stroke="#000" stroke-width="1.6" />
<line x1="496.40" y1="359.70" x2="499.00" y2="359.70" stroke="#4D4D4D" stroke-width="0.9" />
<text x="496.00" y="364.15" font-size="12.4" fill="#4D4D4D" text-anchor="end" font-weight="normal" font-style="normal" font-family="Liberation Sans" >1</text>
<line x1="496.40" y1="378.86" x2="499.00" y2="378.86" stroke="#4D4D4D" stroke-width="0.9" />
<text x="496.00" y="383.31" font-size="12.4" fill="#4D4D4D" text-anchor="end" font-weight="normal" font-style="normal" font-family="Liberation Sans" >0.9</text>
<line x1="496.40" y1="398.02" x2="499.00" y2="398.02" stroke="#4D4D4D" stroke-width="0.9" />
<text x="496.00" y="402.47" font-size="12.4" fill="#4D4D4D" text-anchor="end" font-weight="normal" font-style="normal" font-family="Liberation Sans" >0.8</text>
<line x1="496.40" y1="417.18" x2="499.00" y2="417.18" stroke="#4D4D4D" stroke-width="0.9" />
<text x="496.00" y="421.63" font-size="12.4" fill="#4D4D4D" text-anchor="end" font-weight="normal" font-style="normal" font-family="Liberation Sans" >0.7</text>
<line x1="496.40" y1="436.34" x2="499.00" y2="436.34" stroke="#4D4D4D" stroke-width="0.9" />
<text x="496.00" y="440.79" font-size="12.4" fill="#4D4D4D" text-anchor="end" font-weight="normal" font-style="normal" font-family="Liberation Sans" >0.6</text>
<line x1="496.40" y1="455.50" x2="499.00" y2="455.50" stroke="#4D4D4D" stroke-width="0.9" />
<text x="496.00" y="459.95" font-size="12.4" fill="#4D4D4D" text-anchor="end" font-weight="normal" font-style="normal" font-family="Liberation Sans" >0.5</text>
<line x1="496.40" y1="474.66" x2="499.00" y2="474.66" stroke="#4D4D4D" stroke-width="0.9" />
<text x="496.00" y="479.11" font-size="12.4" fill="#4D4D4D" text-anchor="end" font-weight="normal" font-style="normal" font-family="Liberation Sans" >0.4</text>
<line x1="496.40" y1="493.82" x2="499.00" y2="493.82" stroke="#4D4D4D" stroke-width="0.9" />
<text x="496.00" y="498.27" font-size="12.4" fill="#4D4D4D" text-anchor="end" font-weight="normal" font-style="normal" font-family="Liberation Sans" >0.3</text>
<line x1="496.40" y1="512.98" x2="499.00" y2="512.98" stroke="#4D4D4D" stroke-width="0.9" />
<text x="496.00" y="517.43" font-size="12.4" fill="#4D4D4D" text-anchor="end" font-weight="normal" font-style="normal" font-family="Liberation Sans" >0.2</text>
<line x1="496.40" y1="532.14" x2="499.00" y2="532.14" stroke="#4D4D4D" stroke-width="0.9" />
<text x="496.00" y="536.59" font-size="12.4" fill="#4D4D4D" text-anchor="end" font-weight="normal" font-style="normal" font-family="Liberation Sans" >0.1</text>
<line x1="498.30" y1="359.70" x2="587.00" y2="359.70" stroke="#333" stroke-width="1.5" stroke-dasharray="1.4 4.72" />
<text transform="translate(474.80,440.00) rotate(-90)" text-anchor="middle" font-size="12.2" font-weight="bold" font-family="Liberation Sans" fill="#000">HR (95% CI)</text>
<line x1="505.50" y1="411.20" x2="505.50" y2="510.60" stroke="#5A5A5A" stroke-width="1.6" />
<line x1="502.90" y1="411.20" x2="508.10" y2="411.20" stroke="#5A5A5A" stroke-width="1.6" />
<line x1="502.90" y1="510.60" x2="508.10" y2="510.60" stroke="#5A5A5A" stroke-width="1.6" />
<rect x="501.80" y="473.00" width="7.40" height="7.40" fill="#239148" />
<line x1="527.60" y1="371.20" x2="527.60" y2="502.80" stroke="#5A5A5A" stroke-width="1.6" />
<line x1="525.00" y1="371.20" x2="530.20" y2="371.20" stroke="#5A5A5A" stroke-width="1.6" />
<line x1="525.00" y1="502.80" x2="530.20" y2="502.80" stroke="#5A5A5A" stroke-width="1.6" />
<rect x="523.90" y="453.70" width="7.40" height="7.40" fill="#239148" />
<line x1="549.80" y1="419.50" x2="549.80" y2="525.70" stroke="#5A5A5A" stroke-width="1.6" />
<line x1="547.20" y1="419.50" x2="552.40" y2="419.50" stroke="#5A5A5A" stroke-width="1.6" />
<line x1="547.20" y1="525.70" x2="552.40" y2="525.70" stroke="#5A5A5A" stroke-width="1.6" />
<rect x="546.10" y="489.80" width="7.40" height="7.40" fill="#239148" />
<line x1="572.00" y1="384.40" x2="572.00" y2="520.30" stroke="#5A5A5A" stroke-width="1.6" />
<line x1="569.40" y1="384.40" x2="574.60" y2="384.40" stroke="#5A5A5A" stroke-width="1.6" />
<line x1="569.40" y1="520.30" x2="574.60" y2="520.30" stroke="#5A5A5A" stroke-width="1.6" />
<rect x="568.30" y="476.60" width="7.40" height="7.40" fill="#239148" />
<text x="519.70" y="343.40" font-size="7.4" fill="#000" text-anchor="middle" font-weight="bold" font-style="italic" font-family="Liberation Sans" >PTPRD</text>
<text x="564.00" y="343.40" font-size="7.4" fill="#000" text-anchor="middle" font-weight="bold" font-style="italic" font-family="Liberation Sans" >FLT4</text>
<text x="509.20" y="352.00" font-size="8.5" fill="#000" text-anchor="middle" font-weight="bold" font-style="normal" font-family="Liberation Sans" >**</text>
<text x="531.50" y="352.00" font-size="8.5" fill="#000" text-anchor="middle" font-weight="bold" font-style="normal" font-family="Liberation Sans" >*</text>
<text x="553.90" y="352.00" font-size="8.5" fill="#000" text-anchor="middle" font-weight="bold" font-style="normal" font-family="Liberation Sans" >**</text>
<text x="575.50" y="352.00" font-size="8.5" fill="#000" text-anchor="middle" font-weight="bold" font-style="normal" font-family="Liberation Sans" >*</text>
<text x="553.80" y="388.20" font-size="8.3" fill="#222" text-anchor="start" font-weight="normal" font-style="normal" font-family="Liberation Sans" textLength="43.3" lengthAdjust="spacingAndGlyphs">Lorem ipsum</text>
<text transform="translate(512.50,546.00) rotate(-35)" text-anchor="end" font-size="12" font-weight="bold" font-family="Liberation Sans" fill="#4D4D4D">Uni</text>
<line x1="505.50" y1="535.70" x2="505.50" y2="537.20" stroke="#4D4D4D" stroke-width="0.9" />
<text transform="translate(534.60,546.00) rotate(-35)" text-anchor="end" font-size="12" font-weight="bold" font-family="Liberation Sans" fill="#4D4D4D">Multi</text>
<line x1="527.60" y1="535.70" x2="527.60" y2="537.20" stroke="#4D4D4D" stroke-width="0.9" />
<text transform="translate(556.80,546.00) rotate(-35)" text-anchor="end" font-size="12" font-weight="bold" font-family="Liberation Sans" fill="#4D4D4D">Uni</text>
<line x1="549.80" y1="535.70" x2="549.80" y2="537.20" stroke="#4D4D4D" stroke-width="0.9" />
<text transform="translate(579.00,546.00) rotate(-35)" text-anchor="end" font-size="12" font-weight="bold" font-family="Liberation Sans" fill="#4D4D4D">Multi</text>
<line x1="572.00" y1="535.70" x2="572.00" y2="537.20" stroke="#4D4D4D" stroke-width="0.9" />
<text x="601.00" y="430.50" font-size="10.6" fill="#000" text-anchor="start" font-weight="bold" font-style="normal" font-family="Liberation Sans" >PFS</text>
<rect x="600.20" y="438.40" width="7.80" height="7.80" fill="#239148" />
<text x="616.30" y="446.40" font-size="10.0" fill="#222" text-anchor="start" font-weight="normal" font-style="normal" font-family="Liberation Sans" >longer</text>
<line x1="34.70" y1="580.90" x2="34.70" y2="798.40" stroke="#000" stroke-width="1.6" />
<line x1="33.90" y1="797.60" x2="182.00" y2="797.60" stroke="#000" stroke-width="1.6" />
<line x1="32.10" y1="615.98" x2="34.70" y2="615.98" stroke="#4D4D4D" stroke-width="0.9" />
<text x="31.70" y="620.43" font-size="12.4" fill="#4D4D4D" text-anchor="end" font-weight="normal" font-style="normal" font-family="Liberation Sans" >20</text>
<line x1="32.10" y1="635.64" x2="34.70" y2="635.64" stroke="#4D4D4D" stroke-width="0.9" />
<text x="31.70" y="640.09" font-size="12.4" fill="#4D4D4D" text-anchor="end" font-weight="normal" font-style="normal" font-family="Liberation Sans" >15</text>
<line x1="32.10" y1="662.73" x2="34.70" y2="662.73" stroke="#4D4D4D" stroke-width="0.9" />
<text x="31.70" y="667.18" font-size="12.4" fill="#4D4D4D" text-anchor="end" font-weight="normal" font-style="normal" font-family="Liberation Sans" >10</text>
<line x1="32.10" y1="677.24" x2="34.70" y2="677.24" stroke="#4D4D4D" stroke-width="0.9" />
<text x="31.70" y="681.69" font-size="12.4" fill="#4D4D4D" text-anchor="end" font-weight="normal" font-style="normal" font-family="Liberation Sans" >8</text>
<line x1="32.10" y1="695.41" x2="34.70" y2="695.41" stroke="#4D4D4D" stroke-width="0.9" />
<text x="31.70" y="699.86" font-size="12.4" fill="#4D4D4D" text-anchor="end" font-weight="normal" font-style="normal" font-family="Liberation Sans" >6</text>
<line x1="32.10" y1="706.56" x2="34.70" y2="706.56" stroke="#4D4D4D" stroke-width="0.9" />
<text x="31.70" y="711.01" font-size="12.4" fill="#4D4D4D" text-anchor="end" font-weight="normal" font-style="normal" font-family="Liberation Sans" >5</text>
<line x1="32.10" y1="719.74" x2="34.70" y2="719.74" stroke="#4D4D4D" stroke-width="0.9" />
<text x="31.70" y="724.19" font-size="12.4" fill="#4D4D4D" text-anchor="end" font-weight="normal" font-style="normal" font-family="Liberation Sans" >4</text>
<line x1="32.10" y1="735.87" x2="34.70" y2="735.87" stroke="#4D4D4D" stroke-width="0.9" />
<text x="31.70" y="740.32" font-size="12.4" fill="#4D4D4D" text-anchor="end" font-weight="normal" font-style="normal" font-family="Liberation Sans" >3</text>
<line x1="32.10" y1="756.67" x2="34.70" y2="756.67" stroke="#4D4D4D" stroke-width="0.9" />
<text x="31.70" y="761.12" font-size="12.4" fill="#4D4D4D" text-anchor="end" font-weight="normal" font-style="normal" font-family="Liberation Sans" >2</text>
<line x1="32.10" y1="769.85" x2="34.70" y2="769.85" stroke="#4D4D4D" stroke-width="0.9" />
<text x="31.70" y="774.30" font-size="12.4" fill="#4D4D4D" text-anchor="end" font-weight="normal" font-style="normal" font-family="Liberation Sans" >1.5</text>
<line x1="32.10" y1="785.99" x2="34.70" y2="785.99" stroke="#4D4D4D" stroke-width="0.9" />
<text x="31.70" y="790.44" font-size="12.4" fill="#4D4D4D" text-anchor="end" font-weight="normal" font-style="normal" font-family="Liberation Sans" >1</text>
<line x1="34.00" y1="786.00" x2="182.00" y2="786.00" stroke="#333" stroke-width="1.5" stroke-dasharray="1.4 4.72" />
<text transform="translate(10.40,695.00) rotate(-90)" text-anchor="middle" font-size="12.2" font-weight="bold" font-family="Liberation Sans" fill="#000">OR (95% CI)</text>
<line x1="43.80" y1="657.30" x2="43.80" y2="780.00" stroke="#5A5A5A" stroke-width="1.6" />
<line x1="40.80" y1="657.30" x2="46.80" y2="657.30" stroke="#5A5A5A" stroke-width="1.6" />
<line x1="40.80" y1="780.00" x2="46.80" y2="780.00" stroke="#5A5A5A" stroke-width="1.6" />
<rect x="40.10" y="726.80" width="7.40" height="7.40" fill="#239148" />
<line x1="67.90" y1="731.70" x2="67.90" y2="782.00" stroke="#5A5A5A" stroke-width="1.6" />
<line x1="64.90" y1="731.70" x2="70.90" y2="731.70" stroke="#5A5A5A" stroke-width="1.6" />
<line x1="64.90" y1="782.00" x2="70.90" y2="782.00" stroke="#5A5A5A" stroke-width="1.6" />
<rect x="64.20" y="755.80" width="7.40" height="7.40" fill="#239148" />
<line x1="92.00" y1="668.70" x2="92.00" y2="787.00" stroke="#5A5A5A" stroke-width="1.6" />
<line x1="89.00" y1="668.70" x2="95.00" y2="668.70" stroke="#5A5A5A" stroke-width="1.6" />
<line x1="89.00" y1="787.00" x2="95.00" y2="787.00" stroke="#5A5A5A" stroke-width="1.6" />
<rect x="88.30" y="736.60" width="7.40" height="7.40" fill="#239148" />
<line x1="116.10" y1="726.80" x2="116.10" y2="778.00" stroke="#5A5A5A" stroke-width="1.6" />
<line x1="113.10" y1="726.80" x2="119.10" y2="726.80" stroke="#5A5A5A" stroke-width="1.6" />
<line x1="113.10" y1="778.00" x2="119.10" y2="778.00" stroke="#5A5A5A" stroke-width="1.6" />
<rect x="112.40" y="751.30" width="7.40" height="7.40" fill="#239148" />
<line x1="140.20" y1="616.40" x2="140.20" y2="776.70" stroke="#5A5A5A" stroke-width="1.6" />
<line x1="137.20" y1="616.40" x2="143.20" y2="616.40" stroke="#5A5A5A" stroke-width="1.6" />
<line x1="137.20" y1="776.70" x2="143.20" y2="776.70" stroke="#5A5A5A" stroke-width="1.6" />
<rect x="136.50" y="711.70" width="7.40" height="7.40" fill="#239148" />
<line x1="164.30" y1="682.60" x2="164.30" y2="751.00" stroke="#5A5A5A" stroke-width="1.6" />
<line x1="161.30" y1="682.60" x2="167.30" y2="682.60" stroke="#5A5A5A" stroke-width="1.6" />
<line x1="161.30" y1="751.00" x2="167.30" y2="751.00" stroke="#5A5A5A" stroke-width="1.6" />
<rect x="160.60" y="716.20" width="7.40" height="7.40" fill="#239148" />
<text x="43.80" y="810.00" font-size="12" fill="#4D4D4D" text-anchor="middle" font-weight="bold" font-style="normal" font-family="Liberation Sans" >Uni</text>
<line x1="43.80" y1="797.70" x2="43.80" y2="799.20" stroke="#4D4D4D" stroke-width="0.9" />
<text x="67.90" y="810.00" font-size="12" fill="#4D4D4D" text-anchor="middle" font-weight="bold" font-style="normal" font-family="Liberation Sans" >PS</text>
<line x1="67.90" y1="797.70" x2="67.90" y2="799.20" stroke="#4D4D4D" stroke-width="0.9" />
<text x="92.00" y="810.00" font-size="12" fill="#4D4D4D" text-anchor="middle" font-weight="bold" font-style="normal" font-family="Liberation Sans" >Uni</text>
<line x1="92.00" y1="797.70" x2="92.00" y2="799.20" stroke="#4D4D4D" stroke-width="0.9" />
<text x="116.10" y="810.00" font-size="12" fill="#4D4D4D" text-anchor="middle" font-weight="bold" font-style="normal" font-family="Liberation Sans" >PS</text>
<line x1="116.10" y1="797.70" x2="116.10" y2="799.20" stroke="#4D4D4D" stroke-width="0.9" />
<text x="140.20" y="810.00" font-size="12" fill="#4D4D4D" text-anchor="middle" font-weight="bold" font-style="normal" font-family="Liberation Sans" >Uni</text>
<line x1="140.20" y1="797.70" x2="140.20" y2="799.20" stroke="#4D4D4D" stroke-width="0.9" />
<text x="164.30" y="810.00" font-size="12" fill="#4D4D4D" text-anchor="middle" font-weight="bold" font-style="normal" font-family="Liberation Sans" >PS</text>
<line x1="164.30" y1="797.70" x2="164.30" y2="799.20" stroke="#4D4D4D" stroke-width="0.9" />
<text x="56.30" y="593.30" font-size="7.2" fill="#000" text-anchor="middle" font-weight="bold" font-style="italic" font-family="Liberation Sans" >PTPRD</text>
<text x="104.80" y="593.30" font-size="7.2" fill="#000" text-anchor="middle" font-weight="bold" font-style="italic" font-family="Liberation Sans" >TP53</text>
<text x="152.30" y="593.30" font-size="7.2" fill="#000" text-anchor="middle" font-weight="bold" font-style="italic" font-family="Liberation Sans" >MYOCD</text>
<text x="69.50" y="603.50" font-size="15" fill="#000" text-anchor="middle" font-weight="bold" font-style="normal" font-family="Liberation Sans" >.</text>
<text x="117.70" y="606.50" font-size="15" fill="#000" text-anchor="middle" font-weight="bold" font-style="normal" font-family="Liberation Sans" >**</text>
<text x="165.60" y="606.50" font-size="15" fill="#000" text-anchor="middle" font-weight="bold" font-style="normal" font-family="Liberation Sans" >***</text>
<text x="194.40" y="686.80" font-size="10.4" fill="#000" text-anchor="start" font-weight="bold" font-style="normal" font-family="Liberation Sans" >response</text>
<rect x="196.10" y="694.10" width="7.90" height="7.80" fill="#239148" />
<text x="209.60" y="702.80" font-size="9.9" fill="#222" text-anchor="start" font-weight="normal" font-style="normal" font-family="Liberation Sans" >better</text>
<line x1="292.70" y1="580.50" x2="292.70" y2="784.70" stroke="#000" stroke-width="1.6" />
<line x1="291.90" y1="784.00" x2="328.70" y2="784.00" stroke="#000" stroke-width="1.6" />
<line x1="290.10" y1="608.80" x2="292.70" y2="608.80" stroke="#4D4D4D" stroke-width="0.9" />
<text x="289.70" y="613.25" font-size="12.4" fill="#4D4D4D" text-anchor="end" font-weight="normal" font-style="normal" font-family="Liberation Sans" >1</text>
<line x1="290.10" y1="627.36" x2="292.70" y2="627.36" stroke="#4D4D4D" stroke-width="0.9" />
<text x="289.70" y="631.81" font-size="12.4" fill="#4D4D4D" text-anchor="end" font-weight="normal" font-style="normal" font-family="Liberation Sans" >0.9</text>
<line x1="290.10" y1="645.92" x2="292.70" y2="645.92" stroke="#4D4D4D" stroke-width="0.9" />
<text x="289.70" y="650.37" font-size="12.4" fill="#4D4D4D" text-anchor="end" font-weight="normal" font-style="normal" font-family="Liberation Sans" >0.8</text>
<line x1="290.10" y1="664.48" x2="292.70" y2="664.48" stroke="#4D4D4D" stroke-width="0.9" />
<text x="289.70" y="668.93" font-size="12.4" fill="#4D4D4D" text-anchor="end" font-weight="normal" font-style="normal" font-family="Liberation Sans" >0.7</text>
<line x1="290.10" y1="683.04" x2="292.70" y2="683.04" stroke="#4D4D4D" stroke-width="0.9" />
<text x="289.70" y="687.49" font-size="12.4" fill="#4D4D4D" text-anchor="end" font-weight="normal" font-style="normal" font-family="Liberation Sans" >0.6</text>
<line x1="290.10" y1="701.60" x2="292.70" y2="701.60" stroke="#4D4D4D" stroke-width="0.9" />
<text x="289.70" y="706.05" font-size="12.4" fill="#4D4D4D" text-anchor="end" font-weight="normal" font-style="normal" font-family="Liberation Sans" >0.5</text>
<line x1="290.10" y1="720.16" x2="292.70" y2="720.16" stroke="#4D4D4D" stroke-width="0.9" />
<text x="289.70" y="724.61" font-size="12.4" fill="#4D4D4D" text-anchor="end" font-weight="normal" font-style="normal" font-family="Liberation Sans" >0.4</text>
<line x1="290.10" y1="738.72" x2="292.70" y2="738.72" stroke="#4D4D4D" stroke-width="0.9" />
<text x="289.70" y="743.17" font-size="12.4" fill="#4D4D4D" text-anchor="end" font-weight="normal" font-style="normal" font-family="Liberation Sans" >0.3</text>
<line x1="290.10" y1="757.28" x2="292.70" y2="757.28" stroke="#4D4D4D" stroke-width="0.9" />
<text x="289.70" y="761.73" font-size="12.4" fill="#4D4D4D" text-anchor="end" font-weight="normal" font-style="normal" font-family="Liberation Sans" >0.2</text>
<line x1="290.10" y1="775.84" x2="292.70" y2="775.84" stroke="#4D4D4D" stroke-width="0.9" />
<text x="289.70" y="780.29" font-size="12.4" fill="#4D4D4D" text-anchor="end" font-weight="normal" font-style="normal" font-family="Liberation Sans" >0.1</text>
<line x1="292.00" y1="608.80" x2="329.00" y2="608.80" stroke="#333" stroke-width="1.5" stroke-dasharray="1.4 4.72" />
<text transform="translate(270.20,687.00) rotate(-90)" text-anchor="middle" font-size="12.2" font-weight="bold" font-family="Liberation Sans" fill="#000">HR (95% CI)</text>
<line x1="296.60" y1="642.50" x2="296.60" y2="773.60" stroke="#5A5A5A" stroke-width="1.6" />
<line x1="294.00" y1="642.50" x2="299.20" y2="642.50" stroke="#5A5A5A" stroke-width="1.6" />
<line x1="294.00" y1="773.60" x2="299.20" y2="773.60" stroke="#5A5A5A" stroke-width="1.6" />
<rect x="292.90" y="734.80" width="7.40" height="7.40" fill="#239148" />
<line x1="324.80" y1="649.60" x2="324.80" y2="775.50" stroke="#5A5A5A" stroke-width="1.6" />
<line x1="322.20" y1="649.60" x2="327.40" y2="649.60" stroke="#5A5A5A" stroke-width="1.6" />
<line x1="322.20" y1="775.50" x2="327.40" y2="775.50" stroke="#5A5A5A" stroke-width="1.6" />
<rect x="321.10" y="740.30" width="7.40" height="7.40" fill="#239148" />
<text x="311.00" y="592.60" font-size="6.9" fill="#000" text-anchor="middle" font-weight="bold" font-style="italic" font-family="Liberation Sans" >KMT2D</text>
<text x="300.40" y="604.60" font-size="6.8" fill="#000" text-anchor="middle" font-weight="bold" font-style="normal" font-family="Liberation Sans" >*</text>
<text x="320.10" y="604.60" font-size="6.8" fill="#000" text-anchor="middle" font-weight="bold" font-style="normal" font-family="Liberation Sans" >*</text>
<line x1="296.60" y1="784.70" x2="296.60" y2="786.20" stroke="#4D4D4D" stroke-width="0.9" />
<line x1="324.80" y1="784.70" x2="324.80" y2="786.20" stroke="#4D4D4D" stroke-width="0.9" />
<text transform="translate(301.80,794.40) rotate(-35)" text-anchor="end" font-size="12" font-weight="bold" font-family="Liberation Sans" fill="#4D4D4D">Uni</text>
<text transform="translate(330.00,794.40) rotate(-35)" text-anchor="end" font-size="12" font-weight="bold" font-family="Liberation Sans" fill="#4D4D4D">Multi</text>
<text x="339.00" y="680.00" font-size="10.6" fill="#000" text-anchor="start" font-weight="bold" font-style="normal" font-family="Liberation Sans" >PFS</text>
<rect x="342.00" y="688.40" width="7.40" height="7.40" fill="#239148" />
<text x="354.40" y="696.00" font-size="10.0" fill="#222" text-anchor="start" font-weight="normal" font-style="normal" font-family="Liberation Sans" >longer</text>
<line x1="423.40" y1="580.50" x2="423.40" y2="784.70" stroke="#000" stroke-width="1.6" />
<line x1="422.60" y1="784.00" x2="460.30" y2="784.00" stroke="#000" stroke-width="1.6" />
<line x1="420.80" y1="608.20" x2="423.40" y2="608.20" stroke="#4D4D4D" stroke-width="0.9" />
<text x="420.40" y="612.65" font-size="12.4" fill="#4D4D4D" text-anchor="end" font-weight="normal" font-style="normal" font-family="Liberation Sans" >1</text>
<line x1="420.80" y1="625.60" x2="423.40" y2="625.60" stroke="#4D4D4D" stroke-width="0.9" />
<text x="420.40" y="630.05" font-size="12.4" fill="#4D4D4D" text-anchor="end" font-weight="normal" font-style="normal" font-family="Liberation Sans" >0.9</text>
<line x1="420.80" y1="643.00" x2="423.40" y2="643.00" stroke="#4D4D4D" stroke-width="0.9" />
<text x="420.40" y="647.45" font-size="12.4" fill="#4D4D4D" text-anchor="end" font-weight="normal" font-style="normal" font-family="Liberation Sans" >0.8</text>
<line x1="420.80" y1="660.40" x2="423.40" y2="660.40" stroke="#4D4D4D" stroke-width="0.9" />
<text x="420.40" y="664.85" font-size="12.4" fill="#4D4D4D" text-anchor="end" font-weight="normal" font-style="normal" font-family="Liberation Sans" >0.7</text>
<line x1="420.80" y1="677.80" x2="423.40" y2="677.80" stroke="#4D4D4D" stroke-width="0.9" />
<text x="420.40" y="682.25" font-size="12.4" fill="#4D4D4D" text-anchor="end" font-weight="normal" font-style="normal" font-family="Liberation Sans" >0.6</text>
<line x1="420.80" y1="695.20" x2="423.40" y2="695.20" stroke="#4D4D4D" stroke-width="0.9" />
<text x="420.40" y="699.65" font-size="12.4" fill="#4D4D4D" text-anchor="end" font-weight="normal" font-style="normal" font-family="Liberation Sans" >0.5</text>
<line x1="420.80" y1="712.60" x2="423.40" y2="712.60" stroke="#4D4D4D" stroke-width="0.9" />
<text x="420.40" y="717.05" font-size="12.4" fill="#4D4D4D" text-anchor="end" font-weight="normal" font-style="normal" font-family="Liberation Sans" >0.4</text>
<line x1="420.80" y1="730.00" x2="423.40" y2="730.00" stroke="#4D4D4D" stroke-width="0.9" />
<text x="420.40" y="734.45" font-size="12.4" fill="#4D4D4D" text-anchor="end" font-weight="normal" font-style="normal" font-family="Liberation Sans" >0.3</text>
<line x1="420.80" y1="747.40" x2="423.40" y2="747.40" stroke="#4D4D4D" stroke-width="0.9" />
<text x="420.40" y="751.85" font-size="12.4" fill="#4D4D4D" text-anchor="end" font-weight="normal" font-style="normal" font-family="Liberation Sans" >0.2</text>
<line x1="420.80" y1="764.80" x2="423.40" y2="764.80" stroke="#4D4D4D" stroke-width="0.9" />
<text x="420.40" y="769.25" font-size="12.4" fill="#4D4D4D" text-anchor="end" font-weight="normal" font-style="normal" font-family="Liberation Sans" >0.1</text>
<line x1="420.80" y1="782.20" x2="423.40" y2="782.20" stroke="#4D4D4D" stroke-width="0.9" />
<text x="420.40" y="786.65" font-size="12.4" fill="#4D4D4D" text-anchor="end" font-weight="normal" font-style="normal" font-family="Liberation Sans" >0</text>
<line x1="422.70" y1="608.20" x2="461.00" y2="608.20" stroke="#333" stroke-width="1.5" stroke-dasharray="1.4 4.72" />
<text transform="translate(400.70,687.00) rotate(-90)" text-anchor="middle" font-size="12.2" font-weight="bold" font-family="Liberation Sans" fill="#000">HR (95% CI)</text>
<line x1="426.60" y1="660.00" x2="426.60" y2="775.80" stroke="#5A5A5A" stroke-width="1.6" />
<line x1="424.00" y1="660.00" x2="429.20" y2="660.00" stroke="#5A5A5A" stroke-width="1.6" />
<line x1="424.00" y1="775.80" x2="429.20" y2="775.80" stroke="#5A5A5A" stroke-width="1.6" />
<rect x="422.90" y="749.30" width="7.40" height="7.40" fill="#239148" />
<line x1="454.90" y1="651.50" x2="454.90" y2="775.80" stroke="#5A5A5A" stroke-width="1.6" />
<line x1="452.30" y1="651.50" x2="457.50" y2="651.50" stroke="#5A5A5A" stroke-width="1.6" />
<line x1="452.30" y1="775.80" x2="457.50" y2="775.80" stroke="#5A5A5A" stroke-width="1.6" />
<rect x="451.20" y="747.30" width="7.40" height="7.40" fill="#239148" />
<text x="441.40" y="592.60" font-size="6.9" fill="#000" text-anchor="middle" font-weight="bold" font-style="italic" font-family="Liberation Sans" >FLT4</text>
<text x="430.80" y="604.60" font-size="6.8" fill="#000" text-anchor="middle" font-weight="bold" font-style="normal" font-family="Liberation Sans" >*</text>
<text x="450.00" y="604.60" font-size="6.8" fill="#000" text-anchor="middle" font-weight="bold" font-style="normal" font-family="Liberation Sans" >*</text>
<line x1="426.60" y1="784.70" x2="426.60" y2="786.20" stroke="#4D4D4D" stroke-width="0.9" />
<line x1="454.90" y1="784.70" x2="454.90" y2="786.20" stroke="#4D4D4D" stroke-width="0.9" />
<text transform="translate(431.80,794.40) rotate(-35)" text-anchor="end" font-size="12" font-weight="bold" font-family="Liberation Sans" fill="#4D4D4D">Uni</text>
<text transform="translate(460.10,794.40) rotate(-35)" text-anchor="end" font-size="12" font-weight="bold" font-family="Liberation Sans" fill="#4D4D4D">Multi</text>
<text x="470.00" y="679.50" font-size="14" fill="#000" text-anchor="start" font-weight="bold" font-style="normal" font-family="Liberation Sans" >PFS</text>
<rect x="472.50" y="688.00" width="6.80" height="7.40" fill="#239148" />
<text x="485.00" y="696.30" font-size="11.5" fill="#222" text-anchor="start" font-weight="normal" font-style="normal" font-family="Liberation Sans" >longer</text>
<rect x="495.7" y="747.5" width="150.2" height="62.4" rx="3.5" ry="3.5" fill="none" stroke="#000" stroke-width="1.25"/>
<text x="498.90" y="759.50" font-size="12.1" font-weight="bold" font-family="Liberation Sans" fill="#111" textLength="130.1" lengthAdjust="spacingAndGlyphs">Uni: <tspan font-style="italic">Univariate regression</tspan></text>
<text x="498.90" y="774.90" font-size="12.1" font-weight="bold" font-family="Liberation Sans" fill="#111" textLength="145.3" lengthAdjust="spacingAndGlyphs">Multi: <tspan font-style="italic">Multivariate regression</tspan></text>
<text x="498.90" y="790.10" font-size="12.1" font-weight="bold" font-family="Liberation Sans" fill="#111" textLength="106.1" lengthAdjust="spacingAndGlyphs">PS: <tspan font-style="italic">Propensity Score</tspan></text>
<text x="519.20" y="805.20" font-size="12.1" font-weight="bold" font-family="Liberation Sans" fill="#111" textLength="105.1" lengthAdjust="spacingAndGlyphs"><tspan font-style="italic">weighting regression</tspan></text>
</svg>
</body></html>
